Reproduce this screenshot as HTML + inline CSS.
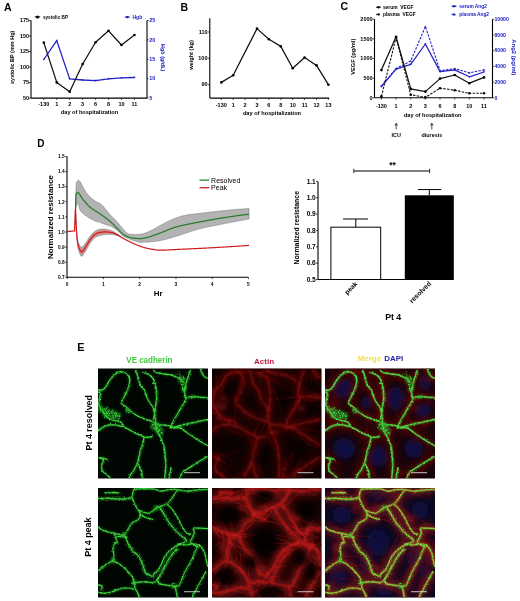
<!DOCTYPE html>
<html><head><meta charset="utf-8"><style>
html,body{margin:0;padding:0;background:#fff;}
svg{display:block;font-family:"Liberation Sans", sans-serif;filter:blur(0.35px);}
</style></head><body>
<svg width="520" height="601" viewBox="0 0 520 601">
<rect width="520" height="601" fill="#fff"/>
<defs>
<filter id="jag" x="-5%" y="-5%" width="110%" height="110%"><feTurbulence type="fractalNoise" baseFrequency="0.4" numOctaves="2" seed="3" result="n"/><feDisplacementMap in="SourceGraphic" in2="n" scale="2.0" xChannelSelector="R" yChannelSelector="G" result="d"/><feGaussianBlur in="d" stdDeviation="0.3"/></filter>
<filter id="jag2" x="-5%" y="-5%" width="110%" height="110%"><feTurbulence type="fractalNoise" baseFrequency="0.5" numOctaves="2" seed="9" result="n"/><feDisplacementMap in="SourceGraphic" in2="n" scale="2.6" xChannelSelector="R" yChannelSelector="G" result="d"/><feGaussianBlur in="d" stdDeviation="0.35"/></filter>
<filter id="jb" x="-5%" y="-5%" width="110%" height="110%"><feTurbulence type="fractalNoise" baseFrequency="0.3" numOctaves="2" seed="5" result="n"/><feDisplacementMap in="SourceGraphic" in2="n" scale="3" xChannelSelector="R" yChannelSelector="G" result="d"/><feGaussianBlur in="d" stdDeviation="0.9"/></filter>
<filter id="gt" x="-5%" y="-5%" width="110%" height="110%"><feTurbulence type="fractalNoise" baseFrequency="0.55" numOctaves="2" seed="2" result="n"/><feColorMatrix in="n" type="matrix" values="0 0 0 0 1  0 0 0 0 1  0 0 0 0 1  0 0 0 2.2 -0.35" result="na"/><feDisplacementMap in="SourceGraphic" in2="n" scale="2.4" xChannelSelector="R" yChannelSelector="G" result="d"/><feComposite in="d" in2="na" operator="in" result="m"/><feGaussianBlur in="m" stdDeviation="0.3"/></filter>
<filter id="gt2" x="-20%" y="-20%" width="140%" height="140%"><feTurbulence type="fractalNoise" baseFrequency="0.7" numOctaves="2" seed="4" result="n"/><feColorMatrix in="n" type="matrix" values="0 0 0 0 1  0 0 0 0 1  0 0 0 0 1  0 0 0 3.5 -1.5" result="na"/><feDisplacementMap in="SourceGraphic" in2="n" scale="4" xChannelSelector="R" yChannelSelector="G" result="d"/><feComposite in="d" in2="na" operator="in" result="m"/><feGaussianBlur in="m" stdDeviation="0.4"/></filter>
<filter id="bl" x="-50%" y="-50%" width="200%" height="200%"><feGaussianBlur stdDeviation="1.2"/></filter>
<filter id="rb" x="-5%" y="-5%" width="110%" height="110%"><feGaussianBlur stdDeviation="0.8"/></filter><filter id="rjag2" x="-5%" y="-5%" width="110%" height="110%"><feTurbulence type="fractalNoise" baseFrequency="0.3" numOctaves="2" seed="8" result="n"/><feDisplacementMap in="SourceGraphic" in2="n" scale="3" xChannelSelector="R" yChannelSelector="G" result="d"/><feGaussianBlur in="d" stdDeviation="1.1"/></filter><filter id="rb2" x="-5%" y="-5%" width="110%" height="110%"><feGaussianBlur stdDeviation="0.4"/></filter><filter id="rjag" x="-5%" y="-5%" width="110%" height="110%"><feTurbulence type="fractalNoise" baseFrequency="0.3" numOctaves="2" seed="7" result="n"/><feDisplacementMap in="SourceGraphic" in2="n" scale="2.5" xChannelSelector="R" yChannelSelector="G" result="d"/><feGaussianBlur in="d" stdDeviation="0.75"/></filter>
<filter id="hz" x="-10%" y="-10%" width="120%" height="120%"><feGaussianBlur stdDeviation="3.5"/></filter>
<filter id="nb" x="-50%" y="-50%" width="200%" height="200%"><feGaussianBlur stdDeviation="2.5"/></filter>
<clipPath id="pc"><rect width="110" height="110"/></clipPath>
</defs>
<text x="4.00" y="11.00" font-size="10.5" font-weight="bold" text-anchor="start" fill="#000">A</text>
<line x1="31.00" y1="20.50" x2="31.00" y2="98.10" stroke="#000" stroke-width="1.1"/>
<line x1="147.00" y1="20.50" x2="147.00" y2="98.10" stroke="#000" stroke-width="1.1"/>
<line x1="31.00" y1="98.10" x2="147.00" y2="98.10" stroke="#000" stroke-width="1.1"/>
<line x1="29.00" y1="20.50" x2="31.00" y2="20.50" stroke="#000" stroke-width="0.7"/>
<text x="29.20" y="22.20" font-size="5.5" font-weight="bold" text-anchor="end" fill="#000">175</text>
<line x1="29.00" y1="36.02" x2="31.00" y2="36.02" stroke="#000" stroke-width="0.7"/>
<text x="29.20" y="37.72" font-size="5.5" font-weight="bold" text-anchor="end" fill="#000">150</text>
<line x1="29.00" y1="51.54" x2="31.00" y2="51.54" stroke="#000" stroke-width="0.7"/>
<text x="29.20" y="53.24" font-size="5.5" font-weight="bold" text-anchor="end" fill="#000">125</text>
<line x1="29.00" y1="67.06" x2="31.00" y2="67.06" stroke="#000" stroke-width="0.7"/>
<text x="29.20" y="68.76" font-size="5.5" font-weight="bold" text-anchor="end" fill="#000">100</text>
<line x1="29.00" y1="82.58" x2="31.00" y2="82.58" stroke="#000" stroke-width="0.7"/>
<text x="29.20" y="84.28" font-size="5.5" font-weight="bold" text-anchor="end" fill="#000">75</text>
<line x1="29.00" y1="98.10" x2="31.00" y2="98.10" stroke="#000" stroke-width="0.7"/>
<text x="29.20" y="99.80" font-size="5.5" font-weight="bold" text-anchor="end" fill="#000">50</text>
<line x1="147.00" y1="20.50" x2="148.60" y2="20.50" stroke="#000" stroke-width="0.7"/>
<text x="149.30" y="22.20" font-size="5.5" font-weight="bold" text-anchor="start" fill="#2020c8">25</text>
<line x1="147.00" y1="39.90" x2="148.60" y2="39.90" stroke="#000" stroke-width="0.7"/>
<text x="149.30" y="41.60" font-size="5.5" font-weight="bold" text-anchor="start" fill="#2020c8">20</text>
<line x1="147.00" y1="59.30" x2="148.60" y2="59.30" stroke="#000" stroke-width="0.7"/>
<text x="149.30" y="61.00" font-size="5.5" font-weight="bold" text-anchor="start" fill="#2020c8">15</text>
<line x1="147.00" y1="78.70" x2="148.60" y2="78.70" stroke="#000" stroke-width="0.7"/>
<text x="149.30" y="80.40" font-size="5.5" font-weight="bold" text-anchor="start" fill="#2020c8">10</text>
<line x1="147.00" y1="98.10" x2="148.60" y2="98.10" stroke="#000" stroke-width="0.7"/>
<text x="149.30" y="99.80" font-size="5.5" font-weight="bold" text-anchor="start" fill="#2020c8">5</text>
<line x1="43.80" y1="98.10" x2="43.80" y2="99.90" stroke="#000" stroke-width="0.7"/>
<text x="43.80" y="106.00" font-size="5.5" font-weight="bold" text-anchor="middle" fill="#000">-130</text>
<line x1="56.75" y1="98.10" x2="56.75" y2="99.90" stroke="#000" stroke-width="0.7"/>
<text x="56.75" y="106.00" font-size="5.5" font-weight="bold" text-anchor="middle" fill="#000">1</text>
<line x1="69.70" y1="98.10" x2="69.70" y2="99.90" stroke="#000" stroke-width="0.7"/>
<text x="69.70" y="106.00" font-size="5.5" font-weight="bold" text-anchor="middle" fill="#000">2</text>
<line x1="82.65" y1="98.10" x2="82.65" y2="99.90" stroke="#000" stroke-width="0.7"/>
<text x="82.65" y="106.00" font-size="5.5" font-weight="bold" text-anchor="middle" fill="#000">3</text>
<line x1="95.60" y1="98.10" x2="95.60" y2="99.90" stroke="#000" stroke-width="0.7"/>
<text x="95.60" y="106.00" font-size="5.5" font-weight="bold" text-anchor="middle" fill="#000">6</text>
<line x1="108.55" y1="98.10" x2="108.55" y2="99.90" stroke="#000" stroke-width="0.7"/>
<text x="108.55" y="106.00" font-size="5.5" font-weight="bold" text-anchor="middle" fill="#000">8</text>
<line x1="121.50" y1="98.10" x2="121.50" y2="99.90" stroke="#000" stroke-width="0.7"/>
<text x="121.50" y="106.00" font-size="5.5" font-weight="bold" text-anchor="middle" fill="#000">10</text>
<line x1="134.45" y1="98.10" x2="134.45" y2="99.90" stroke="#000" stroke-width="0.7"/>
<text x="134.45" y="106.00" font-size="5.5" font-weight="bold" text-anchor="middle" fill="#000">11</text>
<text x="89.50" y="114.20" font-size="5.6" font-weight="bold" text-anchor="middle" fill="#000" textLength="57.3" lengthAdjust="spacingAndGlyphs">day of hospitalization</text>
<text x="14.40" y="57.30" font-size="5.6" font-weight="bold" text-anchor="middle" fill="#000" transform="rotate(-90 14.4 57.3)" textLength="53.3" lengthAdjust="spacingAndGlyphs">systolic BP (mm Hg)</text>
<text x="161.30" y="57.70" font-size="5.8" font-weight="bold" text-anchor="middle" fill="#2020c8" transform="rotate(90 161.3 57.7)" textLength="27.3" lengthAdjust="spacingAndGlyphs">Hgb (g/dL)</text>
<line x1="34.80" y1="16.90" x2="40.20" y2="16.90" stroke="#000" stroke-width="1.0"/>
<circle cx="37.50" cy="16.90" r="1.5" fill="#000"/>
<text x="42.90" y="18.60" font-size="4.67" font-weight="bold" text-anchor="start" fill="#000">systolic BP</text>
<line x1="124.80" y1="17.20" x2="129.80" y2="17.20" stroke="#2020c8" stroke-width="1.0"/>
<path d="M125.60,16.01 L129.00,16.01 L127.30,18.73Z" fill="#2020c8"/>
<text x="132.50" y="18.90" font-size="5.0" font-weight="bold" text-anchor="start" fill="#2020c8">Hgb</text>
<polyline points="43.80,59.50 56.75,40.60 69.70,78.90 82.65,80.00 95.60,80.60 108.55,78.90 121.50,77.90 134.45,77.50" fill="none" stroke="#2020c8" stroke-width="1.3" stroke-linejoin="round"/>
<path d="M42.60,58.66 L45.00,58.66 L43.80,60.58Z" fill="#2020c8"/>
<path d="M55.55,39.76 L57.95,39.76 L56.75,41.68Z" fill="#2020c8"/>
<path d="M68.50,78.06 L70.90,78.06 L69.70,79.98Z" fill="#2020c8"/>
<path d="M81.45,79.16 L83.85,79.16 L82.65,81.08Z" fill="#2020c8"/>
<path d="M94.40,79.76 L96.80,79.76 L95.60,81.68Z" fill="#2020c8"/>
<path d="M107.35,78.06 L109.75,78.06 L108.55,79.98Z" fill="#2020c8"/>
<path d="M120.30,77.06 L122.70,77.06 L121.50,78.98Z" fill="#2020c8"/>
<path d="M133.25,76.66 L135.65,76.66 L134.45,78.58Z" fill="#2020c8"/>
<polyline points="43.80,42.60 56.75,82.40 69.70,91.70 82.65,64.00 95.60,42.20 108.55,30.80 121.50,45.00 134.45,35.00" fill="none" stroke="#111" stroke-width="1.25" stroke-linejoin="round"/>
<circle cx="43.80" cy="42.60" r="1.3" fill="#000"/>
<circle cx="56.75" cy="82.40" r="1.3" fill="#000"/>
<circle cx="69.70" cy="91.70" r="1.3" fill="#000"/>
<circle cx="82.65" cy="64.00" r="1.3" fill="#000"/>
<circle cx="95.60" cy="42.20" r="1.3" fill="#000"/>
<circle cx="108.55" cy="30.80" r="1.3" fill="#000"/>
<circle cx="121.50" cy="45.00" r="1.3" fill="#000"/>
<circle cx="134.45" cy="35.00" r="1.3" fill="#000"/>
<text x="180.40" y="10.70" font-size="10.5" font-weight="bold" text-anchor="start" fill="#000">B</text>
<line x1="209.80" y1="18.20" x2="209.80" y2="98.10" stroke="#000" stroke-width="1.1"/>
<line x1="209.80" y1="98.10" x2="329.20" y2="98.10" stroke="#000" stroke-width="1.1"/>
<line x1="207.80" y1="32.00" x2="209.80" y2="32.00" stroke="#000" stroke-width="0.7"/>
<text x="207.50" y="33.70" font-size="5.5" font-weight="bold" text-anchor="end" fill="#000">110</text>
<line x1="207.80" y1="58.30" x2="209.80" y2="58.30" stroke="#000" stroke-width="0.7"/>
<text x="207.50" y="60.00" font-size="5.5" font-weight="bold" text-anchor="end" fill="#000">100</text>
<line x1="207.80" y1="84.60" x2="209.80" y2="84.60" stroke="#000" stroke-width="0.7"/>
<text x="207.50" y="86.30" font-size="5.5" font-weight="bold" text-anchor="end" fill="#000">90</text>
<line x1="221.30" y1="98.10" x2="221.30" y2="99.90" stroke="#000" stroke-width="0.7"/>
<text x="221.30" y="106.80" font-size="5.5" font-weight="bold" text-anchor="middle" fill="#000">-130</text>
<line x1="233.20" y1="98.10" x2="233.20" y2="99.90" stroke="#000" stroke-width="0.7"/>
<text x="233.20" y="106.80" font-size="5.5" font-weight="bold" text-anchor="middle" fill="#000">1</text>
<line x1="245.10" y1="98.10" x2="245.10" y2="99.90" stroke="#000" stroke-width="0.7"/>
<text x="245.10" y="106.80" font-size="5.5" font-weight="bold" text-anchor="middle" fill="#000">2</text>
<line x1="257.00" y1="98.10" x2="257.00" y2="99.90" stroke="#000" stroke-width="0.7"/>
<text x="257.00" y="106.80" font-size="5.5" font-weight="bold" text-anchor="middle" fill="#000">3</text>
<line x1="268.90" y1="98.10" x2="268.90" y2="99.90" stroke="#000" stroke-width="0.7"/>
<text x="268.90" y="106.80" font-size="5.5" font-weight="bold" text-anchor="middle" fill="#000">6</text>
<line x1="280.80" y1="98.10" x2="280.80" y2="99.90" stroke="#000" stroke-width="0.7"/>
<text x="280.80" y="106.80" font-size="5.5" font-weight="bold" text-anchor="middle" fill="#000">8</text>
<line x1="292.70" y1="98.10" x2="292.70" y2="99.90" stroke="#000" stroke-width="0.7"/>
<text x="292.70" y="106.80" font-size="5.5" font-weight="bold" text-anchor="middle" fill="#000">10</text>
<line x1="304.60" y1="98.10" x2="304.60" y2="99.90" stroke="#000" stroke-width="0.7"/>
<text x="304.60" y="106.80" font-size="5.5" font-weight="bold" text-anchor="middle" fill="#000">11</text>
<line x1="316.50" y1="98.10" x2="316.50" y2="99.90" stroke="#000" stroke-width="0.7"/>
<text x="316.50" y="106.80" font-size="5.5" font-weight="bold" text-anchor="middle" fill="#000">12</text>
<line x1="328.40" y1="98.10" x2="328.40" y2="99.90" stroke="#000" stroke-width="0.7"/>
<text x="328.40" y="106.80" font-size="5.5" font-weight="bold" text-anchor="middle" fill="#000">13</text>
<text x="272.00" y="114.60" font-size="5.6" font-weight="bold" text-anchor="middle" fill="#000" textLength="58.2" lengthAdjust="spacingAndGlyphs">day of hospitalization</text>
<text x="192.60" y="55.00" font-size="5.4" font-weight="bold" text-anchor="middle" fill="#000" transform="rotate(-90 192.6 55.0)" textLength="29.7" lengthAdjust="spacingAndGlyphs">weight (kg)</text>
<polyline points="221.30,82.40 233.20,75.20 257.00,28.60 268.90,39.20 280.80,46.40 292.70,68.30 304.60,57.50 316.50,65.40 328.40,84.70" fill="none" stroke="#111" stroke-width="1.25" stroke-linejoin="round"/>
<circle cx="221.30" cy="82.40" r="1.3" fill="#000"/>
<circle cx="233.20" cy="75.20" r="1.3" fill="#000"/>
<circle cx="257.00" cy="28.60" r="1.3" fill="#000"/>
<circle cx="268.90" cy="39.20" r="1.3" fill="#000"/>
<circle cx="280.80" cy="46.40" r="1.3" fill="#000"/>
<circle cx="292.70" cy="68.30" r="1.3" fill="#000"/>
<circle cx="304.60" cy="57.50" r="1.3" fill="#000"/>
<circle cx="316.50" cy="65.40" r="1.3" fill="#000"/>
<circle cx="328.40" cy="84.70" r="1.3" fill="#000"/>
<text x="340.50" y="10.20" font-size="10.5" font-weight="bold" text-anchor="start" fill="#000">C</text>
<line x1="374.50" y1="19.20" x2="374.50" y2="97.80" stroke="#000" stroke-width="1.1"/>
<line x1="492.50" y1="19.20" x2="492.50" y2="97.80" stroke="#000" stroke-width="1.1"/>
<line x1="374.50" y1="97.80" x2="492.50" y2="97.80" stroke="#000" stroke-width="1.1"/>
<line x1="372.50" y1="19.20" x2="374.50" y2="19.20" stroke="#000" stroke-width="0.7"/>
<text x="372.60" y="20.90" font-size="5.5" font-weight="bold" text-anchor="end" fill="#000">2000</text>
<line x1="372.50" y1="38.85" x2="374.50" y2="38.85" stroke="#000" stroke-width="0.7"/>
<text x="372.60" y="40.55" font-size="5.5" font-weight="bold" text-anchor="end" fill="#000">1500</text>
<line x1="372.50" y1="58.50" x2="374.50" y2="58.50" stroke="#000" stroke-width="0.7"/>
<text x="372.60" y="60.20" font-size="5.5" font-weight="bold" text-anchor="end" fill="#000">1000</text>
<line x1="372.50" y1="78.15" x2="374.50" y2="78.15" stroke="#000" stroke-width="0.7"/>
<text x="372.60" y="79.85" font-size="5.5" font-weight="bold" text-anchor="end" fill="#000">500</text>
<line x1="372.50" y1="97.80" x2="374.50" y2="97.80" stroke="#000" stroke-width="0.7"/>
<text x="372.60" y="99.50" font-size="5.5" font-weight="bold" text-anchor="end" fill="#000">0</text>
<line x1="492.50" y1="19.20" x2="494.10" y2="19.20" stroke="#000" stroke-width="0.7"/>
<text x="494.40" y="20.90" font-size="5.2" font-weight="bold" text-anchor="start" fill="#2020c8">10000</text>
<line x1="492.50" y1="34.92" x2="494.10" y2="34.92" stroke="#000" stroke-width="0.7"/>
<text x="494.40" y="36.62" font-size="5.2" font-weight="bold" text-anchor="start" fill="#2020c8">8000</text>
<line x1="492.50" y1="50.64" x2="494.10" y2="50.64" stroke="#000" stroke-width="0.7"/>
<text x="494.40" y="52.34" font-size="5.2" font-weight="bold" text-anchor="start" fill="#2020c8">6000</text>
<line x1="492.50" y1="66.36" x2="494.10" y2="66.36" stroke="#000" stroke-width="0.7"/>
<text x="494.40" y="68.06" font-size="5.2" font-weight="bold" text-anchor="start" fill="#2020c8">4000</text>
<line x1="492.50" y1="82.08" x2="494.10" y2="82.08" stroke="#000" stroke-width="0.7"/>
<text x="494.40" y="83.78" font-size="5.2" font-weight="bold" text-anchor="start" fill="#2020c8">2000</text>
<line x1="492.50" y1="97.80" x2="494.10" y2="97.80" stroke="#000" stroke-width="0.7"/>
<text x="494.40" y="99.50" font-size="5.2" font-weight="bold" text-anchor="start" fill="#2020c8">0</text>
<line x1="381.40" y1="97.80" x2="381.40" y2="99.60" stroke="#000" stroke-width="0.7"/>
<text x="381.40" y="107.50" font-size="5.5" font-weight="bold" text-anchor="middle" fill="#000">-130</text>
<line x1="396.06" y1="97.80" x2="396.06" y2="99.60" stroke="#000" stroke-width="0.7"/>
<text x="396.06" y="107.50" font-size="5.5" font-weight="bold" text-anchor="middle" fill="#000">1</text>
<line x1="410.72" y1="97.80" x2="410.72" y2="99.60" stroke="#000" stroke-width="0.7"/>
<text x="410.72" y="107.50" font-size="5.5" font-weight="bold" text-anchor="middle" fill="#000">2</text>
<line x1="425.38" y1="97.80" x2="425.38" y2="99.60" stroke="#000" stroke-width="0.7"/>
<text x="425.38" y="107.50" font-size="5.5" font-weight="bold" text-anchor="middle" fill="#000">3</text>
<line x1="440.04" y1="97.80" x2="440.04" y2="99.60" stroke="#000" stroke-width="0.7"/>
<text x="440.04" y="107.50" font-size="5.5" font-weight="bold" text-anchor="middle" fill="#000">6</text>
<line x1="454.70" y1="97.80" x2="454.70" y2="99.60" stroke="#000" stroke-width="0.7"/>
<text x="454.70" y="107.50" font-size="5.5" font-weight="bold" text-anchor="middle" fill="#000">8</text>
<line x1="469.36" y1="97.80" x2="469.36" y2="99.60" stroke="#000" stroke-width="0.7"/>
<text x="469.36" y="107.50" font-size="5.5" font-weight="bold" text-anchor="middle" fill="#000">10</text>
<line x1="484.02" y1="97.80" x2="484.02" y2="99.60" stroke="#000" stroke-width="0.7"/>
<text x="484.02" y="107.50" font-size="5.5" font-weight="bold" text-anchor="middle" fill="#000">11</text>
<text x="432.70" y="117.20" font-size="5.6" font-weight="bold" text-anchor="middle" fill="#000" textLength="57.7" lengthAdjust="spacingAndGlyphs">day of hospitalization</text>
<text x="355.20" y="56.70" font-size="5.5" font-weight="bold" text-anchor="middle" fill="#000" transform="rotate(-90 355.2 56.7)" textLength="36" lengthAdjust="spacingAndGlyphs">VEGF (pg/ml)</text>
<text x="512.30" y="57.30" font-size="5.8" font-weight="bold" text-anchor="middle" fill="#2020c8" transform="rotate(90 512.3 57.3)" textLength="36" lengthAdjust="spacingAndGlyphs">Ang2 (pg/ml)</text>
<line x1="396.20" y1="124.00" x2="396.20" y2="129.50" stroke="#000" stroke-width="0.7"/>
<path d="M394.90,125.6 L396.2,123.2 L397.50,125.6" fill="none" stroke="#000" stroke-width="0.7"/>
<text x="396.20" y="136.60" font-size="5.4" font-weight="bold" text-anchor="middle" fill="#000">ICU</text>
<line x1="431.80" y1="124.00" x2="431.80" y2="129.50" stroke="#000" stroke-width="0.7"/>
<path d="M430.50,125.6 L431.8,123.2 L433.10,125.6" fill="none" stroke="#000" stroke-width="0.7"/>
<text x="431.80" y="136.60" font-size="5.4" font-weight="bold" text-anchor="middle" fill="#000">diuresis</text>
<line x1="376.00" y1="7.20" x2="381.00" y2="7.20" stroke="#000" stroke-width="0.9"/>
<circle cx="378.50" cy="7.20" r="1.2" fill="#000"/>
<text x="382.90" y="8.90" font-size="4.9" font-weight="bold" text-anchor="start" fill="#000">serum&#160;&#160;VEGF</text>
<line x1="376.00" y1="14.40" x2="381.00" y2="14.40" stroke="#000" stroke-width="0.9" stroke-dasharray="1.5,1"/>
<circle cx="378.50" cy="14.40" r="1.2" fill="#000"/>
<text x="382.90" y="16.20" font-size="4.9" font-weight="bold" text-anchor="start" fill="#000">plasma&#160;&#160;VEGF</text>
<line x1="451.50" y1="6.40" x2="456.50" y2="6.40" stroke="#2020c8" stroke-width="1.0"/>
<path d="M452.30,5.21 L455.70,5.21 L454.00,7.93Z" fill="#2020c8"/>
<text x="459.30" y="8.10" font-size="4.8" font-weight="bold" text-anchor="start" fill="#2020c8">serum Ang2</text>
<line x1="451.50" y1="14.30" x2="456.50" y2="14.30" stroke="#2020c8" stroke-width="1.0" stroke-dasharray="1.5,1"/>
<path d="M452.40,15.42 L455.60,15.42 L454.00,12.86Z" fill="#2020c8"/>
<text x="459.30" y="16.00" font-size="4.8" font-weight="bold" text-anchor="start" fill="#2020c8">plasma Ang2</text>
<polyline points="381.40,86.00 396.06,68.50 410.72,61.00 425.38,26.50 440.04,70.80 454.70,68.60 469.36,72.80 484.02,69.80" fill="none" stroke="#2020c8" stroke-width="1.1" stroke-linejoin="round" stroke-dasharray="2.4,1.3"/>
<polyline points="381.40,86.60 396.06,69.10 410.72,64.40 425.38,44.00 440.04,71.60 454.70,69.90 469.36,76.80 484.02,72.00" fill="none" stroke="#2020c8" stroke-width="1.25" stroke-linejoin="round"/>
<path d="M380.20,85.76 L382.60,85.76 L381.40,87.68Z" fill="#2020c8"/>
<path d="M394.86,68.26 L397.26,68.26 L396.06,70.18Z" fill="#2020c8"/>
<path d="M409.52,63.56 L411.92,63.56 L410.72,65.48Z" fill="#2020c8"/>
<path d="M424.18,43.16 L426.58,43.16 L425.38,45.08Z" fill="#2020c8"/>
<path d="M438.84,70.76 L441.24,70.76 L440.04,72.68Z" fill="#2020c8"/>
<path d="M453.50,69.06 L455.90,69.06 L454.70,70.98Z" fill="#2020c8"/>
<path d="M468.16,75.96 L470.56,75.96 L469.36,77.88Z" fill="#2020c8"/>
<path d="M482.82,71.16 L485.22,71.16 L484.02,73.08Z" fill="#2020c8"/>
<path d="M380.20,86.84 L382.60,86.84 L381.40,84.92Z" fill="#2020c8"/>
<path d="M394.86,69.34 L397.26,69.34 L396.06,67.42Z" fill="#2020c8"/>
<path d="M409.52,61.84 L411.92,61.84 L410.72,59.92Z" fill="#2020c8"/>
<path d="M424.18,27.34 L426.58,27.34 L425.38,25.42Z" fill="#2020c8"/>
<path d="M438.84,71.64 L441.24,71.64 L440.04,69.72Z" fill="#2020c8"/>
<path d="M453.50,69.44 L455.90,69.44 L454.70,67.52Z" fill="#2020c8"/>
<path d="M468.16,73.64 L470.56,73.64 L469.36,71.72Z" fill="#2020c8"/>
<path d="M482.82,70.64 L485.22,70.64 L484.02,68.72Z" fill="#2020c8"/>
<polyline points="381.40,96.40 396.06,37.50 410.72,94.70 425.38,97.40 440.04,88.20 454.70,90.20 469.36,93.30 484.02,93.30" fill="none" stroke="#111" stroke-width="1.1" stroke-linejoin="round" stroke-dasharray="2.4,1.3"/>
<polyline points="381.40,70.10 396.06,36.80 410.72,88.90 425.38,91.60 440.04,78.60 454.70,75.00 469.36,83.20 484.02,77.40" fill="none" stroke="#111" stroke-width="1.25" stroke-linejoin="round"/>
<circle cx="381.40" cy="70.10" r="1.3" fill="#000"/>
<circle cx="396.06" cy="36.80" r="1.3" fill="#000"/>
<circle cx="410.72" cy="88.90" r="1.3" fill="#000"/>
<circle cx="425.38" cy="91.60" r="1.3" fill="#000"/>
<circle cx="440.04" cy="78.60" r="1.3" fill="#000"/>
<circle cx="454.70" cy="75.00" r="1.3" fill="#000"/>
<circle cx="469.36" cy="83.20" r="1.3" fill="#000"/>
<circle cx="484.02" cy="77.40" r="1.3" fill="#000"/>
<circle cx="381.40" cy="96.40" r="1.3" fill="#000"/>
<circle cx="396.06" cy="37.50" r="1.3" fill="#000"/>
<circle cx="410.72" cy="94.70" r="1.3" fill="#000"/>
<circle cx="425.38" cy="97.40" r="1.3" fill="#000"/>
<circle cx="440.04" cy="88.20" r="1.3" fill="#000"/>
<circle cx="454.70" cy="90.20" r="1.3" fill="#000"/>
<circle cx="469.36" cy="93.30" r="1.3" fill="#000"/>
<circle cx="484.02" cy="93.30" r="1.3" fill="#000"/>
<text x="37.30" y="147.00" font-size="10.0" font-weight="bold" text-anchor="start" fill="#000">D</text>
<line x1="67.00" y1="156.50" x2="67.00" y2="277.30" stroke="#000" stroke-width="1.1"/>
<line x1="67.00" y1="277.30" x2="248.45" y2="277.30" stroke="#000" stroke-width="1.1"/>
<line x1="65.20" y1="156.50" x2="67.00" y2="156.50" stroke="#000" stroke-width="0.7"/>
<text x="64.60" y="158.20" font-size="4.8" font-weight="bold" text-anchor="end" fill="#000">1.5</text>
<line x1="65.20" y1="171.60" x2="67.00" y2="171.60" stroke="#000" stroke-width="0.7"/>
<text x="64.60" y="173.30" font-size="4.8" font-weight="bold" text-anchor="end" fill="#000">1.4</text>
<line x1="65.20" y1="186.70" x2="67.00" y2="186.70" stroke="#000" stroke-width="0.7"/>
<text x="64.60" y="188.40" font-size="4.8" font-weight="bold" text-anchor="end" fill="#000">1.3</text>
<line x1="65.20" y1="201.80" x2="67.00" y2="201.80" stroke="#000" stroke-width="0.7"/>
<text x="64.60" y="203.50" font-size="4.8" font-weight="bold" text-anchor="end" fill="#000">1.2</text>
<line x1="65.20" y1="216.90" x2="67.00" y2="216.90" stroke="#000" stroke-width="0.7"/>
<text x="64.60" y="218.60" font-size="4.8" font-weight="bold" text-anchor="end" fill="#000">1.1</text>
<line x1="65.20" y1="232.00" x2="67.00" y2="232.00" stroke="#000" stroke-width="0.7"/>
<text x="64.60" y="233.70" font-size="4.8" font-weight="bold" text-anchor="end" fill="#000">1.0</text>
<line x1="65.20" y1="247.10" x2="67.00" y2="247.10" stroke="#000" stroke-width="0.7"/>
<text x="64.60" y="248.80" font-size="4.8" font-weight="bold" text-anchor="end" fill="#000">0.9</text>
<line x1="65.20" y1="262.20" x2="67.00" y2="262.20" stroke="#000" stroke-width="0.7"/>
<text x="64.60" y="263.90" font-size="4.8" font-weight="bold" text-anchor="end" fill="#000">0.8</text>
<line x1="65.20" y1="277.30" x2="67.00" y2="277.30" stroke="#000" stroke-width="0.7"/>
<text x="64.60" y="279.00" font-size="4.8" font-weight="bold" text-anchor="end" fill="#000">0.7</text>
<line x1="67.20" y1="277.30" x2="67.20" y2="279.10" stroke="#000" stroke-width="0.7"/>
<text x="67.20" y="286.00" font-size="4.8" font-weight="bold" text-anchor="middle" fill="#000">0</text>
<line x1="103.45" y1="277.30" x2="103.45" y2="279.10" stroke="#000" stroke-width="0.7"/>
<text x="103.45" y="286.00" font-size="4.8" font-weight="bold" text-anchor="middle" fill="#000">1</text>
<line x1="139.70" y1="277.30" x2="139.70" y2="279.10" stroke="#000" stroke-width="0.7"/>
<text x="139.70" y="286.00" font-size="4.8" font-weight="bold" text-anchor="middle" fill="#000">2</text>
<line x1="175.95" y1="277.30" x2="175.95" y2="279.10" stroke="#000" stroke-width="0.7"/>
<text x="175.95" y="286.00" font-size="4.8" font-weight="bold" text-anchor="middle" fill="#000">3</text>
<line x1="212.20" y1="277.30" x2="212.20" y2="279.10" stroke="#000" stroke-width="0.7"/>
<text x="212.20" y="286.00" font-size="4.8" font-weight="bold" text-anchor="middle" fill="#000">4</text>
<line x1="248.45" y1="277.30" x2="248.45" y2="279.10" stroke="#000" stroke-width="0.7"/>
<text x="248.45" y="286.00" font-size="4.8" font-weight="bold" text-anchor="middle" fill="#000">5</text>
<text x="158.20" y="296.30" font-size="8.0" font-weight="bold" text-anchor="middle" fill="#000">Hr</text>
<text x="53.40" y="217.00" font-size="7.9" font-weight="bold" text-anchor="middle" fill="#000" transform="rotate(-90 53.4 217.0)" textLength="84" lengthAdjust="spacingAndGlyphs">Normalized resistance</text>
<polygon points="75.60,207.00 75.95,191.66 76.29,183.02 76.64,182.16 76.99,181.50 77.34,181.00 77.68,180.65 78.03,180.42 78.38,180.32 78.73,180.31 79.07,180.45 79.42,180.74 79.77,181.15 80.12,181.65 80.46,182.24 80.81,182.89 81.16,183.57 81.51,184.26 81.85,184.95 82.20,185.61 82.55,186.22 82.90,186.80 83.24,187.41 83.59,188.05 83.94,188.70 84.29,189.36 84.63,190.01 84.98,190.64 85.33,191.24 85.68,191.81 86.02,192.34 86.37,192.83 86.72,193.30 87.07,193.76 87.41,194.20 87.76,194.62 88.11,195.03 88.46,195.42 88.80,195.80 89.15,196.15 89.50,196.49 89.85,196.83 90.19,197.16 90.54,197.48 90.89,197.79 91.24,198.10 91.58,198.40 91.93,198.70 92.28,198.99 92.63,199.27 92.97,199.54 93.32,199.81 93.67,200.06 94.02,200.32 94.36,200.56 94.71,200.80 95.06,201.02 95.41,201.24 95.75,201.46 96.10,201.66 96.45,201.84 96.80,202.01 97.14,202.17 97.49,202.32 97.84,202.46 98.19,202.60 98.53,202.75 98.88,202.90 99.23,203.07 99.58,203.25 99.92,203.45 100.27,203.68 100.62,203.93 100.97,204.20 101.31,204.49 101.66,204.80 102.01,205.13 102.36,205.48 102.70,205.84 103.05,206.21 103.40,206.60 103.75,207.00 104.09,207.41 104.44,207.83 104.79,208.25 105.14,208.69 105.48,209.12 105.83,209.56 106.18,210.00 106.53,210.44 106.87,210.89 107.22,211.33 107.57,211.76 107.92,212.19 108.26,212.62 108.61,213.03 108.96,213.44 109.31,213.84 109.65,214.23 110.00,214.60 110.35,214.97 110.70,215.33 111.04,215.68 111.39,216.03 111.74,216.38 112.09,216.72 112.43,217.07 112.78,217.41 113.13,217.75 113.48,218.09 113.82,218.43 114.17,218.77 114.52,219.11 114.87,219.46 115.21,219.81 115.56,220.16 115.91,220.52 116.26,220.88 116.60,221.25 116.95,221.62 117.30,222.00 117.65,222.39 117.99,222.80 118.34,223.22 118.69,223.64 119.04,224.08 119.38,224.52 119.73,224.97 120.08,225.41 120.43,225.86 120.77,226.30 121.12,226.73 121.47,227.16 121.82,227.58 122.16,227.98 122.51,228.38 122.86,228.75 123.21,229.11 123.55,229.48 123.90,229.85 124.25,230.24 124.60,230.63 124.94,231.03 125.29,231.41 125.64,231.79 125.99,232.15 126.33,232.49 126.68,232.81 127.03,233.10 127.38,233.37 127.72,233.59 128.07,233.77 128.42,233.91 128.77,233.99 129.11,234.05 129.46,234.10 129.81,234.15 130.16,234.19 130.50,234.24 130.85,234.28 131.20,234.32 131.55,234.35 131.89,234.38 132.24,234.41 132.59,234.43 132.94,234.45 133.28,234.47 133.63,234.48 133.98,234.49 134.33,234.50 134.67,234.50 135.02,234.50 135.37,234.49 135.72,234.49 136.06,234.48 136.41,234.46 136.76,234.45 137.11,234.43 137.45,234.41 137.80,234.39 138.15,234.37 138.50,234.35 138.84,234.32 139.19,234.30 139.54,234.27 139.89,234.24 140.23,234.21 140.58,234.18 140.93,234.15 141.28,234.10 141.62,234.04 141.97,233.98 142.32,233.91 142.67,233.83 143.01,233.74 143.36,233.65 143.71,233.55 144.06,233.45 144.40,233.34 144.75,233.22 145.10,233.10 145.45,232.98 145.79,232.85 146.14,232.71 146.49,232.57 146.84,232.43 147.18,232.29 147.53,232.14 147.88,231.99 148.23,231.84 148.57,231.69 148.92,231.53 149.27,231.38 149.62,231.22 149.96,231.07 150.31,230.91 150.66,230.75 151.01,230.60 151.35,230.44 151.70,230.29 152.05,230.13 152.40,229.97 152.74,229.81 153.09,229.63 153.44,229.45 153.79,229.26 154.13,229.06 154.48,228.86 154.83,228.66 155.18,228.45 155.52,228.25 155.87,228.03 156.22,227.82 156.57,227.61 156.91,227.39 157.26,227.18 157.61,226.97 157.96,226.76 158.30,226.55 158.65,226.35 159.00,226.15 159.35,225.95 159.69,225.76 160.04,225.58 160.39,225.40 160.74,225.21 161.08,225.03 161.43,224.85 161.78,224.67 162.13,224.48 162.47,224.30 162.82,224.12 163.17,223.94 163.52,223.76 163.86,223.57 164.21,223.39 164.56,223.21 164.91,223.03 165.25,222.85 165.60,222.67 165.95,222.50 166.30,222.32 166.64,222.14 166.99,221.97 167.34,221.79 167.69,221.62 168.03,221.45 168.38,221.28 168.73,221.11 169.08,220.94 169.42,220.77 169.77,220.61 170.12,220.45 170.47,220.28 170.81,220.12 171.16,219.97 171.51,219.81 171.86,219.66 172.20,219.50 172.55,219.35 172.90,219.21 173.25,219.06 173.59,218.92 173.94,218.78 174.29,218.64 174.64,218.51 174.98,218.37 175.33,218.24 175.68,218.12 176.03,217.99 176.37,217.87 176.72,217.75 177.07,217.62 177.42,217.50 177.76,217.38 178.11,217.27 178.46,217.15 178.81,217.03 179.15,216.92 179.50,216.80 179.85,216.69 180.20,216.58 180.54,216.48 180.89,216.37 181.24,216.27 181.59,216.17 181.93,216.07 182.28,215.97 182.63,215.88 182.98,215.79 183.32,215.70 183.67,215.61 184.02,215.53 184.37,215.45 184.71,215.38 185.06,215.30 185.41,215.24 185.76,215.17 186.10,215.11 186.45,215.05 186.80,214.99 187.15,214.93 187.49,214.87 187.84,214.81 188.19,214.76 188.54,214.71 188.88,214.65 189.23,214.60 189.58,214.55 189.93,214.50 190.27,214.46 190.62,214.41 190.97,214.36 191.32,214.32 191.66,214.27 192.01,214.23 192.36,214.19 192.71,214.15 193.05,214.10 193.40,214.06 193.75,214.02 194.10,213.98 194.44,213.94 194.79,213.90 195.14,213.86 195.49,213.82 195.83,213.78 196.18,213.74 196.53,213.70 196.88,213.66 197.22,213.62 197.57,213.59 197.92,213.55 198.27,213.51 198.61,213.47 198.96,213.42 199.31,213.38 199.66,213.34 200.00,213.30 200.35,213.26 200.70,213.21 201.05,213.17 201.39,213.13 201.74,213.09 202.09,213.05 202.44,213.00 202.78,212.96 203.13,212.92 203.48,212.88 203.83,212.84 204.17,212.79 204.52,212.75 204.87,212.71 205.22,212.67 205.56,212.63 205.91,212.59 206.26,212.54 206.61,212.50 206.95,212.46 207.30,212.42 207.65,212.38 208.00,212.34 208.34,212.30 208.69,212.26 209.04,212.22 209.39,212.18 209.73,212.14 210.08,212.09 210.43,212.05 210.78,212.01 211.12,211.97 211.47,211.93 211.82,211.89 212.17,211.85 212.51,211.82 212.86,211.78 213.21,211.74 213.56,211.70 213.90,211.66 214.25,211.62 214.60,211.58 214.95,211.54 215.29,211.50 215.64,211.47 215.99,211.43 216.34,211.39 216.68,211.35 217.03,211.31 217.38,211.28 217.73,211.24 218.07,211.20 218.42,211.17 218.77,211.13 219.12,211.09 219.46,211.06 219.81,211.02 220.16,210.98 220.51,210.95 220.85,210.91 221.20,210.88 221.55,210.84 221.90,210.80 222.24,210.77 222.59,210.74 222.94,210.70 223.29,210.67 223.63,210.63 223.98,210.60 224.33,210.56 224.68,210.53 225.02,210.50 225.37,210.46 225.72,210.43 226.07,210.40 226.41,210.37 226.76,210.33 227.11,210.30 227.46,210.27 227.80,210.24 228.15,210.20 228.50,210.17 228.85,210.14 229.19,210.11 229.54,210.08 229.89,210.04 230.24,210.01 230.58,209.98 230.93,209.95 231.28,209.92 231.63,209.89 231.97,209.86 232.32,209.83 232.67,209.79 233.02,209.76 233.36,209.73 233.71,209.70 234.06,209.67 234.41,209.64 234.75,209.61 235.10,209.58 235.45,209.55 235.80,209.52 236.14,209.49 236.49,209.46 236.84,209.44 237.19,209.41 237.53,209.38 237.88,209.35 238.23,209.32 238.58,209.29 238.92,209.26 239.27,209.23 239.62,209.21 239.97,209.18 240.31,209.15 240.66,209.12 241.01,209.09 241.36,209.07 241.70,209.04 242.05,209.01 242.40,208.99 242.75,208.96 243.09,208.93 243.44,208.91 243.79,208.88 244.14,208.85 244.48,208.83 244.83,208.80 245.18,208.77 245.53,208.75 245.87,208.72 246.22,208.70 246.57,208.67 246.92,208.65 247.26,208.62 247.61,208.60 247.96,208.57 248.31,208.55 248.65,208.52 249.00,208.50 249.00,219.00 248.65,219.06 248.31,219.12 247.96,219.19 247.61,219.25 247.26,219.31 246.92,219.37 246.57,219.43 246.22,219.50 245.87,219.56 245.53,219.62 245.18,219.68 244.83,219.75 244.48,219.81 244.14,219.87 243.79,219.94 243.44,220.00 243.09,220.06 242.75,220.13 242.40,220.19 242.05,220.25 241.70,220.32 241.36,220.38 241.01,220.45 240.66,220.51 240.31,220.57 239.97,220.64 239.62,220.70 239.27,220.77 238.92,220.83 238.58,220.90 238.23,220.96 237.88,221.03 237.53,221.09 237.19,221.16 236.84,221.22 236.49,221.29 236.14,221.35 235.80,221.42 235.45,221.48 235.10,221.55 234.75,221.61 234.41,221.68 234.06,221.75 233.71,221.81 233.36,221.88 233.02,221.94 232.67,222.01 232.32,222.08 231.97,222.14 231.63,222.21 231.28,222.28 230.93,222.34 230.58,222.41 230.24,222.48 229.89,222.55 229.54,222.61 229.19,222.68 228.85,222.75 228.50,222.82 228.15,222.88 227.80,222.95 227.46,223.02 227.11,223.09 226.76,223.15 226.41,223.22 226.07,223.29 225.72,223.36 225.37,223.43 225.02,223.50 224.68,223.56 224.33,223.63 223.98,223.70 223.63,223.77 223.29,223.84 222.94,223.90 222.59,223.97 222.24,224.04 221.90,224.11 221.55,224.17 221.20,224.24 220.85,224.31 220.51,224.37 220.16,224.44 219.81,224.51 219.46,224.57 219.12,224.64 218.77,224.71 218.42,224.77 218.07,224.84 217.73,224.91 217.38,224.98 217.03,225.04 216.68,225.11 216.34,225.18 215.99,225.24 215.64,225.31 215.29,225.38 214.95,225.45 214.60,225.52 214.25,225.58 213.90,225.65 213.56,225.72 213.21,225.79 212.86,225.86 212.51,225.93 212.17,226.00 211.82,226.07 211.47,226.14 211.12,226.21 210.78,226.28 210.43,226.35 210.08,226.42 209.73,226.49 209.39,226.56 209.04,226.64 208.69,226.71 208.34,226.78 208.00,226.86 207.65,226.93 207.30,227.01 206.95,227.08 206.61,227.16 206.26,227.23 205.91,227.31 205.56,227.39 205.22,227.46 204.87,227.54 204.52,227.62 204.17,227.70 203.83,227.78 203.48,227.86 203.13,227.94 202.78,228.02 202.44,228.10 202.09,228.19 201.74,228.27 201.39,228.36 201.05,228.44 200.70,228.53 200.35,228.61 200.00,228.70 199.66,228.79 199.31,228.88 198.96,228.97 198.61,229.06 198.27,229.16 197.92,229.25 197.57,229.35 197.22,229.45 196.88,229.54 196.53,229.65 196.18,229.75 195.83,229.85 195.49,229.95 195.14,230.06 194.79,230.17 194.44,230.27 194.10,230.38 193.75,230.49 193.40,230.60 193.05,230.71 192.71,230.82 192.36,230.93 192.01,231.05 191.66,231.16 191.32,231.27 190.97,231.39 190.62,231.50 190.27,231.62 189.93,231.74 189.58,231.85 189.23,231.97 188.88,232.09 188.54,232.20 188.19,232.32 187.84,232.44 187.49,232.56 187.15,232.68 186.80,232.80 186.45,232.91 186.10,233.03 185.76,233.15 185.41,233.27 185.06,233.39 184.71,233.51 184.37,233.62 184.02,233.74 183.67,233.86 183.32,233.98 182.98,234.09 182.63,234.21 182.28,234.33 181.93,234.44 181.59,234.56 181.24,234.67 180.89,234.78 180.54,234.90 180.20,235.01 179.85,235.12 179.50,235.23 179.15,235.34 178.81,235.45 178.46,235.56 178.11,235.67 177.76,235.78 177.42,235.88 177.07,235.99 176.72,236.09 176.37,236.19 176.03,236.29 175.68,236.39 175.33,236.49 174.98,236.60 174.64,236.70 174.29,236.80 173.94,236.91 173.59,237.01 173.25,237.12 172.90,237.22 172.55,237.33 172.20,237.43 171.86,237.54 171.51,237.64 171.16,237.75 170.81,237.85 170.47,237.95 170.12,238.06 169.77,238.16 169.42,238.26 169.08,238.37 168.73,238.47 168.38,238.57 168.03,238.67 167.69,238.77 167.34,238.87 166.99,238.97 166.64,239.06 166.30,239.16 165.95,239.25 165.60,239.34 165.25,239.44 164.91,239.53 164.56,239.61 164.21,239.70 163.86,239.79 163.52,239.87 163.17,239.95 162.82,240.03 162.47,240.11 162.13,240.18 161.78,240.26 161.43,240.33 161.08,240.40 160.74,240.47 160.39,240.53 160.04,240.59 159.69,240.65 159.35,240.71 159.00,240.77 158.65,240.83 158.30,240.89 157.96,240.94 157.61,241.00 157.26,241.05 156.91,241.11 156.57,241.16 156.22,241.21 155.87,241.26 155.52,241.31 155.18,241.35 154.83,241.40 154.48,241.44 154.13,241.48 153.79,241.52 153.44,241.56 153.09,241.59 152.74,241.63 152.40,241.66 152.05,241.69 151.70,241.72 151.35,241.74 151.01,241.77 150.66,241.80 150.31,241.82 149.96,241.85 149.62,241.88 149.27,241.90 148.92,241.93 148.57,241.95 148.23,241.98 147.88,242.00 147.53,242.02 147.18,242.05 146.84,242.07 146.49,242.09 146.14,242.11 145.79,242.13 145.45,242.15 145.10,242.17 144.75,242.19 144.40,242.20 144.06,242.22 143.71,242.23 143.36,242.24 143.01,242.26 142.67,242.27 142.32,242.28 141.97,242.28 141.62,242.29 141.28,242.29 140.93,242.30 140.58,242.30 140.23,242.30 139.89,242.28 139.54,242.24 139.19,242.19 138.84,242.12 138.50,242.05 138.15,241.96 137.80,241.86 137.45,241.75 137.11,241.64 136.76,241.52 136.41,241.40 136.06,241.28 135.72,241.16 135.37,241.04 135.02,240.93 134.67,240.82 134.33,240.72 133.98,240.61 133.63,240.51 133.28,240.40 132.94,240.29 132.59,240.18 132.24,240.06 131.89,239.95 131.55,239.83 131.20,239.71 130.85,239.58 130.50,239.46 130.16,239.33 129.81,239.20 129.46,239.06 129.11,238.93 128.77,238.79 128.42,238.65 128.07,238.50 127.72,238.36 127.38,238.21 127.03,238.06 126.68,237.91 126.33,237.75 125.99,237.59 125.64,237.42 125.29,237.25 124.94,237.07 124.60,236.89 124.25,236.69 123.90,236.49 123.55,236.29 123.21,236.07 122.86,235.84 122.51,235.58 122.16,235.29 121.82,234.98 121.47,234.65 121.12,234.30 120.77,233.94 120.43,233.58 120.08,233.21 119.73,232.83 119.38,232.46 119.04,232.10 118.69,231.75 118.34,231.40 117.99,231.08 117.65,230.78 117.30,230.50 116.95,230.24 116.60,229.97 116.26,229.71 115.91,229.45 115.56,229.20 115.21,228.95 114.87,228.70 114.52,228.45 114.17,228.22 113.82,227.98 113.48,227.75 113.13,227.53 112.78,227.32 112.43,227.11 112.09,226.91 111.74,226.72 111.39,226.54 111.04,226.36 110.70,226.20 110.35,226.04 110.00,225.90 109.65,225.77 109.31,225.65 108.96,225.53 108.61,225.42 108.26,225.32 107.92,225.23 107.57,225.13 107.22,225.04 106.87,224.95 106.53,224.86 106.18,224.76 105.83,224.66 105.48,224.56 105.14,224.45 104.79,224.33 104.44,224.20 104.09,224.06 103.75,223.93 103.40,223.78 103.05,223.64 102.70,223.49 102.36,223.34 102.01,223.19 101.66,223.04 101.31,222.90 100.97,222.76 100.62,222.62 100.27,222.50 99.92,222.37 99.58,222.26 99.23,222.15 98.88,222.05 98.53,221.95 98.19,221.86 97.84,221.76 97.49,221.67 97.14,221.57 96.80,221.48 96.45,221.38 96.10,221.27 95.75,221.16 95.41,221.05 95.06,220.92 94.71,220.79 94.36,220.65 94.02,220.50 93.67,220.34 93.32,220.18 92.97,220.01 92.63,219.84 92.28,219.66 91.93,219.48 91.58,219.29 91.24,219.10 90.89,218.91 90.54,218.71 90.19,218.51 89.85,218.31 89.50,218.11 89.15,217.90 88.80,217.69 88.46,217.47 88.11,217.25 87.76,217.02 87.41,216.79 87.07,216.55 86.72,216.31 86.37,216.06 86.02,215.80 85.68,215.53 85.33,215.26 84.98,214.99 84.63,214.71 84.29,214.44 83.94,214.18 83.59,213.92 83.24,213.64 82.90,213.36 82.55,213.07 82.20,212.75 81.85,212.41 81.51,212.04 81.16,211.64 80.81,211.20 80.46,210.72 80.12,210.19 79.77,209.47 79.42,208.23 79.07,206.72 78.73,205.25 78.38,204.11 78.03,203.60 77.68,203.67 77.34,203.91 76.99,204.29 76.64,204.77 76.29,205.52 75.95,207.05 75.60,209.00" fill="#b3b3b3" stroke="#7a7a7a" stroke-width="0.6"/>
<polygon points="75.50,208.20 75.73,214.57 75.97,219.91 76.20,223.90 76.43,227.59 76.67,230.93 76.90,233.85 77.14,236.27 77.37,238.13 77.60,239.41 77.84,240.45 78.07,241.36 78.30,242.14 78.54,242.82 78.77,243.40 79.01,243.91 79.24,244.35 79.47,244.75 79.71,245.13 79.94,245.52 80.17,245.90 80.41,246.26 80.64,246.59 80.87,246.86 81.11,247.06 81.34,247.18 81.58,247.20 81.81,247.15 82.04,247.06 82.28,246.92 82.51,246.74 82.74,246.53 82.98,246.28 83.21,246.01 83.44,245.73 83.68,245.43 83.91,245.12 84.15,244.80 84.38,244.49 84.61,244.18 84.85,243.89 85.08,243.60 85.31,243.31 85.55,243.00 85.78,242.68 86.02,242.35 86.25,242.00 86.48,241.64 86.72,241.28 86.95,240.91 87.18,240.54 87.42,240.16 87.65,239.78 87.88,239.40 88.12,239.03 88.35,238.66 88.59,238.29 88.82,237.93 89.05,237.59 89.29,237.25 89.52,236.92 89.75,236.61 89.99,236.32 90.22,236.03 90.45,235.74 90.69,235.45 90.92,235.16 91.16,234.87 91.39,234.59 91.62,234.30 91.86,234.02 92.09,233.75 92.32,233.48 92.56,233.22 92.79,232.96 93.03,232.72 93.26,232.48 93.49,232.25 93.73,232.04 93.96,231.83 94.19,231.64 94.43,231.47 94.66,231.31 94.89,231.16 95.13,231.03 95.36,230.90 95.60,230.78 95.83,230.65 96.06,230.53 96.30,230.42 96.53,230.31 96.76,230.20 97.00,230.09 97.23,229.99 97.46,229.90 97.70,229.80 97.93,229.72 98.17,229.64 98.40,229.56 98.63,229.49 98.87,229.42 99.10,229.37 99.33,229.31 99.57,229.27 99.80,229.23 100.04,229.20 100.27,229.17 100.50,229.14 100.74,229.12 100.97,229.09 101.20,229.08 101.44,229.06 101.67,229.04 101.90,229.03 102.14,229.02 102.37,229.01 102.61,229.01 102.84,229.01 103.07,229.00 103.31,229.01 103.54,229.01 103.77,229.02 104.01,229.03 104.24,229.04 104.47,229.06 104.71,229.07 104.94,229.09 105.18,229.12 105.41,229.14 105.64,229.17 105.88,229.20 106.11,229.23 106.34,229.27 106.58,229.31 106.81,229.35 107.05,229.39 107.28,229.43 107.51,229.48 107.75,229.53 107.98,229.58 108.21,229.63 108.45,229.68 108.68,229.73 108.91,229.79 109.15,229.85 109.38,229.91 109.62,229.97 109.85,230.03 110.08,230.09 110.32,230.16 110.55,230.22 110.78,230.29 111.02,230.36 111.25,230.43 111.48,230.50 111.72,230.57 111.95,230.65 112.19,230.74 112.42,230.84 112.65,230.95 112.89,231.06 113.12,231.18 113.35,231.31 113.59,231.44 113.82,231.57 114.06,231.71 114.29,231.86 114.52,232.00 114.76,232.15 114.99,232.31 115.22,232.46 115.46,232.62 115.69,232.78 115.92,232.93 116.16,233.09 116.39,233.25 116.63,233.41 116.86,233.56 117.09,233.72 117.33,233.87 117.56,234.02 117.79,234.18 118.03,234.35 118.26,234.51 118.49,234.69 118.73,234.86 118.96,235.04 119.20,235.22 119.43,235.41 119.66,235.59 119.90,235.78 120.13,235.96 120.36,236.15 120.60,236.34 120.83,236.53 121.07,236.72 121.30,236.90 121.53,237.09 121.77,237.27 122.00,237.45 122.00,237.85 121.77,237.74 121.53,237.63 121.30,237.52 121.07,237.40 120.83,237.28 120.60,237.17 120.36,237.05 120.13,236.94 119.90,236.83 119.66,236.71 119.43,236.60 119.20,236.49 118.96,236.39 118.73,236.29 118.49,236.19 118.26,236.09 118.03,236.00 117.79,235.91 117.56,235.83 117.33,235.76 117.09,235.68 116.86,235.61 116.63,235.54 116.39,235.46 116.16,235.39 115.92,235.32 115.69,235.25 115.46,235.18 115.22,235.12 114.99,235.05 114.76,234.99 114.52,234.93 114.29,234.87 114.06,234.82 113.82,234.77 113.59,234.72 113.35,234.68 113.12,234.64 112.89,234.60 112.65,234.57 112.42,234.55 112.19,234.53 111.95,234.51 111.72,234.50 111.48,234.50 111.25,234.50 111.02,234.50 110.78,234.50 110.55,234.50 110.32,234.50 110.08,234.50 109.85,234.50 109.62,234.50 109.38,234.50 109.15,234.50 108.91,234.51 108.68,234.51 108.45,234.51 108.21,234.52 107.98,234.53 107.75,234.53 107.51,234.54 107.28,234.55 107.05,234.56 106.81,234.57 106.58,234.58 106.34,234.60 106.11,234.61 105.88,234.63 105.64,234.64 105.41,234.66 105.18,234.68 104.94,234.71 104.71,234.73 104.47,234.76 104.24,234.79 104.01,234.82 103.77,234.86 103.54,234.90 103.31,234.94 103.07,234.98 102.84,235.02 102.61,235.07 102.37,235.12 102.14,235.16 101.90,235.21 101.67,235.26 101.44,235.31 101.20,235.36 100.97,235.41 100.74,235.45 100.50,235.50 100.27,235.55 100.04,235.59 99.80,235.64 99.57,235.69 99.33,235.75 99.10,235.81 98.87,235.88 98.63,235.96 98.40,236.04 98.17,236.12 97.93,236.21 97.70,236.30 97.46,236.40 97.23,236.50 97.00,236.61 96.76,236.72 96.53,236.84 96.30,236.96 96.06,237.08 95.83,237.21 95.60,237.34 95.36,237.48 95.13,237.62 94.89,237.77 94.66,237.93 94.43,238.11 94.19,238.30 93.96,238.51 93.73,238.74 93.49,238.98 93.26,239.23 93.03,239.49 92.79,239.77 92.56,240.05 92.32,240.34 92.09,240.64 91.86,240.95 91.62,241.26 91.39,241.57 91.16,241.89 90.92,242.22 90.69,242.54 90.45,242.87 90.22,243.19 89.99,243.52 89.75,243.85 89.52,244.21 89.29,244.58 89.05,244.96 88.82,245.36 88.59,245.78 88.35,246.20 88.12,246.62 87.88,247.06 87.65,247.50 87.42,247.94 87.18,248.37 86.95,248.81 86.72,249.24 86.48,249.67 86.25,250.09 86.02,250.49 85.78,250.89 85.55,251.27 85.31,251.64 85.08,251.98 84.85,252.32 84.61,252.68 84.38,253.05 84.15,253.44 83.91,253.82 83.68,254.20 83.44,254.57 83.21,254.93 82.98,255.26 82.74,255.56 82.51,255.83 82.28,256.05 82.04,256.22 81.81,256.34 81.58,256.40 81.34,256.37 81.11,256.21 80.87,255.95 80.64,255.58 80.41,255.14 80.17,254.64 79.94,254.09 79.71,253.52 79.47,252.94 79.24,252.32 79.01,251.64 78.77,250.89 78.54,250.05 78.30,249.11 78.07,248.05 77.84,246.86 77.60,245.53 77.37,243.97 77.14,241.77 76.90,238.97 76.67,235.60 76.43,231.75 76.20,227.47 75.97,222.80 75.73,216.45 75.50,208.80" fill="#b0a8a8" stroke="#7a7a7a" stroke-width="0.5"/>
<polygon points="75.50,208.34 75.73,215.00 75.97,220.56 76.20,224.70 76.43,228.53 76.67,231.98 76.90,235.00 77.14,237.51 77.37,239.44 77.60,240.79 77.84,241.90 78.07,242.87 78.30,243.71 78.54,244.45 78.77,245.09 79.01,245.65 79.24,246.15 79.47,246.59 79.71,247.02 79.94,247.45 80.17,247.87 80.41,248.26 80.64,248.61 80.87,248.90 81.11,249.12 81.34,249.24 81.58,249.27 81.81,249.22 82.04,249.12 82.28,248.97 82.51,248.78 82.74,248.56 82.98,248.30 83.21,248.02 83.44,247.72 83.68,247.40 83.91,247.07 84.15,246.74 84.38,246.42 84.61,246.09 84.85,245.78 85.08,245.49 85.31,245.19 85.55,244.86 85.78,244.53 86.02,244.18 86.25,243.82 86.48,243.45 86.72,243.07 86.95,242.69 87.18,242.30 87.42,241.91 87.65,241.52 87.88,241.13 88.12,240.74 88.35,240.35 88.59,239.98 88.82,239.61 89.05,239.25 89.29,238.90 89.52,238.56 89.75,238.24 89.99,237.94 90.22,237.64 90.45,237.34 90.69,237.05 90.92,236.75 91.16,236.45 91.39,236.16 91.62,235.87 91.86,235.58 92.09,235.30 92.32,235.02 92.56,234.76 92.79,234.49 93.03,234.24 93.26,234.00 93.49,233.77 93.73,233.55 93.96,233.34 94.19,233.14 94.43,232.96 94.66,232.80 94.89,232.65 95.13,232.51 95.36,232.38 95.60,232.25 95.83,232.13 96.06,232.01 96.30,231.89 96.53,231.78 96.76,231.67 97.00,231.56 97.23,231.46 97.46,231.36 97.70,231.27 97.93,231.18 98.17,231.09 98.40,231.02 98.63,230.94 98.87,230.88 99.10,230.82 99.33,230.76 99.57,230.71 99.80,230.67 100.04,230.64 100.27,230.60 100.50,230.57 100.74,230.54 100.97,230.51 101.20,230.49 101.44,230.46 101.67,230.44 101.90,230.42 102.14,230.40 102.37,230.39 102.61,230.37 102.84,230.36 103.07,230.35 103.31,230.34 103.54,230.34 103.77,230.33 104.01,230.33 104.24,230.33 104.47,230.34 104.71,230.35 104.94,230.36 105.18,230.37 105.41,230.39 105.64,230.40 105.88,230.42 106.11,230.44 106.34,230.47 106.58,230.49 106.81,230.52 107.05,230.55 107.28,230.58 107.51,230.62 107.75,230.65 107.98,230.69 108.21,230.73 108.45,230.77 108.68,230.81 108.91,230.85 109.15,230.90 109.38,230.94 109.62,230.99 109.85,231.04 110.08,231.08 110.32,231.13 110.55,231.18 110.78,231.24 111.02,231.29 111.25,231.34 111.48,231.40 111.72,231.45 111.95,231.52 112.19,231.59 112.42,231.68 112.65,231.76 112.89,231.86 113.12,231.96 113.35,232.06 113.59,232.18 113.82,232.29 114.06,232.41 114.29,232.54 114.52,232.66 114.76,232.79 114.99,232.93 115.22,233.06 115.46,233.20 115.69,233.33 115.92,233.47 116.16,233.61 116.39,233.75 116.63,233.89 116.86,234.02 117.09,234.16 117.33,234.29 117.56,234.43 117.79,234.57 118.03,234.72 118.26,234.87 118.49,235.02 118.73,235.18 118.96,235.34 119.20,235.51 119.43,235.67 119.66,235.84 119.90,236.01 120.13,236.18 120.36,236.36 120.60,236.53 120.83,236.70 121.07,236.87 121.30,237.04 121.53,237.21 121.77,237.38 122.00,237.54 122.00,237.76 121.77,237.64 121.53,237.51 121.30,237.38 121.07,237.25 120.83,237.11 120.60,236.98 120.36,236.85 120.13,236.72 119.90,236.59 119.66,236.46 119.43,236.33 119.20,236.21 118.96,236.09 118.73,235.97 118.49,235.85 118.26,235.74 118.03,235.63 117.79,235.52 117.56,235.43 117.33,235.33 117.09,235.24 116.86,235.15 116.63,235.06 116.39,234.97 116.16,234.87 115.92,234.78 115.69,234.69 115.46,234.61 115.22,234.52 114.99,234.43 114.76,234.35 114.52,234.27 114.29,234.19 114.06,234.12 113.82,234.05 113.59,233.98 113.35,233.92 113.12,233.86 112.89,233.81 112.65,233.76 112.42,233.71 112.19,233.68 111.95,233.64 111.72,233.62 111.48,233.60 111.25,233.58 111.02,233.57 110.78,233.55 110.55,233.54 110.32,233.52 110.08,233.51 109.85,233.49 109.62,233.48 109.38,233.47 109.15,233.46 108.91,233.45 108.68,233.44 108.45,233.43 108.21,233.42 107.98,233.41 107.75,233.41 107.51,233.40 107.28,233.40 107.05,233.40 106.81,233.39 106.58,233.40 106.34,233.40 106.11,233.40 105.88,233.41 105.64,233.41 105.41,233.42 105.18,233.43 104.94,233.44 104.71,233.46 104.47,233.48 104.24,233.50 104.01,233.52 103.77,233.55 103.54,233.57 103.31,233.60 103.07,233.64 102.84,233.67 102.61,233.71 102.37,233.74 102.14,233.78 101.90,233.82 101.67,233.86 101.44,233.90 101.20,233.94 100.97,233.99 100.74,234.03 100.50,234.07 100.27,234.11 100.04,234.15 99.80,234.20 99.57,234.25 99.33,234.30 99.10,234.36 98.87,234.43 98.63,234.50 98.40,234.58 98.17,234.66 97.93,234.75 97.70,234.84 97.46,234.94 97.23,235.04 97.00,235.14 96.76,235.25 96.53,235.37 96.30,235.49 96.06,235.61 95.83,235.74 95.60,235.87 95.36,236.00 95.13,236.14 94.89,236.28 94.66,236.44 94.43,236.61 94.19,236.80 93.96,237.01 93.73,237.23 93.49,237.47 93.26,237.71 93.03,237.97 92.79,238.24 92.56,238.51 92.32,238.80 92.09,239.09 91.86,239.39 91.62,239.69 91.39,240.00 91.16,240.31 90.92,240.63 90.69,240.95 90.45,241.26 90.22,241.58 89.99,241.90 89.75,242.22 89.52,242.57 89.29,242.93 89.05,243.30 88.82,243.69 88.59,244.09 88.35,244.50 88.12,244.92 87.88,245.34 87.65,245.76 87.42,246.19 87.18,246.61 86.95,247.03 86.72,247.45 86.48,247.86 86.25,248.27 86.02,248.66 85.78,249.04 85.55,249.41 85.31,249.76 85.08,250.10 84.85,250.42 84.61,250.77 84.38,251.13 84.15,251.49 83.91,251.86 83.68,252.23 83.44,252.58 83.21,252.92 82.98,253.24 82.74,253.53 82.51,253.78 82.28,253.99 82.04,254.16 81.81,254.27 81.58,254.33 81.34,254.30 81.11,254.15 80.87,253.90 80.64,253.56 80.41,253.15 80.17,252.68 79.94,252.17 79.71,251.63 79.47,251.09 79.24,250.53 79.01,249.90 78.77,249.21 78.54,248.42 78.30,247.54 78.07,246.54 77.84,245.42 77.60,244.16 77.37,242.65 77.14,240.54 76.90,237.81 76.67,234.55 76.43,230.82 76.20,226.67 75.97,222.15 75.73,216.02 75.50,208.66" fill="#e08080" stroke="none"/>
<polyline points="67.00,231.70 74.50,230.90 75.20,212.00 75.50,208.50 75.85,218.60 76.20,225.59 76.54,231.39 76.89,236.27 77.24,239.99 77.59,242.38 77.93,244.11 78.28,245.54 78.63,246.72 78.98,247.70 79.32,248.53 79.67,249.26 80.02,249.97 80.37,250.63 80.72,251.19 81.06,251.60 81.41,251.79 81.76,251.76 82.11,251.60 82.45,251.33 82.80,250.98 83.15,250.55 83.50,250.08 83.84,249.57 84.19,249.05 84.54,248.54 84.89,248.05 85.24,247.58 85.58,247.09 85.93,246.55 86.28,245.99 86.63,245.41 86.97,244.82 87.32,244.21 87.67,243.61 88.02,243.00 88.36,242.40 88.71,241.82 89.06,241.26 89.41,240.73 89.76,240.23 90.10,239.77 90.45,239.31 90.80,238.85 91.15,238.40 91.49,237.95 91.84,237.50 92.19,237.07 92.54,236.66 92.88,236.26 93.23,235.88 93.58,235.53 93.93,235.20 94.28,234.91 94.62,234.64 94.97,234.42 95.32,234.22 95.67,234.02 96.01,233.83 96.36,233.66 96.71,233.49 97.06,233.32 97.40,233.17 97.75,233.03 98.10,232.90 98.45,232.78 98.80,232.67 99.14,232.58 99.49,232.50 99.84,232.43 100.19,232.37 100.53,232.32 100.88,232.26 101.23,232.21 101.58,232.16 101.92,232.12 102.27,232.08 102.62,232.04 102.97,232.00 103.32,231.97 103.66,231.95 104.01,231.93 104.36,231.91 104.71,231.90 105.05,231.90 105.40,231.90 105.75,231.91 106.10,231.92 106.44,231.94 106.79,231.96 107.14,231.98 107.49,232.01 107.84,232.04 108.18,232.07 108.53,232.11 108.88,232.14 109.23,232.19 109.57,232.23 109.92,232.27 110.27,232.32 110.62,232.37 110.96,232.42 111.31,232.47 111.66,232.53 112.01,232.59 112.36,232.68 112.70,232.78 113.05,232.89 113.40,233.01 113.75,233.14 114.09,233.28 114.44,233.43 114.79,233.59 115.14,233.75 115.48,233.91 115.83,234.08 116.18,234.25 116.53,234.42 116.88,234.59 117.22,234.76 117.57,234.93 117.92,235.11 118.27,235.31 118.61,235.51 118.96,235.71 119.31,235.93 119.66,236.15 120.01,236.37 120.35,236.60 120.70,236.82 121.05,237.05 121.40,237.27 121.74,237.49 122.09,237.71 122.44,237.92 122.79,238.12 123.13,238.32 123.48,238.51 123.83,238.70 124.18,238.88 124.53,239.06 124.87,239.24 125.22,239.42 125.57,239.60 125.92,239.77 126.26,239.95 126.61,240.12 126.96,240.29 127.31,240.46 127.65,240.63 128.00,240.81 128.35,240.98 128.70,241.15 129.05,241.32 129.39,241.49 129.74,241.67 130.09,241.84 130.44,242.02 130.78,242.19 131.13,242.36 131.48,242.53 131.83,242.71 132.17,242.88 132.52,243.04 132.87,243.21 133.22,243.37 133.57,243.54 133.91,243.69 134.26,243.85 134.61,244.00 134.96,244.15 135.30,244.30 135.65,244.45 136.00,244.60 136.35,244.74 136.69,244.89 137.04,245.03 137.39,245.17 137.74,245.31 138.09,245.44 138.43,245.58 138.78,245.71 139.13,245.84 139.48,245.97 139.82,246.10 140.17,246.22 140.52,246.34 140.87,246.46 141.21,246.58 141.56,246.70 141.91,246.82 142.26,246.94 142.61,247.05 142.95,247.17 143.30,247.28 143.65,247.39 144.00,247.50 144.34,247.60 144.69,247.70 145.04,247.80 145.39,247.89 145.73,247.99 146.08,248.07 146.43,248.15 146.78,248.23 147.13,248.31 147.47,248.39 147.82,248.46 148.17,248.54 148.52,248.61 148.86,248.67 149.21,248.74 149.56,248.81 149.91,248.87 150.25,248.93 150.60,248.99 150.95,249.05 151.30,249.11 151.65,249.16 151.99,249.21 152.34,249.27 152.69,249.32 153.04,249.38 153.38,249.44 153.73,249.50 154.08,249.56 154.43,249.61 154.77,249.67 155.12,249.73 155.47,249.78 155.82,249.83 156.17,249.89 156.51,249.93 156.86,249.98 157.21,250.02 157.56,250.06 157.90,250.10 158.25,250.13 158.60,250.15 158.95,250.17 159.29,250.19 159.64,250.20 159.99,250.20 160.34,250.20 160.69,250.20 161.03,250.19 161.38,250.19 161.73,250.19 162.08,250.18 162.42,250.17 162.77,250.16 163.12,250.15 163.47,250.14 163.81,250.13 164.16,250.12 164.51,250.11 164.86,250.10 165.21,250.08 165.55,250.07 165.90,250.05 166.25,250.04 166.60,250.02 166.94,250.00 167.29,249.98 167.64,249.97 167.99,249.95 168.33,249.93 168.68,249.91 169.03,249.89 169.38,249.87 169.73,249.85 170.07,249.83 170.42,249.81 170.77,249.79 171.12,249.77 171.46,249.75 171.81,249.73 172.16,249.71 172.51,249.69 172.85,249.67 173.20,249.65 173.55,249.63 173.90,249.62 174.25,249.60 174.59,249.58 174.94,249.56 175.29,249.54 175.64,249.53 175.98,249.51 176.33,249.49 176.68,249.48 177.03,249.46 177.37,249.45 177.72,249.43 178.07,249.41 178.42,249.40 178.77,249.38 179.11,249.37 179.46,249.35 179.81,249.33 180.16,249.32 180.50,249.30 180.85,249.29 181.20,249.27 181.55,249.25 181.89,249.24 182.24,249.22 182.59,249.21 182.94,249.19 183.29,249.17 183.63,249.16 183.98,249.14 184.33,249.13 184.68,249.11 185.02,249.09 185.37,249.08 185.72,249.06 186.07,249.04 186.41,249.03 186.76,249.01 187.11,249.00 187.46,248.98 187.81,248.96 188.15,248.95 188.50,248.93 188.85,248.91 189.20,248.90 189.54,248.88 189.89,248.86 190.24,248.85 190.59,248.83 190.93,248.81 191.28,248.80 191.63,248.78 191.98,248.76 192.33,248.75 192.67,248.73 193.02,248.71 193.37,248.70 193.72,248.68 194.06,248.66 194.41,248.65 194.76,248.63 195.11,248.61 195.45,248.60 195.80,248.58 196.15,248.56 196.50,248.54 196.85,248.53 197.19,248.51 197.54,248.49 197.89,248.48 198.24,248.46 198.58,248.44 198.93,248.42 199.28,248.41 199.63,248.39 199.97,248.37 200.32,248.35 200.67,248.34 201.02,248.32 201.37,248.30 201.71,248.28 202.06,248.27 202.41,248.25 202.76,248.23 203.10,248.21 203.45,248.19 203.80,248.18 204.15,248.16 204.49,248.14 204.84,248.12 205.19,248.10 205.54,248.09 205.89,248.07 206.23,248.05 206.58,248.03 206.93,248.01 207.28,247.99 207.62,247.98 207.97,247.96 208.32,247.94 208.67,247.92 209.02,247.90 209.36,247.88 209.71,247.86 210.06,247.84 210.41,247.83 210.75,247.81 211.10,247.79 211.45,247.77 211.80,247.75 212.14,247.73 212.49,247.71 212.84,247.69 213.19,247.67 213.54,247.65 213.88,247.63 214.23,247.61 214.58,247.59 214.93,247.58 215.27,247.56 215.62,247.54 215.97,247.52 216.32,247.50 216.66,247.48 217.01,247.46 217.36,247.44 217.71,247.42 218.06,247.40 218.40,247.38 218.75,247.36 219.10,247.34 219.45,247.32 219.79,247.29 220.14,247.27 220.49,247.25 220.84,247.23 221.18,247.21 221.53,247.19 221.88,247.17 222.23,247.15 222.58,247.13 222.92,247.11 223.27,247.09 223.62,247.07 223.97,247.05 224.31,247.02 224.66,247.00 225.01,246.98 225.36,246.96 225.70,246.94 226.05,246.92 226.40,246.90 226.75,246.87 227.10,246.85 227.44,246.83 227.79,246.81 228.14,246.79 228.49,246.77 228.83,246.74 229.18,246.72 229.53,246.70 229.88,246.68 230.22,246.66 230.57,246.64 230.92,246.61 231.27,246.59 231.62,246.57 231.96,246.55 232.31,246.52 232.66,246.50 233.01,246.48 233.35,246.46 233.70,246.43 234.05,246.41 234.40,246.39 234.74,246.37 235.09,246.34 235.44,246.32 235.79,246.30 236.14,246.28 236.48,246.25 236.83,246.23 237.18,246.21 237.53,246.18 237.87,246.16 238.22,246.14 238.57,246.11 238.92,246.09 239.26,246.07 239.61,246.05 239.96,246.02 240.31,246.00 240.66,245.98 241.00,245.95 241.35,245.93 241.70,245.90 242.05,245.88 242.39,245.86 242.74,245.83 243.09,245.81 243.44,245.79 243.78,245.76 244.13,245.74 244.48,245.71 244.83,245.69 245.18,245.67 245.52,245.64 245.87,245.62 246.22,245.59 246.57,245.57 246.91,245.55 247.26,245.52 247.61,245.50 247.96,245.47 248.30,245.45 248.65,245.42 249.00,245.40" fill="none" stroke="#d01c1c" stroke-width="1.2" stroke-linejoin="round"/>
<polyline points="75.60,208.30 75.95,195.49 76.29,194.03 76.64,193.38 76.99,192.99 77.34,192.68 77.68,192.47 78.03,192.40 78.38,192.56 78.73,192.95 79.07,193.47 79.42,194.06 79.77,194.65 80.12,195.17 80.46,195.69 80.81,196.23 81.16,196.79 81.51,197.36 81.85,197.91 82.20,198.44 82.55,198.93 82.90,199.39 83.24,199.83 83.59,200.26 83.94,200.67 84.29,201.07 84.63,201.47 84.98,201.86 85.33,202.25 85.68,202.64 86.02,203.03 86.37,203.43 86.72,203.83 87.07,204.23 87.41,204.64 87.76,205.03 88.11,205.42 88.46,205.79 88.80,206.14 89.15,206.47 89.50,206.77 89.85,207.07 90.19,207.35 90.54,207.62 90.89,207.89 91.24,208.15 91.58,208.40 91.93,208.64 92.28,208.88 92.63,209.12 92.97,209.35 93.32,209.58 93.67,209.80 94.02,210.02 94.36,210.25 94.71,210.47 95.06,210.69 95.41,210.91 95.75,211.14 96.10,211.37 96.45,211.59 96.80,211.81 97.14,212.02 97.49,212.24 97.84,212.45 98.19,212.66 98.53,212.87 98.88,213.08 99.23,213.30 99.58,213.52 99.92,213.75 100.27,213.98 100.62,214.22 100.97,214.46 101.31,214.70 101.66,214.95 102.01,215.20 102.36,215.45 102.70,215.70 103.05,215.95 103.40,216.21 103.75,216.47 104.09,216.72 104.44,216.98 104.79,217.24 105.14,217.50 105.48,217.76 105.83,218.02 106.18,218.28 106.53,218.54 106.87,218.80 107.22,219.07 107.57,219.33 107.92,219.60 108.26,219.87 108.61,220.15 108.96,220.43 109.31,220.71 109.65,221.00 110.00,221.30 110.35,221.61 110.70,221.92 111.04,222.24 111.39,222.56 111.74,222.89 112.09,223.23 112.43,223.57 112.78,223.92 113.13,224.26 113.48,224.62 113.82,224.97 114.17,225.32 114.52,225.68 114.87,226.04 115.21,226.39 115.56,226.75 115.91,227.10 116.26,227.46 116.60,227.81 116.95,228.16 117.30,228.50 117.65,228.85 117.99,229.21 118.34,229.57 118.69,229.95 119.04,230.32 119.38,230.70 119.73,231.08 120.08,231.45 120.43,231.82 120.77,232.18 121.12,232.53 121.47,232.86 121.82,233.18 122.16,233.49 122.51,233.77 122.86,234.03 123.21,234.27 123.55,234.50 123.90,234.72 124.25,234.94 124.60,235.15 124.94,235.36 125.29,235.56 125.64,235.75 125.99,235.94 126.33,236.11 126.68,236.28 127.03,236.44 127.38,236.59 127.72,236.73 128.07,236.86 128.42,236.98 128.77,237.09 129.11,237.19 129.46,237.29 129.81,237.39 130.16,237.48 130.50,237.57 130.85,237.66 131.20,237.74 131.55,237.82 131.89,237.89 132.24,237.97 132.59,238.03 132.94,238.09 133.28,238.15 133.63,238.19 133.98,238.24 134.33,238.28 134.67,238.31 135.02,238.33 135.37,238.36 135.72,238.39 136.06,238.42 136.41,238.44 136.76,238.46 137.11,238.49 137.45,238.51 137.80,238.53 138.15,238.54 138.50,238.56 138.84,238.57 139.19,238.58 139.54,238.59 139.89,238.60 140.23,238.60 140.58,238.60 140.93,238.59 141.28,238.57 141.62,238.54 141.97,238.50 142.32,238.46 142.67,238.41 143.01,238.35 143.36,238.29 143.71,238.22 144.06,238.15 144.40,238.08 144.75,238.01 145.10,237.93 145.45,237.86 145.79,237.78 146.14,237.71 146.49,237.64 146.84,237.56 147.18,237.47 147.53,237.38 147.88,237.29 148.23,237.19 148.57,237.08 148.92,236.98 149.27,236.87 149.62,236.75 149.96,236.64 150.31,236.52 150.66,236.41 151.01,236.29 151.35,236.18 151.70,236.06 152.05,235.95 152.40,235.84 152.74,235.72 153.09,235.60 153.44,235.49 153.79,235.37 154.13,235.24 154.48,235.12 154.83,235.00 155.18,234.87 155.52,234.75 155.87,234.62 156.22,234.50 156.57,234.37 156.91,234.24 157.26,234.11 157.61,233.99 157.96,233.86 158.30,233.73 158.65,233.60 159.00,233.47 159.35,233.34 159.69,233.21 160.04,233.08 160.39,232.96 160.74,232.82 161.08,232.69 161.43,232.56 161.78,232.42 162.13,232.29 162.47,232.15 162.82,232.01 163.17,231.87 163.52,231.73 163.86,231.58 164.21,231.44 164.56,231.30 164.91,231.15 165.25,231.01 165.60,230.86 165.95,230.72 166.30,230.58 166.64,230.43 166.99,230.29 167.34,230.14 167.69,230.00 168.03,229.86 168.38,229.71 168.73,229.57 169.08,229.43 169.42,229.29 169.77,229.15 170.12,229.02 170.47,228.88 170.81,228.75 171.16,228.62 171.51,228.48 171.86,228.36 172.20,228.23 172.55,228.10 172.90,227.98 173.25,227.86 173.59,227.74 173.94,227.63 174.29,227.51 174.64,227.40 174.98,227.30 175.33,227.19 175.68,227.09 176.03,226.99 176.37,226.90 176.72,226.80 177.07,226.71 177.42,226.62 177.76,226.52 178.11,226.43 178.46,226.34 178.81,226.25 179.15,226.17 179.50,226.08 179.85,225.99 180.20,225.91 180.54,225.82 180.89,225.74 181.24,225.66 181.59,225.58 181.93,225.50 182.28,225.42 182.63,225.34 182.98,225.26 183.32,225.18 183.67,225.10 184.02,225.03 184.37,224.95 184.71,224.88 185.06,224.80 185.41,224.73 185.76,224.65 186.10,224.58 186.45,224.51 186.80,224.44 187.15,224.37 187.49,224.30 187.84,224.23 188.19,224.16 188.54,224.09 188.88,224.02 189.23,223.95 189.58,223.88 189.93,223.81 190.27,223.74 190.62,223.68 190.97,223.61 191.32,223.54 191.66,223.48 192.01,223.41 192.36,223.34 192.71,223.28 193.05,223.21 193.40,223.15 193.75,223.08 194.10,223.02 194.44,222.95 194.79,222.89 195.14,222.82 195.49,222.75 195.83,222.69 196.18,222.62 196.53,222.56 196.88,222.49 197.22,222.43 197.57,222.36 197.92,222.30 198.27,222.23 198.61,222.17 198.96,222.10 199.31,222.03 199.66,221.97 200.00,221.90 200.35,221.83 200.70,221.77 201.05,221.70 201.39,221.63 201.74,221.57 202.09,221.50 202.44,221.43 202.78,221.37 203.13,221.30 203.48,221.24 203.83,221.17 204.17,221.10 204.52,221.04 204.87,220.97 205.22,220.91 205.56,220.84 205.91,220.78 206.26,220.71 206.61,220.65 206.95,220.59 207.30,220.52 207.65,220.46 208.00,220.39 208.34,220.33 208.69,220.27 209.04,220.20 209.39,220.14 209.73,220.08 210.08,220.01 210.43,219.95 210.78,219.89 211.12,219.83 211.47,219.76 211.82,219.70 212.17,219.64 212.51,219.58 212.86,219.52 213.21,219.45 213.56,219.39 213.90,219.33 214.25,219.27 214.60,219.21 214.95,219.15 215.29,219.09 215.64,219.03 215.99,218.97 216.34,218.91 216.68,218.85 217.03,218.79 217.38,218.73 217.73,218.68 218.07,218.62 218.42,218.56 218.77,218.50 219.12,218.44 219.46,218.39 219.81,218.33 220.16,218.27 220.51,218.21 220.85,218.16 221.20,218.10 221.55,218.04 221.90,217.99 222.24,217.93 222.59,217.88 222.94,217.82 223.29,217.77 223.63,217.71 223.98,217.66 224.33,217.60 224.68,217.55 225.02,217.50 225.37,217.44 225.72,217.39 226.07,217.34 226.41,217.28 226.76,217.23 227.11,217.18 227.46,217.12 227.80,217.07 228.15,217.02 228.50,216.97 228.85,216.92 229.19,216.86 229.54,216.81 229.89,216.76 230.24,216.71 230.58,216.66 230.93,216.61 231.28,216.56 231.63,216.51 231.97,216.46 232.32,216.40 232.67,216.35 233.02,216.30 233.36,216.25 233.71,216.21 234.06,216.16 234.41,216.11 234.75,216.06 235.10,216.01 235.45,215.96 235.80,215.91 236.14,215.86 236.49,215.81 236.84,215.77 237.19,215.72 237.53,215.67 237.88,215.62 238.23,215.57 238.58,215.53 238.92,215.48 239.27,215.43 239.62,215.39 239.97,215.34 240.31,215.29 240.66,215.25 241.01,215.20 241.36,215.16 241.70,215.11 242.05,215.07 242.40,215.02 242.75,214.98 243.09,214.93 243.44,214.89 243.79,214.84 244.14,214.80 244.48,214.75 244.83,214.71 245.18,214.67 245.53,214.62 245.87,214.58 246.22,214.54 246.57,214.49 246.92,214.45 247.26,214.41 247.61,214.37 247.96,214.32 248.31,214.28 248.65,214.24 249.00,214.20" fill="none" stroke="#217a25" stroke-width="1.2" stroke-linejoin="round"/>
<line x1="199.50" y1="180.10" x2="209.20" y2="180.10" stroke="#1f8a2a" stroke-width="1.3"/>
<text x="211.10" y="182.70" font-size="7.0" text-anchor="start" fill="#000">Resolved</text>
<line x1="199.50" y1="187.70" x2="209.20" y2="187.70" stroke="#d42020" stroke-width="1.3"/>
<text x="211.10" y="190.30" font-size="7.0" text-anchor="start" fill="#000">Peak</text>
<line x1="318.00" y1="181.40" x2="318.00" y2="279.50" stroke="#000" stroke-width="1.1"/>
<line x1="318.00" y1="279.50" x2="453.80" y2="279.50" stroke="#000" stroke-width="1.1"/>
<line x1="316.00" y1="181.40" x2="318.00" y2="181.40" stroke="#000" stroke-width="0.7"/>
<text x="315.80" y="183.70" font-size="6.6" font-weight="bold" text-anchor="end" fill="#000">1.1</text>
<line x1="316.00" y1="197.75" x2="318.00" y2="197.75" stroke="#000" stroke-width="0.7"/>
<text x="315.80" y="200.05" font-size="6.6" font-weight="bold" text-anchor="end" fill="#000">1.0</text>
<line x1="316.00" y1="214.10" x2="318.00" y2="214.10" stroke="#000" stroke-width="0.7"/>
<text x="315.80" y="216.40" font-size="6.6" font-weight="bold" text-anchor="end" fill="#000">0.9</text>
<line x1="316.00" y1="230.45" x2="318.00" y2="230.45" stroke="#000" stroke-width="0.7"/>
<text x="315.80" y="232.75" font-size="6.6" font-weight="bold" text-anchor="end" fill="#000">0.8</text>
<line x1="316.00" y1="246.80" x2="318.00" y2="246.80" stroke="#000" stroke-width="0.7"/>
<text x="315.80" y="249.10" font-size="6.6" font-weight="bold" text-anchor="end" fill="#000">0.7</text>
<line x1="316.00" y1="263.15" x2="318.00" y2="263.15" stroke="#000" stroke-width="0.7"/>
<text x="315.80" y="265.45" font-size="6.6" font-weight="bold" text-anchor="end" fill="#000">0.6</text>
<line x1="316.00" y1="279.50" x2="318.00" y2="279.50" stroke="#000" stroke-width="0.7"/>
<text x="315.80" y="281.80" font-size="6.6" font-weight="bold" text-anchor="end" fill="#000">0.5</text>
<text x="299.30" y="227.75" font-size="6.3" font-weight="bold" text-anchor="middle" fill="#000" transform="rotate(-90 299.3 227.75)" textLength="73.5" lengthAdjust="spacingAndGlyphs">Normalized resistance</text>
<rect x="330.9" y="227.18" width="49.8" height="52.32" fill="#fff" stroke="#000" stroke-width="1"/>
<line x1="355.80" y1="227.18" x2="355.80" y2="219.00" stroke="#000" stroke-width="1.0"/>
<line x1="343.00" y1="219.00" x2="367.90" y2="219.00" stroke="#000" stroke-width="1.0"/>
<rect x="404.8" y="195.30" width="49.0" height="84.20" fill="#000"/>
<line x1="429.30" y1="195.30" x2="429.30" y2="189.57" stroke="#000" stroke-width="1.0"/>
<line x1="418.00" y1="189.57" x2="441.20" y2="189.57" stroke="#000" stroke-width="1.0"/>
<line x1="353.80" y1="171.00" x2="429.60" y2="171.00" stroke="#000" stroke-width="1.2"/>
<line x1="353.80" y1="168.80" x2="353.80" y2="173.20" stroke="#000" stroke-width="0.8"/>
<line x1="429.60" y1="168.80" x2="429.60" y2="173.20" stroke="#000" stroke-width="0.8"/>
<text x="392.50" y="168.00" font-size="8.5" font-weight="bold" text-anchor="middle" fill="#000">**</text>
<text x="357.80" y="284.30" font-size="6.6" font-weight="bold" text-anchor="end" fill="#000" transform="rotate(-45 357.8 284.3)">peak</text>
<text x="431.60" y="284.00" font-size="6.7" font-weight="bold" text-anchor="end" fill="#000" transform="rotate(-45 431.6 284.0)">resolved</text>
<text x="393.20" y="319.50" font-size="8.8" font-weight="bold" text-anchor="middle" fill="#000">Pt 4</text>
<text x="77.30" y="351.40" font-size="10.8" font-weight="bold" text-anchor="start" fill="#000">E</text>
<text x="149.40" y="363.30" font-size="8.2" font-weight="bold" text-anchor="middle" fill="#3cc83c" textLength="46.2" lengthAdjust="spacingAndGlyphs">VE cadherin</text>
<text x="264.10" y="363.80" font-size="8.0" font-weight="bold" text-anchor="middle" fill="#c0183a">Actin</text>
<text x="357.80" y="361.20" font-size="7.9" font-weight="bold" text-anchor="start" fill="#f2e04a">Merge</text>
<text x="384.30" y="361.20" font-size="7.9" font-weight="bold" text-anchor="start" fill="#2626a8">DAPI</text>
<text x="91.80" y="422.75" font-size="9.0" font-weight="bold" text-anchor="middle" fill="#000" transform="rotate(-90 91.8 422.75)" textLength="55.5" lengthAdjust="spacingAndGlyphs">Pt 4 resolved</text>
<text x="91.40" y="537.10" font-size="9.0" font-weight="bold" text-anchor="middle" fill="#000" transform="rotate(-90 91.4 537.1)" textLength="39.4" lengthAdjust="spacingAndGlyphs">Pt 4 peak</text>
<g transform="translate(98,368.5)"><svg width="110" height="110" viewBox="0 0 110 110" preserveAspectRatio="none" overflow="hidden"><rect width="110" height="110" fill="#020602"/><path d="M5.0,40.0 L12.0,47.0 L20.0,50.0 M55.0,55.0 L60.0,60.0 L64.0,66.0 M80.0,5.0 L85.0,12.0 L86.0,20.0" fill="none" stroke="#3cc83c" stroke-width="5" stroke-opacity="0.5" stroke-linecap="round" stroke-linejoin="round" filter="url(#gt2)"/><path d="M24.3,2.6 L20.1,3.7 L15.9,6.3 L12.7,10.0 L10.0,14.3 L7.9,18.0 L5.8,20.6 L3.2,21.7 L0.0,21.5 M24.3,3.2 L28.6,4.8 L31.2,8.5 L31.7,12.7 L30.7,18.0 L29.1,22.2 L27.0,26.4 L24.9,30.7 L23.3,33.9 M37.6,1.6 L39.1,5.3 L40.2,10.6 L41.8,15.9 L44.4,19.6 L46.6,21.2 L47.6,25.4 L49.2,29.6 L50.8,32.8 L52.9,36.0 L55.0,39.1 L56.5,45.0 L57.5,52.0 L58.2,61.3 L62.4,68.8 L65.6,76.2 L66.6,82.5 L67.2,88.9 L67.7,97.3 L67.2,103.7 L66.6,110.0 M44.4,3.7 L49.7,5.3 L52.9,7.4 L55.0,10.0 L57.1,13.8 M22.8,34.9 L26.5,37.0 L29.6,39.7 L31.7,42.3 L34.9,44.4 L38.1,46.6 L42.3,48.7 L46.6,50.3 L50.8,51.9 L55.0,52.9 L58.0,55.5 L61.3,56.1 L70.9,57.1 L76.2,59.2 L82.5,59.2 L86.7,62.4 L91.0,65.6 L97.3,69.8 L102.6,73.0 L107.9,76.2 L110.0,77.2 M0.0,36.0 L2.1,39.1 L4.2,42.3 L6.3,45.5 L8.5,48.7 L11.6,50.3 L15.9,51.9 L20.1,52.4 L23.3,54.0 L25.4,58.2 L31.7,61.3 L37.0,64.5 L42.3,66.6 L46.6,68.8 L50.8,68.8 L55.0,67.7 M0.0,62.6 L3.2,59.7 L7.4,57.1 L12.7,56.1 L19.0,56.6 L25.4,58.2 M55.0,2.0 L58.2,4.2 L65.6,5.3 L73.0,6.3 L78.3,8.5 L82.5,10.6 L84.6,13.8 M92.6,1.6 L89.9,8.5 L87.8,15.9 L86.2,21.2 L86.7,26.5 L87.8,30.7 L85.7,34.9 L82.5,40.2 L79.3,45.5 L76.2,50.8 L74.0,55.0 L72.0,59.0 M55.0,13.8 L57.1,15.9 L58.2,21.2 L58.7,29.6 L57.6,37.0 L56.6,44.4 L55.5,50.8 M87.0,29.5 L89.9,28.6 L97.3,28.0 L102.6,28.6 L110.0,29.1 M72.0,59.7 L80.0,57.5 L88.0,55.5 L95.2,54.0 L102.6,52.4 L110.0,50.8 M46.0,68.8 L45.5,70.9 L44.4,76.2 L42.3,81.5 L41.3,86.7 L40.2,92.0 L38.1,97.3 L36.0,101.6 L32.8,105.8 L30.7,110.0 M40.2,95.2 L43.4,102.6 L44.4,110.0 M0.0,88.9 L6.3,89.9 L9.5,91.0 M2.1,88.9 L5.3,92.0 L3.2,97.3 L4.2,102.6 L8.5,105.8 L12.7,110.0 M0.0,21.5 L2.5,25.0 L1.5,30.0 L0.5,36.0 M81.5,110.0 L83.6,104.7 L85.7,102.6 L91.0,99.4 L97.3,95.2 L102.6,92.0 L107.9,88.9 L110.0,87.8 M73.0,99.4 L71.9,104.7 L70.9,110.0 M102.0,0.5 L104.0,5.0 L106.0,8.0 L110.0,10.0" fill="none" stroke="#22a022" stroke-width="2.6" stroke-opacity="0.28" stroke-linejoin="round" filter="url(#jb)"/><path d="M25.6,3.6 L21.4,4.7 L17.2,7.3 L14.0,11.0 L11.3,15.3 L9.2,19.0 L7.1,21.6 L4.5,22.7 L1.3,22.5 M25.6,4.2 L29.9,5.8 L32.5,9.5 L33.0,13.7 L32.0,19.0 L30.4,23.2 L28.3,27.4 L26.2,31.7 L24.6,34.9 M38.9,2.6 L40.4,6.3 L41.5,11.6 L43.1,16.9 L45.7,20.6 L47.9,22.2 L48.9,26.4 L50.5,30.6 L52.1,33.8 L54.2,37.0 L56.3,40.1 L57.8,46.0 L58.8,53.0 L59.5,62.3 L63.7,69.8 L66.9,77.2 L67.9,83.5 L68.5,89.9 L69.0,98.3 L68.5,104.7 L67.9,111.0 M45.7,4.7 L51.0,6.3 L54.2,8.4 L56.3,11.0 L58.4,14.8 M24.1,35.9 L27.8,38.0 L30.9,40.7 L33.0,43.3 L36.2,45.4 L39.4,47.6 L43.6,49.7 L47.9,51.3 L52.1,52.9 L56.3,53.9 L59.3,56.5 L62.6,57.1 L72.2,58.1 L77.5,60.2 L83.8,60.2 L88.0,63.4 L92.3,66.6 L98.6,70.8 L103.9,74.0 L109.2,77.2 L111.3,78.2 M1.3,37.0 L3.4,40.1 L5.5,43.3 L7.6,46.5 L9.8,49.7 L12.9,51.3 L17.2,52.9 L21.4,53.4 L24.6,55.0 L26.7,59.2 L33.0,62.3 L38.3,65.5 L43.6,67.6 L47.9,69.8 L52.1,69.8 L56.3,68.7 M1.3,63.6 L4.5,60.7 L8.7,58.1 L14.0,57.1 L20.3,57.6 L26.7,59.2 M56.3,3.0 L59.5,5.2 L66.9,6.3 L74.3,7.3 L79.6,9.5 L83.8,11.6 L85.9,14.8 M93.9,2.6 L91.2,9.5 L89.1,16.9 L87.5,22.2 L88.0,27.5 L89.1,31.7 L87.0,35.9 L83.8,41.2 L80.6,46.5 L77.5,51.8 L75.3,56.0 L73.3,60.0 M56.3,14.8 L58.4,16.9 L59.5,22.2 L60.0,30.6 L58.9,38.0 L57.9,45.4 L56.8,51.8 M88.3,30.5 L91.2,29.6 L98.6,29.0 L103.9,29.6 L111.3,30.1 M73.3,60.7 L81.3,58.5 L89.3,56.5 L96.5,55.0 L103.9,53.4 L111.3,51.8 M47.3,69.8 L46.8,71.9 L45.7,77.2 L43.6,82.5 L42.6,87.7 L41.5,93.0 L39.4,98.3 L37.3,102.6 L34.1,106.8 L32.0,111.0 M41.5,96.2 L44.7,103.6 L45.7,111.0 M1.3,89.9 L7.6,90.9 L10.8,92.0 M3.4,89.9 L6.6,93.0 L4.5,98.3 L5.5,103.6 L9.8,106.8 L14.0,111.0 M1.3,22.5 L3.8,26.0 L2.8,31.0 L1.8,37.0 M82.8,111.0 L84.9,105.7 L87.0,103.6 L92.3,100.4 L98.6,96.2 L103.9,93.0 L109.2,89.9 L111.3,88.8 M74.3,100.4 L73.2,105.7 L72.2,111.0 M103.3,1.5 L105.3,6.0 L107.3,9.0 L111.3,11.0" fill="none" stroke="#40e040" stroke-width="0.77" stroke-opacity="0.45" stroke-linejoin="round" filter="url(#gt)"/><path d="M24.3,2.6 L20.1,3.7 L15.9,6.3 L12.7,10.0 L10.0,14.3 L7.9,18.0 L5.8,20.6 L3.2,21.7 L0.0,21.5 M24.3,3.2 L28.6,4.8 L31.2,8.5 L31.7,12.7 L30.7,18.0 L29.1,22.2 L27.0,26.4 L24.9,30.7 L23.3,33.9 M37.6,1.6 L39.1,5.3 L40.2,10.6 L41.8,15.9 L44.4,19.6 L46.6,21.2 L47.6,25.4 L49.2,29.6 L50.8,32.8 L52.9,36.0 L55.0,39.1 L56.5,45.0 L57.5,52.0 L58.2,61.3 L62.4,68.8 L65.6,76.2 L66.6,82.5 L67.2,88.9 L67.7,97.3 L67.2,103.7 L66.6,110.0 M44.4,3.7 L49.7,5.3 L52.9,7.4 L55.0,10.0 L57.1,13.8 M22.8,34.9 L26.5,37.0 L29.6,39.7 L31.7,42.3 L34.9,44.4 L38.1,46.6 L42.3,48.7 L46.6,50.3 L50.8,51.9 L55.0,52.9 L58.0,55.5 L61.3,56.1 L70.9,57.1 L76.2,59.2 L82.5,59.2 L86.7,62.4 L91.0,65.6 L97.3,69.8 L102.6,73.0 L107.9,76.2 L110.0,77.2 M0.0,36.0 L2.1,39.1 L4.2,42.3 L6.3,45.5 L8.5,48.7 L11.6,50.3 L15.9,51.9 L20.1,52.4 L23.3,54.0 L25.4,58.2 L31.7,61.3 L37.0,64.5 L42.3,66.6 L46.6,68.8 L50.8,68.8 L55.0,67.7 M0.0,62.6 L3.2,59.7 L7.4,57.1 L12.7,56.1 L19.0,56.6 L25.4,58.2 M55.0,2.0 L58.2,4.2 L65.6,5.3 L73.0,6.3 L78.3,8.5 L82.5,10.6 L84.6,13.8 M92.6,1.6 L89.9,8.5 L87.8,15.9 L86.2,21.2 L86.7,26.5 L87.8,30.7 L85.7,34.9 L82.5,40.2 L79.3,45.5 L76.2,50.8 L74.0,55.0 L72.0,59.0 M55.0,13.8 L57.1,15.9 L58.2,21.2 L58.7,29.6 L57.6,37.0 L56.6,44.4 L55.5,50.8 M87.0,29.5 L89.9,28.6 L97.3,28.0 L102.6,28.6 L110.0,29.1 M72.0,59.7 L80.0,57.5 L88.0,55.5 L95.2,54.0 L102.6,52.4 L110.0,50.8 M46.0,68.8 L45.5,70.9 L44.4,76.2 L42.3,81.5 L41.3,86.7 L40.2,92.0 L38.1,97.3 L36.0,101.6 L32.8,105.8 L30.7,110.0 M40.2,95.2 L43.4,102.6 L44.4,110.0 M0.0,88.9 L6.3,89.9 L9.5,91.0 M2.1,88.9 L5.3,92.0 L3.2,97.3 L4.2,102.6 L8.5,105.8 L12.7,110.0 M0.0,21.5 L2.5,25.0 L1.5,30.0 L0.5,36.0 M81.5,110.0 L83.6,104.7 L85.7,102.6 L91.0,99.4 L97.3,95.2 L102.6,92.0 L107.9,88.9 L110.0,87.8 M73.0,99.4 L71.9,104.7 L70.9,110.0 M102.0,0.5 L104.0,5.0 L106.0,8.0 L110.0,10.0" fill="none" stroke="#40e040" stroke-width="1.36" stroke-linejoin="round" filter="url(#gt)"/><path d="M24.3,2.6 L20.1,3.7 L15.9,6.3 L12.7,10.0 L10.0,14.3 L7.9,18.0 L5.8,20.6 L3.2,21.7 L0.0,21.5 M24.3,3.2 L28.6,4.8 L31.2,8.5 L31.7,12.7 L30.7,18.0 L29.1,22.2 L27.0,26.4 L24.9,30.7 L23.3,33.9 M37.6,1.6 L39.1,5.3 L40.2,10.6 L41.8,15.9 L44.4,19.6 L46.6,21.2 L47.6,25.4 L49.2,29.6 L50.8,32.8 L52.9,36.0 L55.0,39.1 L56.5,45.0 L57.5,52.0 L58.2,61.3 L62.4,68.8 L65.6,76.2 L66.6,82.5 L67.2,88.9 L67.7,97.3 L67.2,103.7 L66.6,110.0 M44.4,3.7 L49.7,5.3 L52.9,7.4 L55.0,10.0 L57.1,13.8 M22.8,34.9 L26.5,37.0 L29.6,39.7 L31.7,42.3 L34.9,44.4 L38.1,46.6 L42.3,48.7 L46.6,50.3 L50.8,51.9 L55.0,52.9 L58.0,55.5 L61.3,56.1 L70.9,57.1 L76.2,59.2 L82.5,59.2 L86.7,62.4 L91.0,65.6 L97.3,69.8 L102.6,73.0 L107.9,76.2 L110.0,77.2 M0.0,36.0 L2.1,39.1 L4.2,42.3 L6.3,45.5 L8.5,48.7 L11.6,50.3 L15.9,51.9 L20.1,52.4 L23.3,54.0 L25.4,58.2 L31.7,61.3 L37.0,64.5 L42.3,66.6 L46.6,68.8 L50.8,68.8 L55.0,67.7 M0.0,62.6 L3.2,59.7 L7.4,57.1 L12.7,56.1 L19.0,56.6 L25.4,58.2 M55.0,2.0 L58.2,4.2 L65.6,5.3 L73.0,6.3 L78.3,8.5 L82.5,10.6 L84.6,13.8 M92.6,1.6 L89.9,8.5 L87.8,15.9 L86.2,21.2 L86.7,26.5 L87.8,30.7 L85.7,34.9 L82.5,40.2 L79.3,45.5 L76.2,50.8 L74.0,55.0 L72.0,59.0 M55.0,13.8 L57.1,15.9 L58.2,21.2 L58.7,29.6 L57.6,37.0 L56.6,44.4 L55.5,50.8 M87.0,29.5 L89.9,28.6 L97.3,28.0 L102.6,28.6 L110.0,29.1 M72.0,59.7 L80.0,57.5 L88.0,55.5 L95.2,54.0 L102.6,52.4 L110.0,50.8 M46.0,68.8 L45.5,70.9 L44.4,76.2 L42.3,81.5 L41.3,86.7 L40.2,92.0 L38.1,97.3 L36.0,101.6 L32.8,105.8 L30.7,110.0 M40.2,95.2 L43.4,102.6 L44.4,110.0 M0.0,88.9 L6.3,89.9 L9.5,91.0 M2.1,88.9 L5.3,92.0 L3.2,97.3 L4.2,102.6 L8.5,105.8 L12.7,110.0 M0.0,21.5 L2.5,25.0 L1.5,30.0 L0.5,36.0 M81.5,110.0 L83.6,104.7 L85.7,102.6 L91.0,99.4 L97.3,95.2 L102.6,92.0 L107.9,88.9 L110.0,87.8 M73.0,99.4 L71.9,104.7 L70.9,110.0 M102.0,0.5 L104.0,5.0 L106.0,8.0 L110.0,10.0" fill="none" stroke="#40e040" stroke-width="0.68" stroke-opacity="0.75" stroke-linejoin="round" filter="url(#jag)"/><ellipse cx="14" cy="46" rx="7" ry="5" fill="#22a022" fill-opacity="0.45" filter="url(#bl)"/><ellipse cx="8" cy="44" rx="4" ry="6" fill="#22a022" fill-opacity="0.45" filter="url(#bl)"/><ellipse cx="20" cy="47" rx="4" ry="3" fill="#22a022" fill-opacity="0.45" filter="url(#bl)"/><ellipse cx="58" cy="58" rx="6" ry="5" fill="#22a022" fill-opacity="0.45" filter="url(#bl)"/><ellipse cx="62" cy="63" rx="4" ry="4" fill="#22a022" fill-opacity="0.45" filter="url(#bl)"/><ellipse cx="84" cy="12" rx="4" ry="5" fill="#22a022" fill-opacity="0.45" filter="url(#bl)"/><ellipse cx="86" cy="20" rx="3" ry="4" fill="#22a022" fill-opacity="0.45" filter="url(#bl)"/><ellipse cx="30" cy="42" rx="3" ry="3" fill="#22a022" fill-opacity="0.45" filter="url(#bl)"/><ellipse cx="95" cy="28" rx="3" ry="2" fill="#22a022" fill-opacity="0.45" filter="url(#bl)"/><ellipse cx="2" cy="40" rx="2" ry="5" fill="#22a022" fill-opacity="0.45" filter="url(#bl)"/><g filter="url(#gt2)"><ellipse cx="14" cy="46" rx="5.6" ry="4.0" fill="#40e040" fill-opacity="0.9"/><ellipse cx="8" cy="44" rx="3.2" ry="4.8" fill="#40e040" fill-opacity="0.9"/><ellipse cx="20" cy="47" rx="3.2" ry="2.4" fill="#40e040" fill-opacity="0.9"/><ellipse cx="58" cy="58" rx="4.8" ry="4.0" fill="#40e040" fill-opacity="0.9"/><ellipse cx="62" cy="63" rx="3.2" ry="3.2" fill="#40e040" fill-opacity="0.9"/><ellipse cx="84" cy="12" rx="3.2" ry="4.0" fill="#40e040" fill-opacity="0.9"/><ellipse cx="86" cy="20" rx="2.4" ry="3.2" fill="#40e040" fill-opacity="0.9"/><ellipse cx="30" cy="42" rx="2.4" ry="2.4" fill="#40e040" fill-opacity="0.9"/><ellipse cx="95" cy="28" rx="2.4" ry="1.6" fill="#40e040" fill-opacity="0.9"/><ellipse cx="2" cy="40" rx="1.6" ry="4.0" fill="#40e040" fill-opacity="0.9"/></g><line x1="86" y1="104.2" x2="102" y2="104.2" stroke="#d8d8d8" stroke-width="0.9"/></svg></g>
<g transform="translate(212,368.5)"><svg width="109.5" height="110" viewBox="0 0 110 110" preserveAspectRatio="none" overflow="hidden"><rect width="110" height="110" fill="#0e0101"/><ellipse cx="18" cy="20" rx="9.3" ry="7.6" fill="#050000" fill-opacity="0.4" filter="url(#nb)"/><ellipse cx="70" cy="30" rx="8.5" ry="9.3" fill="#050000" fill-opacity="0.4" filter="url(#nb)"/><ellipse cx="100" cy="14" rx="5.1" ry="6.8" fill="#050000" fill-opacity="0.4" filter="url(#nb)"/><ellipse cx="98" cy="42" rx="6.8" ry="6.0" fill="#050000" fill-opacity="0.4" filter="url(#nb)"/><ellipse cx="19" cy="80" rx="9.3" ry="8.5" fill="#050000" fill-opacity="0.4" filter="url(#nb)"/><ellipse cx="53" cy="88" rx="8.5" ry="8.5" fill="#050000" fill-opacity="0.4" filter="url(#nb)"/><ellipse cx="89" cy="80" rx="7.6" ry="7.6" fill="#050000" fill-opacity="0.4" filter="url(#nb)"/><ellipse cx="42" cy="34" rx="5.1" ry="5.1" fill="#050000" fill-opacity="0.4" filter="url(#nb)"/><path d="M24.3,2.6 L20.1,3.7 L15.9,6.3 L12.7,10.0 L10.0,14.3 L7.9,18.0 L5.8,20.6 L3.2,21.7 L0.0,21.5 M24.3,3.2 L28.6,4.8 L31.2,8.5 L31.7,12.7 L30.7,18.0 L29.1,22.2 L27.0,26.4 L24.9,30.7 L23.3,33.9 M37.6,1.6 L39.1,5.3 L40.2,10.6 L41.8,15.9 L44.4,19.6 L46.6,21.2 L47.6,25.4 L49.2,29.6 L50.8,32.8 L52.9,36.0 L55.0,39.1 L56.5,45.0 L57.5,52.0 L58.2,61.3 L62.4,68.8 L65.6,76.2 L66.6,82.5 L67.2,88.9 L67.7,97.3 L67.2,103.7 L66.6,110.0 M44.4,3.7 L49.7,5.3 L52.9,7.4 L55.0,10.0 L57.1,13.8 M22.8,34.9 L26.5,37.0 L29.6,39.7 L31.7,42.3 L34.9,44.4 L38.1,46.6 L42.3,48.7 L46.6,50.3 L50.8,51.9 L55.0,52.9 L58.0,55.5 L61.3,56.1 L70.9,57.1 L76.2,59.2 L82.5,59.2 L86.7,62.4 L91.0,65.6 L97.3,69.8 L102.6,73.0 L107.9,76.2 L110.0,77.2 M0.0,36.0 L2.1,39.1 L4.2,42.3 L6.3,45.5 L8.5,48.7 L11.6,50.3 L15.9,51.9 L20.1,52.4 L23.3,54.0 L25.4,58.2 L31.7,61.3 L37.0,64.5 L42.3,66.6 L46.6,68.8 L50.8,68.8 L55.0,67.7 M0.0,62.6 L3.2,59.7 L7.4,57.1 L12.7,56.1 L19.0,56.6 L25.4,58.2 M55.0,2.0 L58.2,4.2 L65.6,5.3 L73.0,6.3 L78.3,8.5 L82.5,10.6 L84.6,13.8 M92.6,1.6 L89.9,8.5 L87.8,15.9 L86.2,21.2 L86.7,26.5 L87.8,30.7 L85.7,34.9 L82.5,40.2 L79.3,45.5 L76.2,50.8 L74.0,55.0 L72.0,59.0 M55.0,13.8 L57.1,15.9 L58.2,21.2 L58.7,29.6 L57.6,37.0 L56.6,44.4 L55.5,50.8 M87.0,29.5 L89.9,28.6 L97.3,28.0 L102.6,28.6 L110.0,29.1 M72.0,59.7 L80.0,57.5 L88.0,55.5 L95.2,54.0 L102.6,52.4 L110.0,50.8 M46.0,68.8 L45.5,70.9 L44.4,76.2 L42.3,81.5 L41.3,86.7 L40.2,92.0 L38.1,97.3 L36.0,101.6 L32.8,105.8 L30.7,110.0 M40.2,95.2 L43.4,102.6 L44.4,110.0 M0.0,88.9 L6.3,89.9 L9.5,91.0 M2.1,88.9 L5.3,92.0 L3.2,97.3 L4.2,102.6 L8.5,105.8 L12.7,110.0 M0.0,21.5 L2.5,25.0 L1.5,30.0 L0.5,36.0 M81.5,110.0 L83.6,104.7 L85.7,102.6 L91.0,99.4 L97.3,95.2 L102.6,92.0 L107.9,88.9 L110.0,87.8 M73.0,99.4 L71.9,104.7 L70.9,110.0 M102.0,0.5 L104.0,5.0 L106.0,8.0 L110.0,10.0" fill="none" stroke="#5a0606" stroke-width="9" stroke-opacity="0.45" stroke-linejoin="round" filter="url(#hz)"/><path d="M7.8,90.2 Q-0.0,81.0 -9.7,73.7 M2.1,41.1 Q12.5,48.9 24.0,54.8 M33.7,104.2 Q33.0,97.5 39.6,98.4 M4.4,56.1 Q-4.5,61.4 -14.9,60.4 M58.3,29.6 Q56.2,38.9 63.8,44.7 M49.7,35.0 Q45.2,33.0 42.3,29.2 M55.2,29.6 Q62.7,32.9 60.4,40.7 M38.4,99.7 Q41.9,89.3 49.3,81.2 M5.2,24.7 Q11.2,23.2 11.7,17.1 M36.2,60.6 Q26.9,53.8 16.1,50.1 M53.8,12.8 Q41.9,5.5 33.2,-5.3 M15.3,12.8 Q8.1,20.6 -2.6,20.6 M7.4,86.7 Q16.0,87.1 21.5,93.7 M57.0,3.2 Q45.1,-3.5 32.5,-8.6 M41.4,78.9 Q38.9,68.3 44.4,58.9 M82.5,100.7 Q83.3,107.3 76.7,108.3 M1.5,26.0 Q4.5,13.9 12.0,3.9 M54.5,70.7 Q46.7,76.5 40.8,84.1 M87.1,26.0 Q79.4,22.3 81.3,14.0 M8.2,52.1 Q4.8,43.1 -4.7,43.9 M1.7,35.9 Q1.5,44.9 -3.0,52.7 M27.9,1.4 Q21.6,7.6 13.8,3.6 M7.9,92.9 Q11.9,104.4 23.1,108.9 M78.1,60.4 Q85.2,66.4 94.1,63.9 M75.6,103.4 Q73.3,113.4 74.3,123.5 M83.8,39.0 Q76.1,46.4 76.0,57.0 M69.2,87.1 Q72.7,95.5 80.0,101.0 M13.3,106.6 Q17.9,112.9 24.3,117.2 M3.6,22.9 Q10.9,28.3 16.6,35.3 M88.8,24.3 Q90.4,31.0 85.6,35.9 M91.0,30.2 Q103.9,34.5 115.9,28.1 M88.5,16.8 Q85.1,28.6 82.2,40.6 M104.9,30.2 Q94.7,28.0 86.8,21.2 M92.2,52.1 Q100.6,54.3 108.1,50.0 M89.7,25.0 Q88.0,29.9 87.0,35.0 M76.4,54.4 Q72.0,58.1 67.1,61.2 M31.3,9.5 Q22.6,21.3 25.5,35.8 M19.1,55.4 Q11.0,53.9 3.9,49.8 M6.5,91.3 Q-0.1,84.5 -6.8,77.7 M104.9,31.1 Q97.8,19.5 84.6,15.9 M48.4,9.0 Q44.2,1.2 35.6,2.8 M89.7,3.2 Q88.3,-6.2 87.2,-15.6 M11.6,14.2 Q8.0,19.8 11.2,25.6 M86.4,64.1 Q93.0,75.9 106.0,79.3 M13.7,108.6 Q5.6,103.3 -4.1,103.3 M21.1,57.8 Q25.8,47.2 21.7,36.4 M102.6,1.9 Q108.4,5.5 112.7,10.8 M47.8,3.9 Q57.6,4.9 65.5,-1.0 M73.1,102.1 Q82.1,95.9 81.0,85.1 M37.6,87.3 Q45.1,75.5 42.7,61.8 M0.8,25.2 Q7.2,19.2 2.1,12.1 M33.6,13.9 Q29.2,3.6 24.8,-6.8 M8.8,106.5 Q4.1,102.7 0.5,97.9 M36.1,100.7 Q31.9,113.1 22.0,121.7 M22.3,60.0 Q16.4,49.1 4.5,45.8 M102.4,25.3 Q109.3,28.4 113.9,22.3 M28.3,41.8 Q37.7,41.0 43.4,48.3 M47.0,69.3 Q53.2,58.4 54.7,46.1 M95.9,29.0 Q83.9,25.4 72.8,31.4 M6.5,93.6 Q8.1,87.9 5.6,82.5 M73.7,100.3 Q74.9,95.4 77.8,91.2 M96.2,51.3 Q100.0,48.7 104.5,48.2 M90.1,51.1 Q79.9,52.1 74.8,61.0 M38.6,83.5 Q31.9,86.2 29.4,93.0 M50.5,67.8 Q42.4,72.5 33.5,75.8 M17.1,48.8 Q25.1,51.5 30.7,45.2 M101.3,2.1 Q99.6,9.3 99.6,16.7 M84.3,108.7 Q96.6,107.3 102.5,96.4 M19.4,8.4 Q26.2,2.7 34.9,4.1 M45.9,69.0 Q40.9,78.8 47.1,88.0 M70.3,102.4 Q71.1,91.0 81.1,85.6 M18.3,48.6 Q7.1,46.3 -1.1,54.2 M42.7,106.7 Q43.3,99.8 42.5,93.0 M59.4,49.6 Q54.8,43.5 58.5,36.7 M42.1,69.9 Q44.7,55.3 56.2,45.9 M78.0,4.9 Q82.1,9.0 86.9,5.8 M6.0,90.9 Q10.7,93.0 14.9,96.1 M0.7,61.1 Q-2.6,65.5 -3.7,70.9 M73.2,106.9 Q74.7,113.8 68.2,116.5 M5.0,89.2 Q15.0,96.7 26.3,102.0 M68.5,102.0 Q76.1,98.7 74.9,90.6 M25.1,1.1 Q20.6,3.5 16.4,0.5 M49.4,23.0 Q46.9,14.4 48.1,5.5 M29.6,43.1 Q38.5,51.8 46.4,61.4 M84.3,39.9 Q78.5,52.6 73.8,65.7 M18.6,52.6 Q11.4,51.8 4.5,49.5 M72.6,109.3 Q67.1,112.7 71.4,117.4 M100.6,4.9 Q106.7,10.1 106.6,18.1 M101.7,31.7 Q91.6,30.5 81.9,33.7 M77.6,41.1 Q84.4,40.9 88.9,35.8 M-0.3,22.2 Q0.7,10.9 -5.2,1.2 M73.6,109.4 Q68.4,118.0 69.2,128.1 M58.2,11.6 Q52.5,5.8 44.7,8.1 M43.7,98.8 Q51.9,101.8 52.5,110.6 M86.9,28.9 Q74.5,27.8 62.7,31.7 M10.9,106.3 Q-1.0,101.4 -7.0,90.1 M10.4,110.6 Q13.2,117.4 19.0,113.0 M78.7,59.0 Q92.2,61.1 105.7,62.6 M16.3,1.5 Q24.4,-6.6 34.4,-12.4 M13.7,47.3 Q-0.1,45.9 -12.7,40.1 M54.5,8.9 Q53.9,4.2 51.4,0.2 M27.3,21.9 Q29.0,15.6 28.4,9.2 M74.6,5.3 Q63.2,3.2 51.6,2.3 M97.1,96.9 Q84.1,101.9 74.8,112.3 M64.1,82.0 Q68.1,75.3 61.2,71.7 M-1.2,28.4 Q-1.6,42.2 7.2,52.8 M4.7,88.2 Q-1.4,89.4 -6.0,85.1 M3.9,22.1 Q6.8,12.7 3.3,3.4 M12.0,14.5 Q6.6,15.1 4.0,19.9 M56.4,12.7 Q67.5,12.8 72.3,22.8" fill="none" stroke="#901212" stroke-width="0.6" stroke-opacity="0.45" filter="url(#rb2)"/><path d="M9.6,54.2 Q14.7,51.6 20.4,50.7 M63.5,2.7 Q56.8,-0.2 49.9,2.1 M101.3,53.3 Q106.6,49.5 112.8,47.8 M38.4,98.6 Q42.5,104.7 46.7,110.8 M22.9,4.6 Q9.9,8.0 -3.2,11.4 M7.4,107.8 Q13.8,110.3 13.4,117.2 M2.7,86.5 Q16.1,87.1 28.3,81.4 M37.8,103.0 Q26.8,105.6 18.8,113.6 M100.9,70.7 Q97.7,65.2 92.1,68.3 M66.9,98.0 Q70.1,92.0 66.6,86.1 M56.3,11.2 Q57.1,-3.8 47.2,-15.1 M4.8,62.9 Q1.2,67.9 -3.8,71.4 M99.2,2.1 Q98.2,-11.8 89.4,-22.6 M86.9,100.8 Q78.2,105.2 71.7,112.4 M103.3,29.1 Q114.2,29.4 121.0,38.0 M10.8,12.0 Q18.1,0.8 29.3,-6.6 M108.8,12.3 Q118.8,20.8 125.3,32.2 M75.3,53.1 Q76.1,57.4 75.2,61.8 M100.7,24.5 Q108.9,28.9 118.1,30.3 M89.4,96.9 Q85.6,98.5 81.9,100.1 M103.3,2.1 Q107.7,7.0 112.5,11.5 M103.2,25.7 Q111.4,26.7 119.6,27.5 M33.1,102.4 Q28.0,105.5 23.0,108.6 M8.4,88.9 Q-4.3,86.8 -14.8,79.4 M35.2,106.7 Q32.7,113.6 25.4,113.5 M14.0,57.8 Q19.0,63.6 26.6,64.0 M5.2,24.6 Q-7.9,30.2 -14.7,42.7 M51.1,8.1 Q59.0,11.9 67.9,12.4 M4.6,106.8 Q4.7,100.4 -1.7,100.8 M61.3,19.3 Q66.6,31.9 70.5,44.9 M-1.9,33.5 Q-2.9,23.8 -8.1,15.6 M24.0,32.8 Q20.5,28.2 25.0,24.5 M73.1,107.7 Q85.0,103.1 89.4,91.1 M111.2,7.6 Q119.7,12.4 122.7,21.7 M64.9,80.2 Q55.8,73.9 55.4,62.9 M87.4,11.5 Q87.8,18.3 91.8,23.8 M71.4,107.8 Q75.4,119.6 79.8,131.2 M44.7,65.9 Q30.6,68.6 17.6,62.3 M74.4,100.8 Q73.9,91.6 82.5,88.5 M104.9,11.9 Q100.3,6.1 94.8,11.2 M41.8,83.5 Q38.6,73.8 36.0,63.9 M55.3,8.1 Q66.6,12.5 75.3,20.8 M43.7,109.8 Q50.0,104.0 46.2,96.4 M69.9,103.4 Q61.4,113.8 56.8,126.4 M24.4,4.1 Q29.7,-5.5 40.7,-5.7 M2.6,38.2 Q7.6,45.2 10.4,53.2 M8.8,105.1 Q12.9,114.0 22.4,116.6 M84.8,52.5 Q78.1,58.3 70.3,62.6 M56.9,36.7 Q58.5,42.1 62.1,46.4 M102.9,7.1 Q88.4,5.3 78.0,-5.0 M67.6,108.0 Q64.7,112.6 60.6,116.0 M87.1,103.6 Q100.2,100.9 109.9,91.8 M1.7,56.9 Q6.0,45.8 14.2,37.2 M15.1,11.5 Q10.5,23.0 4.2,33.7 M5.1,62.4 Q-3.5,64.4 -5.4,73.1" fill="none" stroke="#901212" stroke-width="1.2" stroke-opacity="0.27" filter="url(#rb)"/><ellipse cx="8" cy="38" rx="7.5" ry="4.5" fill="#b01515" fill-opacity="0.4" filter="url(#nb)"/><ellipse cx="32" cy="2" rx="6.0" ry="2.2" fill="#b01515" fill-opacity="0.4" filter="url(#nb)"/><ellipse cx="63" cy="64" rx="6.0" ry="3.0" fill="#b01515" fill-opacity="0.4" filter="url(#nb)"/><ellipse cx="12" cy="30" rx="4.5" ry="3.0" fill="#b01515" fill-opacity="0.4" filter="url(#nb)"/><ellipse cx="90" cy="40" rx="4.5" ry="3.0" fill="#b01515" fill-opacity="0.4" filter="url(#nb)"/><path d="M24.3,2.6 L20.1,3.7 L15.9,6.3 L12.7,10.0 L10.0,14.3 L7.9,18.0 L5.8,20.6 L3.2,21.7 L0.0,21.5 M24.3,3.2 L28.6,4.8 L31.2,8.5 L31.7,12.7 L30.7,18.0 L29.1,22.2 L27.0,26.4 L24.9,30.7 L23.3,33.9 M37.6,1.6 L39.1,5.3 L40.2,10.6 L41.8,15.9 L44.4,19.6 L46.6,21.2 L47.6,25.4 L49.2,29.6 L50.8,32.8 L52.9,36.0 L55.0,39.1 L56.5,45.0 L57.5,52.0 L58.2,61.3 L62.4,68.8 L65.6,76.2 L66.6,82.5 L67.2,88.9 L67.7,97.3 L67.2,103.7 L66.6,110.0 M44.4,3.7 L49.7,5.3 L52.9,7.4 L55.0,10.0 L57.1,13.8 M22.8,34.9 L26.5,37.0 L29.6,39.7 L31.7,42.3 L34.9,44.4 L38.1,46.6 L42.3,48.7 L46.6,50.3 L50.8,51.9 L55.0,52.9 L58.0,55.5 L61.3,56.1 L70.9,57.1 L76.2,59.2 L82.5,59.2 L86.7,62.4 L91.0,65.6 L97.3,69.8 L102.6,73.0 L107.9,76.2 L110.0,77.2 M0.0,36.0 L2.1,39.1 L4.2,42.3 L6.3,45.5 L8.5,48.7 L11.6,50.3 L15.9,51.9 L20.1,52.4 L23.3,54.0 L25.4,58.2 L31.7,61.3 L37.0,64.5 L42.3,66.6 L46.6,68.8 L50.8,68.8 L55.0,67.7 M0.0,62.6 L3.2,59.7 L7.4,57.1 L12.7,56.1 L19.0,56.6 L25.4,58.2 M55.0,2.0 L58.2,4.2 L65.6,5.3 L73.0,6.3 L78.3,8.5 L82.5,10.6 L84.6,13.8 M92.6,1.6 L89.9,8.5 L87.8,15.9 L86.2,21.2 L86.7,26.5 L87.8,30.7 L85.7,34.9 L82.5,40.2 L79.3,45.5 L76.2,50.8 L74.0,55.0 L72.0,59.0 M55.0,13.8 L57.1,15.9 L58.2,21.2 L58.7,29.6 L57.6,37.0 L56.6,44.4 L55.5,50.8 M87.0,29.5 L89.9,28.6 L97.3,28.0 L102.6,28.6 L110.0,29.1 M72.0,59.7 L80.0,57.5 L88.0,55.5 L95.2,54.0 L102.6,52.4 L110.0,50.8 M46.0,68.8 L45.5,70.9 L44.4,76.2 L42.3,81.5 L41.3,86.7 L40.2,92.0 L38.1,97.3 L36.0,101.6 L32.8,105.8 L30.7,110.0 M40.2,95.2 L43.4,102.6 L44.4,110.0 M0.0,88.9 L6.3,89.9 L9.5,91.0 M2.1,88.9 L5.3,92.0 L3.2,97.3 L4.2,102.6 L8.5,105.8 L12.7,110.0 M0.0,21.5 L2.5,25.0 L1.5,30.0 L0.5,36.0 M81.5,110.0 L83.6,104.7 L85.7,102.6 L91.0,99.4 L97.3,95.2 L102.6,92.0 L107.9,88.9 L110.0,87.8 M73.0,99.4 L71.9,104.7 L70.9,110.0 M102.0,0.5 L104.0,5.0 L106.0,8.0 L110.0,10.0" fill="none" stroke="#b01515" stroke-width="2.2" stroke-opacity="0.5" stroke-linejoin="round" filter="url(#rjag2)"/><line x1="86" y1="104.2" x2="102" y2="104.2" stroke="#d8d8d8" stroke-width="0.9"/></svg></g>
<g transform="translate(325,368.5)"><svg width="110" height="110" viewBox="0 0 110 110" preserveAspectRatio="none" overflow="hidden"><rect width="110" height="110" fill="#14040a"/><ellipse cx="18" cy="20" rx="11.4" ry="9.4" fill="#12104a" fill-opacity="0.85" filter="url(#nb)"/><ellipse cx="70" cy="30" rx="10.4" ry="11.4" fill="#12104a" fill-opacity="0.85" filter="url(#nb)"/><ellipse cx="100" cy="14" rx="6.2" ry="8.3" fill="#12104a" fill-opacity="0.85" filter="url(#nb)"/><ellipse cx="98" cy="42" rx="8.3" ry="7.3" fill="#12104a" fill-opacity="0.85" filter="url(#nb)"/><ellipse cx="19" cy="80" rx="11.4" ry="10.4" fill="#12104a" fill-opacity="0.85" filter="url(#nb)"/><ellipse cx="53" cy="88" rx="10.4" ry="10.4" fill="#12104a" fill-opacity="0.85" filter="url(#nb)"/><ellipse cx="89" cy="80" rx="9.4" ry="9.4" fill="#12104a" fill-opacity="0.85" filter="url(#nb)"/><ellipse cx="42" cy="34" rx="6.2" ry="6.2" fill="#12104a" fill-opacity="0.85" filter="url(#nb)"/><path d="M24.3,2.6 L20.1,3.7 L15.9,6.3 L12.7,10.0 L10.0,14.3 L7.9,18.0 L5.8,20.6 L3.2,21.7 L0.0,21.5 M24.3,3.2 L28.6,4.8 L31.2,8.5 L31.7,12.7 L30.7,18.0 L29.1,22.2 L27.0,26.4 L24.9,30.7 L23.3,33.9 M37.6,1.6 L39.1,5.3 L40.2,10.6 L41.8,15.9 L44.4,19.6 L46.6,21.2 L47.6,25.4 L49.2,29.6 L50.8,32.8 L52.9,36.0 L55.0,39.1 L56.5,45.0 L57.5,52.0 L58.2,61.3 L62.4,68.8 L65.6,76.2 L66.6,82.5 L67.2,88.9 L67.7,97.3 L67.2,103.7 L66.6,110.0 M44.4,3.7 L49.7,5.3 L52.9,7.4 L55.0,10.0 L57.1,13.8 M22.8,34.9 L26.5,37.0 L29.6,39.7 L31.7,42.3 L34.9,44.4 L38.1,46.6 L42.3,48.7 L46.6,50.3 L50.8,51.9 L55.0,52.9 L58.0,55.5 L61.3,56.1 L70.9,57.1 L76.2,59.2 L82.5,59.2 L86.7,62.4 L91.0,65.6 L97.3,69.8 L102.6,73.0 L107.9,76.2 L110.0,77.2 M0.0,36.0 L2.1,39.1 L4.2,42.3 L6.3,45.5 L8.5,48.7 L11.6,50.3 L15.9,51.9 L20.1,52.4 L23.3,54.0 L25.4,58.2 L31.7,61.3 L37.0,64.5 L42.3,66.6 L46.6,68.8 L50.8,68.8 L55.0,67.7 M0.0,62.6 L3.2,59.7 L7.4,57.1 L12.7,56.1 L19.0,56.6 L25.4,58.2 M55.0,2.0 L58.2,4.2 L65.6,5.3 L73.0,6.3 L78.3,8.5 L82.5,10.6 L84.6,13.8 M92.6,1.6 L89.9,8.5 L87.8,15.9 L86.2,21.2 L86.7,26.5 L87.8,30.7 L85.7,34.9 L82.5,40.2 L79.3,45.5 L76.2,50.8 L74.0,55.0 L72.0,59.0 M55.0,13.8 L57.1,15.9 L58.2,21.2 L58.7,29.6 L57.6,37.0 L56.6,44.4 L55.5,50.8 M87.0,29.5 L89.9,28.6 L97.3,28.0 L102.6,28.6 L110.0,29.1 M72.0,59.7 L80.0,57.5 L88.0,55.5 L95.2,54.0 L102.6,52.4 L110.0,50.8 M46.0,68.8 L45.5,70.9 L44.4,76.2 L42.3,81.5 L41.3,86.7 L40.2,92.0 L38.1,97.3 L36.0,101.6 L32.8,105.8 L30.7,110.0 M40.2,95.2 L43.4,102.6 L44.4,110.0 M0.0,88.9 L6.3,89.9 L9.5,91.0 M2.1,88.9 L5.3,92.0 L3.2,97.3 L4.2,102.6 L8.5,105.8 L12.7,110.0 M0.0,21.5 L2.5,25.0 L1.5,30.0 L0.5,36.0 M81.5,110.0 L83.6,104.7 L85.7,102.6 L91.0,99.4 L97.3,95.2 L102.6,92.0 L107.9,88.9 L110.0,87.8 M73.0,99.4 L71.9,104.7 L70.9,110.0 M102.0,0.5 L104.0,5.0 L106.0,8.0 L110.0,10.0" fill="none" stroke="#700a0a" stroke-width="10" stroke-opacity="0.5" stroke-linejoin="round" filter="url(#hz)"/><path d="M4.8,100.6 Q2.2,96.5 5.0,92.4 M3.9,86.8 Q-2.3,79.3 -11.8,81.0 M28.9,12.6 Q26.9,2.9 35.4,-2.2 M32.2,13.3 Q31.8,20.0 25.1,20.6 M96.9,24.7 Q104.8,29.3 113.7,31.5 M101.8,8.5 Q98.6,-3.7 86.9,-8.3 M87.6,35.5 Q91.9,29.6 98.7,26.7 M107.4,54.3 Q99.1,59.0 91.9,52.7 M9.2,11.8 Q5.9,1.7 9.4,-8.3 M53.9,31.0 Q45.8,24.5 38.3,17.2 M9.6,60.4 Q17.3,54.6 26.8,56.6 M88.5,105.1 Q77.6,102.5 68.9,109.5 M92.0,32.3 Q80.3,34.0 76.0,45.0 M-0.8,22.2 Q10.5,28.1 17.4,38.8 M-2.1,32.3 Q-1.7,18.3 6.3,6.8 M55.2,43.3 Q53.9,52.6 57.6,61.4 M10.2,57.0 Q9.0,62.0 4.0,62.9 M46.8,52.3 Q39.3,44.2 28.5,46.0 M90.9,4.2 Q87.0,15.6 79.9,25.4 M99.9,55.4 Q112.4,49.5 118.2,36.9 M44.1,100.4 Q44.6,91.3 36.2,87.6 M94.4,96.1 Q97.4,85.1 105.6,77.1 M45.2,104.8 Q48.0,100.1 46.1,95.0 M47.1,103.4 Q50.2,111.8 55.3,119.1 M5.7,88.7 Q-8.5,89.1 -20.1,97.5 M46.3,103.9 Q42.7,114.3 38.4,124.4 M108.2,12.1 Q95.3,13.2 83.4,8.0 M108.5,92.9 Q117.4,86.9 125.4,80.0 M57.5,27.7 Q68.4,35.7 73.0,48.5 M4.6,96.6 Q3.0,88.4 3.6,80.1 M107.3,4.5 Q106.6,11.9 109.3,18.8 M105.6,5.7 Q100.9,-1.0 98.7,-8.9 M43.9,77.0 Q38.8,63.2 44.5,49.6 M94.0,56.3 Q82.5,49.2 69.1,50.6 M87.2,104.6 Q80.4,100.5 75.4,106.6 M43.0,68.6 Q45.7,72.8 49.2,76.5 M3.2,90.5 Q11.8,93.1 20.2,96.5 M38.7,102.3 Q36.1,106.9 39.6,110.7 M79.9,58.4 Q71.7,55.8 63.8,59.2 M62.3,52.3 Q59.1,56.7 53.8,55.5 M47.6,4.3 Q57.9,6.5 66.6,12.3 M110.2,91.8 Q99.0,94.8 96.1,106.1 M81.4,53.1 Q92.6,52.8 102.1,58.7 M7.9,104.2 Q8.0,112.8 15.5,116.9 M5.5,97.9 Q7.2,105.5 6.1,113.2 M107.4,6.5 Q117.9,11.2 127.3,17.7 M48.1,5.6 Q40.0,0.6 31.0,-2.7 M39.5,93.6 Q38.5,100.9 36.6,107.9 M28.4,58.4 Q21.4,52.3 13.2,56.8 M57.2,24.1 Q53.3,14.3 59.6,5.9 M3.4,23.6 Q1.0,18.1 -5.0,18.5 M66.5,2.4 Q59.0,3.2 53.9,-2.4 M22.7,53.2 Q13.8,52.4 5.5,49.0 M85.0,22.6 Q84.2,31.7 86.2,40.6 M99.6,26.6 Q88.8,28.0 79.3,33.4 M60.4,31.0 Q63.3,24.4 67.9,18.8 M34.2,8.4 Q34.5,1.5 28.1,-1.0 M33.7,108.8 Q27.1,111.0 27.7,117.9 M74.4,48.5 Q76.0,41.0 83.7,40.6 M65.8,5.5 Q58.1,-1.7 48.4,2.1 M73.3,101.9 Q65.8,96.6 67.8,87.7 M1.6,27.7 Q-7.3,33.2 -9.3,43.3 M102.1,53.5 Q112.8,51.1 115.2,40.4 M68.3,7.9 Q75.4,14.2 84.6,16.7 M53.0,50.1 Q52.8,38.6 61.2,30.7 M32.9,39.6 Q39.6,47.2 49.7,47.8 M86.6,55.5 Q82.3,63.2 74.9,68.1 M47.7,66.4 Q34.9,68.4 28.3,79.4 M105.9,5.3 Q99.1,0.7 91.5,-2.5 M110.4,91.0 Q117.6,89.5 124.3,92.4" fill="none" stroke="#881010" stroke-width="0.6" stroke-opacity="0.55" filter="url(#rb2)"/><path d="M13.0,106.5 Q21.9,114.6 25.0,126.2 M2.6,88.1 Q11.4,91.3 15.8,99.5 M109.3,10.6 Q101.7,13.1 94.4,9.7 M40.7,14.4 Q42.9,28.2 53.8,37.0 M14.5,3.5 Q7.8,15.5 -3.3,23.7 M44.1,96.1 Q47.5,105.8 53.6,114.2 M80.5,11.4 Q76.8,5.5 69.9,4.6 M88.7,28.9 Q80.1,30.9 71.6,33.2 M7.1,51.9 Q17.2,55.6 25.9,62.1 M37.5,105.0 Q29.1,114.4 22.1,125.0 M41.3,108.6 Q35.3,101.2 31.0,92.6 M43.3,94.2 Q39.4,105.3 36.4,116.7 M85.0,31.2 Q78.9,38.8 82.8,47.8 M89.9,31.9 Q100.7,33.6 111.2,36.6 M105.3,7.4 Q97.3,-2.0 90.2,-12.0 M87.8,102.6 Q81.4,103.5 75.0,104.2 M97.6,29.2 Q88.0,31.5 78.6,28.4 M46.2,31.3 Q54.5,40.2 55.2,52.3 M17.5,53.1 Q5.0,48.2 -7.2,53.9 M22.8,53.9 Q27.4,51.8 32.3,51.9 M45.0,5.3 Q40.4,-3.3 30.6,-2.9 M55.8,7.1 Q57.3,0.0 51.8,-4.7 M60.6,60.3 Q62.3,71.8 72.7,77.1 M37.5,97.9 Q42.4,102.8 47.1,108.0 M-1.9,39.6 Q1.0,47.0 5.1,53.9 M55.0,8.3 Q62.9,18.6 60.6,31.4 M51.3,40.5 Q57.2,50.7 67.8,56.0 M6.9,59.5 Q3.5,70.4 -7.5,73.4 M18.8,59.7 Q8.0,58.7 0.4,51.1 M54.9,40.0 Q58.1,26.2 51.5,13.6 M54.6,23.4 Q60.3,32.7 64.8,42.6 M109.1,87.4 Q98.8,92.5 96.9,103.7 M8.2,91.6 Q-4.1,89.7 -14.3,96.9 M99.9,55.8 Q108.6,49.3 119.4,50.9 M96.2,57.5 Q104.1,57.5 104.1,49.6" fill="none" stroke="#881010" stroke-width="1.2" stroke-opacity="0.33" filter="url(#rb)"/><ellipse cx="8" cy="38" rx="7.5" ry="4.5" fill="#901010" fill-opacity="0.4" filter="url(#nb)"/><ellipse cx="32" cy="2" rx="6.0" ry="2.2" fill="#901010" fill-opacity="0.4" filter="url(#nb)"/><ellipse cx="63" cy="64" rx="6.0" ry="3.0" fill="#901010" fill-opacity="0.4" filter="url(#nb)"/><ellipse cx="12" cy="30" rx="4.5" ry="3.0" fill="#901010" fill-opacity="0.4" filter="url(#nb)"/><ellipse cx="90" cy="40" rx="4.5" ry="3.0" fill="#901010" fill-opacity="0.4" filter="url(#nb)"/><path d="M24.3,2.6 L20.1,3.7 L15.9,6.3 L12.7,10.0 L10.0,14.3 L7.9,18.0 L5.8,20.6 L3.2,21.7 L0.0,21.5 M24.3,3.2 L28.6,4.8 L31.2,8.5 L31.7,12.7 L30.7,18.0 L29.1,22.2 L27.0,26.4 L24.9,30.7 L23.3,33.9 M37.6,1.6 L39.1,5.3 L40.2,10.6 L41.8,15.9 L44.4,19.6 L46.6,21.2 L47.6,25.4 L49.2,29.6 L50.8,32.8 L52.9,36.0 L55.0,39.1 L56.5,45.0 L57.5,52.0 L58.2,61.3 L62.4,68.8 L65.6,76.2 L66.6,82.5 L67.2,88.9 L67.7,97.3 L67.2,103.7 L66.6,110.0 M44.4,3.7 L49.7,5.3 L52.9,7.4 L55.0,10.0 L57.1,13.8 M22.8,34.9 L26.5,37.0 L29.6,39.7 L31.7,42.3 L34.9,44.4 L38.1,46.6 L42.3,48.7 L46.6,50.3 L50.8,51.9 L55.0,52.9 L58.0,55.5 L61.3,56.1 L70.9,57.1 L76.2,59.2 L82.5,59.2 L86.7,62.4 L91.0,65.6 L97.3,69.8 L102.6,73.0 L107.9,76.2 L110.0,77.2 M0.0,36.0 L2.1,39.1 L4.2,42.3 L6.3,45.5 L8.5,48.7 L11.6,50.3 L15.9,51.9 L20.1,52.4 L23.3,54.0 L25.4,58.2 L31.7,61.3 L37.0,64.5 L42.3,66.6 L46.6,68.8 L50.8,68.8 L55.0,67.7 M0.0,62.6 L3.2,59.7 L7.4,57.1 L12.7,56.1 L19.0,56.6 L25.4,58.2 M55.0,2.0 L58.2,4.2 L65.6,5.3 L73.0,6.3 L78.3,8.5 L82.5,10.6 L84.6,13.8 M92.6,1.6 L89.9,8.5 L87.8,15.9 L86.2,21.2 L86.7,26.5 L87.8,30.7 L85.7,34.9 L82.5,40.2 L79.3,45.5 L76.2,50.8 L74.0,55.0 L72.0,59.0 M55.0,13.8 L57.1,15.9 L58.2,21.2 L58.7,29.6 L57.6,37.0 L56.6,44.4 L55.5,50.8 M87.0,29.5 L89.9,28.6 L97.3,28.0 L102.6,28.6 L110.0,29.1 M72.0,59.7 L80.0,57.5 L88.0,55.5 L95.2,54.0 L102.6,52.4 L110.0,50.8 M46.0,68.8 L45.5,70.9 L44.4,76.2 L42.3,81.5 L41.3,86.7 L40.2,92.0 L38.1,97.3 L36.0,101.6 L32.8,105.8 L30.7,110.0 M40.2,95.2 L43.4,102.6 L44.4,110.0 M0.0,88.9 L6.3,89.9 L9.5,91.0 M2.1,88.9 L5.3,92.0 L3.2,97.3 L4.2,102.6 L8.5,105.8 L12.7,110.0 M0.0,21.5 L2.5,25.0 L1.5,30.0 L0.5,36.0 M81.5,110.0 L83.6,104.7 L85.7,102.6 L91.0,99.4 L97.3,95.2 L102.6,92.0 L107.9,88.9 L110.0,87.8 M73.0,99.4 L71.9,104.7 L70.9,110.0 M102.0,0.5 L104.0,5.0 L106.0,8.0 L110.0,10.0" fill="none" stroke="#901010" stroke-width="2.0" stroke-opacity="0.7" stroke-linejoin="round" filter="url(#rjag)"/><path d="M5.0,40.0 L12.0,47.0 L20.0,50.0 M55.0,55.0 L60.0,60.0 L64.0,66.0 M80.0,5.0 L85.0,12.0 L86.0,20.0" fill="none" stroke="#48e048" stroke-width="5" stroke-opacity="0.45" stroke-linecap="round" stroke-linejoin="round" filter="url(#gt2)"/><path d="M24.3,2.6 L20.1,3.7 L15.9,6.3 L12.7,10.0 L10.0,14.3 L7.9,18.0 L5.8,20.6 L3.2,21.7 L0.0,21.5 M24.3,3.2 L28.6,4.8 L31.2,8.5 L31.7,12.7 L30.7,18.0 L29.1,22.2 L27.0,26.4 L24.9,30.7 L23.3,33.9 M37.6,1.6 L39.1,5.3 L40.2,10.6 L41.8,15.9 L44.4,19.6 L46.6,21.2 L47.6,25.4 L49.2,29.6 L50.8,32.8 L52.9,36.0 L55.0,39.1 L56.5,45.0 L57.5,52.0 L58.2,61.3 L62.4,68.8 L65.6,76.2 L66.6,82.5 L67.2,88.9 L67.7,97.3 L67.2,103.7 L66.6,110.0 M44.4,3.7 L49.7,5.3 L52.9,7.4 L55.0,10.0 L57.1,13.8 M22.8,34.9 L26.5,37.0 L29.6,39.7 L31.7,42.3 L34.9,44.4 L38.1,46.6 L42.3,48.7 L46.6,50.3 L50.8,51.9 L55.0,52.9 L58.0,55.5 L61.3,56.1 L70.9,57.1 L76.2,59.2 L82.5,59.2 L86.7,62.4 L91.0,65.6 L97.3,69.8 L102.6,73.0 L107.9,76.2 L110.0,77.2 M0.0,36.0 L2.1,39.1 L4.2,42.3 L6.3,45.5 L8.5,48.7 L11.6,50.3 L15.9,51.9 L20.1,52.4 L23.3,54.0 L25.4,58.2 L31.7,61.3 L37.0,64.5 L42.3,66.6 L46.6,68.8 L50.8,68.8 L55.0,67.7 M0.0,62.6 L3.2,59.7 L7.4,57.1 L12.7,56.1 L19.0,56.6 L25.4,58.2 M55.0,2.0 L58.2,4.2 L65.6,5.3 L73.0,6.3 L78.3,8.5 L82.5,10.6 L84.6,13.8 M92.6,1.6 L89.9,8.5 L87.8,15.9 L86.2,21.2 L86.7,26.5 L87.8,30.7 L85.7,34.9 L82.5,40.2 L79.3,45.5 L76.2,50.8 L74.0,55.0 L72.0,59.0 M55.0,13.8 L57.1,15.9 L58.2,21.2 L58.7,29.6 L57.6,37.0 L56.6,44.4 L55.5,50.8 M87.0,29.5 L89.9,28.6 L97.3,28.0 L102.6,28.6 L110.0,29.1 M72.0,59.7 L80.0,57.5 L88.0,55.5 L95.2,54.0 L102.6,52.4 L110.0,50.8 M46.0,68.8 L45.5,70.9 L44.4,76.2 L42.3,81.5 L41.3,86.7 L40.2,92.0 L38.1,97.3 L36.0,101.6 L32.8,105.8 L30.7,110.0 M40.2,95.2 L43.4,102.6 L44.4,110.0 M0.0,88.9 L6.3,89.9 L9.5,91.0 M2.1,88.9 L5.3,92.0 L3.2,97.3 L4.2,102.6 L8.5,105.8 L12.7,110.0 M0.0,21.5 L2.5,25.0 L1.5,30.0 L0.5,36.0 M81.5,110.0 L83.6,104.7 L85.7,102.6 L91.0,99.4 L97.3,95.2 L102.6,92.0 L107.9,88.9 L110.0,87.8 M73.0,99.4 L71.9,104.7 L70.9,110.0 M102.0,0.5 L104.0,5.0 L106.0,8.0 L110.0,10.0" fill="none" stroke="#22a022" stroke-width="2.6" stroke-opacity="0.28" stroke-linejoin="round" filter="url(#jb)"/><path d="M25.6,3.6 L21.4,4.7 L17.2,7.3 L14.0,11.0 L11.3,15.3 L9.2,19.0 L7.1,21.6 L4.5,22.7 L1.3,22.5 M25.6,4.2 L29.9,5.8 L32.5,9.5 L33.0,13.7 L32.0,19.0 L30.4,23.2 L28.3,27.4 L26.2,31.7 L24.6,34.9 M38.9,2.6 L40.4,6.3 L41.5,11.6 L43.1,16.9 L45.7,20.6 L47.9,22.2 L48.9,26.4 L50.5,30.6 L52.1,33.8 L54.2,37.0 L56.3,40.1 L57.8,46.0 L58.8,53.0 L59.5,62.3 L63.7,69.8 L66.9,77.2 L67.9,83.5 L68.5,89.9 L69.0,98.3 L68.5,104.7 L67.9,111.0 M45.7,4.7 L51.0,6.3 L54.2,8.4 L56.3,11.0 L58.4,14.8 M24.1,35.9 L27.8,38.0 L30.9,40.7 L33.0,43.3 L36.2,45.4 L39.4,47.6 L43.6,49.7 L47.9,51.3 L52.1,52.9 L56.3,53.9 L59.3,56.5 L62.6,57.1 L72.2,58.1 L77.5,60.2 L83.8,60.2 L88.0,63.4 L92.3,66.6 L98.6,70.8 L103.9,74.0 L109.2,77.2 L111.3,78.2 M1.3,37.0 L3.4,40.1 L5.5,43.3 L7.6,46.5 L9.8,49.7 L12.9,51.3 L17.2,52.9 L21.4,53.4 L24.6,55.0 L26.7,59.2 L33.0,62.3 L38.3,65.5 L43.6,67.6 L47.9,69.8 L52.1,69.8 L56.3,68.7 M1.3,63.6 L4.5,60.7 L8.7,58.1 L14.0,57.1 L20.3,57.6 L26.7,59.2 M56.3,3.0 L59.5,5.2 L66.9,6.3 L74.3,7.3 L79.6,9.5 L83.8,11.6 L85.9,14.8 M93.9,2.6 L91.2,9.5 L89.1,16.9 L87.5,22.2 L88.0,27.5 L89.1,31.7 L87.0,35.9 L83.8,41.2 L80.6,46.5 L77.5,51.8 L75.3,56.0 L73.3,60.0 M56.3,14.8 L58.4,16.9 L59.5,22.2 L60.0,30.6 L58.9,38.0 L57.9,45.4 L56.8,51.8 M88.3,30.5 L91.2,29.6 L98.6,29.0 L103.9,29.6 L111.3,30.1 M73.3,60.7 L81.3,58.5 L89.3,56.5 L96.5,55.0 L103.9,53.4 L111.3,51.8 M47.3,69.8 L46.8,71.9 L45.7,77.2 L43.6,82.5 L42.6,87.7 L41.5,93.0 L39.4,98.3 L37.3,102.6 L34.1,106.8 L32.0,111.0 M41.5,96.2 L44.7,103.6 L45.7,111.0 M1.3,89.9 L7.6,90.9 L10.8,92.0 M3.4,89.9 L6.6,93.0 L4.5,98.3 L5.5,103.6 L9.8,106.8 L14.0,111.0 M1.3,22.5 L3.8,26.0 L2.8,31.0 L1.8,37.0 M82.8,111.0 L84.9,105.7 L87.0,103.6 L92.3,100.4 L98.6,96.2 L103.9,93.0 L109.2,89.9 L111.3,88.8 M74.3,100.4 L73.2,105.7 L72.2,111.0 M103.3,1.5 L105.3,6.0 L107.3,9.0 L111.3,11.0" fill="none" stroke="#48e048" stroke-width="0.85" stroke-opacity="0.45" stroke-linejoin="round" filter="url(#gt)"/><path d="M24.3,2.6 L20.1,3.7 L15.9,6.3 L12.7,10.0 L10.0,14.3 L7.9,18.0 L5.8,20.6 L3.2,21.7 L0.0,21.5 M24.3,3.2 L28.6,4.8 L31.2,8.5 L31.7,12.7 L30.7,18.0 L29.1,22.2 L27.0,26.4 L24.9,30.7 L23.3,33.9 M37.6,1.6 L39.1,5.3 L40.2,10.6 L41.8,15.9 L44.4,19.6 L46.6,21.2 L47.6,25.4 L49.2,29.6 L50.8,32.8 L52.9,36.0 L55.0,39.1 L56.5,45.0 L57.5,52.0 L58.2,61.3 L62.4,68.8 L65.6,76.2 L66.6,82.5 L67.2,88.9 L67.7,97.3 L67.2,103.7 L66.6,110.0 M44.4,3.7 L49.7,5.3 L52.9,7.4 L55.0,10.0 L57.1,13.8 M22.8,34.9 L26.5,37.0 L29.6,39.7 L31.7,42.3 L34.9,44.4 L38.1,46.6 L42.3,48.7 L46.6,50.3 L50.8,51.9 L55.0,52.9 L58.0,55.5 L61.3,56.1 L70.9,57.1 L76.2,59.2 L82.5,59.2 L86.7,62.4 L91.0,65.6 L97.3,69.8 L102.6,73.0 L107.9,76.2 L110.0,77.2 M0.0,36.0 L2.1,39.1 L4.2,42.3 L6.3,45.5 L8.5,48.7 L11.6,50.3 L15.9,51.9 L20.1,52.4 L23.3,54.0 L25.4,58.2 L31.7,61.3 L37.0,64.5 L42.3,66.6 L46.6,68.8 L50.8,68.8 L55.0,67.7 M0.0,62.6 L3.2,59.7 L7.4,57.1 L12.7,56.1 L19.0,56.6 L25.4,58.2 M55.0,2.0 L58.2,4.2 L65.6,5.3 L73.0,6.3 L78.3,8.5 L82.5,10.6 L84.6,13.8 M92.6,1.6 L89.9,8.5 L87.8,15.9 L86.2,21.2 L86.7,26.5 L87.8,30.7 L85.7,34.9 L82.5,40.2 L79.3,45.5 L76.2,50.8 L74.0,55.0 L72.0,59.0 M55.0,13.8 L57.1,15.9 L58.2,21.2 L58.7,29.6 L57.6,37.0 L56.6,44.4 L55.5,50.8 M87.0,29.5 L89.9,28.6 L97.3,28.0 L102.6,28.6 L110.0,29.1 M72.0,59.7 L80.0,57.5 L88.0,55.5 L95.2,54.0 L102.6,52.4 L110.0,50.8 M46.0,68.8 L45.5,70.9 L44.4,76.2 L42.3,81.5 L41.3,86.7 L40.2,92.0 L38.1,97.3 L36.0,101.6 L32.8,105.8 L30.7,110.0 M40.2,95.2 L43.4,102.6 L44.4,110.0 M0.0,88.9 L6.3,89.9 L9.5,91.0 M2.1,88.9 L5.3,92.0 L3.2,97.3 L4.2,102.6 L8.5,105.8 L12.7,110.0 M0.0,21.5 L2.5,25.0 L1.5,30.0 L0.5,36.0 M81.5,110.0 L83.6,104.7 L85.7,102.6 L91.0,99.4 L97.3,95.2 L102.6,92.0 L107.9,88.9 L110.0,87.8 M73.0,99.4 L71.9,104.7 L70.9,110.0 M102.0,0.5 L104.0,5.0 L106.0,8.0 L110.0,10.0" fill="none" stroke="#48e048" stroke-width="1.52" stroke-linejoin="round" filter="url(#gt)"/><path d="M24.3,2.6 L20.1,3.7 L15.9,6.3 L12.7,10.0 L10.0,14.3 L7.9,18.0 L5.8,20.6 L3.2,21.7 L0.0,21.5 M24.3,3.2 L28.6,4.8 L31.2,8.5 L31.7,12.7 L30.7,18.0 L29.1,22.2 L27.0,26.4 L24.9,30.7 L23.3,33.9 M37.6,1.6 L39.1,5.3 L40.2,10.6 L41.8,15.9 L44.4,19.6 L46.6,21.2 L47.6,25.4 L49.2,29.6 L50.8,32.8 L52.9,36.0 L55.0,39.1 L56.5,45.0 L57.5,52.0 L58.2,61.3 L62.4,68.8 L65.6,76.2 L66.6,82.5 L67.2,88.9 L67.7,97.3 L67.2,103.7 L66.6,110.0 M44.4,3.7 L49.7,5.3 L52.9,7.4 L55.0,10.0 L57.1,13.8 M22.8,34.9 L26.5,37.0 L29.6,39.7 L31.7,42.3 L34.9,44.4 L38.1,46.6 L42.3,48.7 L46.6,50.3 L50.8,51.9 L55.0,52.9 L58.0,55.5 L61.3,56.1 L70.9,57.1 L76.2,59.2 L82.5,59.2 L86.7,62.4 L91.0,65.6 L97.3,69.8 L102.6,73.0 L107.9,76.2 L110.0,77.2 M0.0,36.0 L2.1,39.1 L4.2,42.3 L6.3,45.5 L8.5,48.7 L11.6,50.3 L15.9,51.9 L20.1,52.4 L23.3,54.0 L25.4,58.2 L31.7,61.3 L37.0,64.5 L42.3,66.6 L46.6,68.8 L50.8,68.8 L55.0,67.7 M0.0,62.6 L3.2,59.7 L7.4,57.1 L12.7,56.1 L19.0,56.6 L25.4,58.2 M55.0,2.0 L58.2,4.2 L65.6,5.3 L73.0,6.3 L78.3,8.5 L82.5,10.6 L84.6,13.8 M92.6,1.6 L89.9,8.5 L87.8,15.9 L86.2,21.2 L86.7,26.5 L87.8,30.7 L85.7,34.9 L82.5,40.2 L79.3,45.5 L76.2,50.8 L74.0,55.0 L72.0,59.0 M55.0,13.8 L57.1,15.9 L58.2,21.2 L58.7,29.6 L57.6,37.0 L56.6,44.4 L55.5,50.8 M87.0,29.5 L89.9,28.6 L97.3,28.0 L102.6,28.6 L110.0,29.1 M72.0,59.7 L80.0,57.5 L88.0,55.5 L95.2,54.0 L102.6,52.4 L110.0,50.8 M46.0,68.8 L45.5,70.9 L44.4,76.2 L42.3,81.5 L41.3,86.7 L40.2,92.0 L38.1,97.3 L36.0,101.6 L32.8,105.8 L30.7,110.0 M40.2,95.2 L43.4,102.6 L44.4,110.0 M0.0,88.9 L6.3,89.9 L9.5,91.0 M2.1,88.9 L5.3,92.0 L3.2,97.3 L4.2,102.6 L8.5,105.8 L12.7,110.0 M0.0,21.5 L2.5,25.0 L1.5,30.0 L0.5,36.0 M81.5,110.0 L83.6,104.7 L85.7,102.6 L91.0,99.4 L97.3,95.2 L102.6,92.0 L107.9,88.9 L110.0,87.8 M73.0,99.4 L71.9,104.7 L70.9,110.0 M102.0,0.5 L104.0,5.0 L106.0,8.0 L110.0,10.0" fill="none" stroke="#48e048" stroke-width="0.76" stroke-opacity="0.75" stroke-linejoin="round" filter="url(#jag)"/><ellipse cx="14" cy="46" rx="7" ry="5" fill="#22a022" fill-opacity="0.45" filter="url(#bl)"/><ellipse cx="8" cy="44" rx="4" ry="6" fill="#22a022" fill-opacity="0.45" filter="url(#bl)"/><ellipse cx="20" cy="47" rx="4" ry="3" fill="#22a022" fill-opacity="0.45" filter="url(#bl)"/><ellipse cx="58" cy="58" rx="6" ry="5" fill="#22a022" fill-opacity="0.45" filter="url(#bl)"/><ellipse cx="62" cy="63" rx="4" ry="4" fill="#22a022" fill-opacity="0.45" filter="url(#bl)"/><ellipse cx="84" cy="12" rx="4" ry="5" fill="#22a022" fill-opacity="0.45" filter="url(#bl)"/><ellipse cx="86" cy="20" rx="3" ry="4" fill="#22a022" fill-opacity="0.45" filter="url(#bl)"/><ellipse cx="30" cy="42" rx="3" ry="3" fill="#22a022" fill-opacity="0.45" filter="url(#bl)"/><ellipse cx="95" cy="28" rx="3" ry="2" fill="#22a022" fill-opacity="0.45" filter="url(#bl)"/><ellipse cx="2" cy="40" rx="2" ry="5" fill="#22a022" fill-opacity="0.45" filter="url(#bl)"/><g filter="url(#gt2)"><ellipse cx="14" cy="46" rx="5.6" ry="4.0" fill="#48e048" fill-opacity="0.9"/><ellipse cx="8" cy="44" rx="3.2" ry="4.8" fill="#48e048" fill-opacity="0.9"/><ellipse cx="20" cy="47" rx="3.2" ry="2.4" fill="#48e048" fill-opacity="0.9"/><ellipse cx="58" cy="58" rx="4.8" ry="4.0" fill="#48e048" fill-opacity="0.9"/><ellipse cx="62" cy="63" rx="3.2" ry="3.2" fill="#48e048" fill-opacity="0.9"/><ellipse cx="84" cy="12" rx="3.2" ry="4.0" fill="#48e048" fill-opacity="0.9"/><ellipse cx="86" cy="20" rx="2.4" ry="3.2" fill="#48e048" fill-opacity="0.9"/><ellipse cx="30" cy="42" rx="2.4" ry="2.4" fill="#48e048" fill-opacity="0.9"/><ellipse cx="95" cy="28" rx="2.4" ry="1.6" fill="#48e048" fill-opacity="0.9"/><ellipse cx="2" cy="40" rx="1.6" ry="4.0" fill="#48e048" fill-opacity="0.9"/></g><line x1="86" y1="104.2" x2="102" y2="104.2" stroke="#d8d8d8" stroke-width="0.9"/></svg></g>
<g transform="translate(98,488)"><svg width="110" height="109.5" viewBox="0 0 110 110" preserveAspectRatio="none" overflow="hidden"><rect width="110" height="110" fill="#020602"/><path d="M61.3,19.0 L65.6,25.4 L68.8,31.7 L73.0,37.0 L77.2,42.3 L81.5,46.6 L85.7,49.7 L88.9,52.9 M30.7,57.1 L34.9,63.5 L40.2,67.7 L43.4,74.0 L45.5,80.4 L47.6,85.7 L51.9,87.8 M79.3,61.3 L74.0,66.6 L69.8,73.0 L66.6,79.3 L63.5,84.6 L61.3,88.9 M0.0,10.6 L15.9,10.6 L29.6,10.6" fill="none" stroke="#3cc83c" stroke-width="5" stroke-opacity="0.5" stroke-linecap="round" stroke-linejoin="round" filter="url(#gt2)"/><path d="M6.3,4.8 L14.0,4.5 L21.2,4.8 M0.0,10.6 L2.1,10.6 L8.5,10.0 L15.9,10.6 L23.3,11.1 L29.6,10.6 L33.9,9.5 M33.9,9.5 L34.9,4.2 L36.0,1.0 L44.4,0.5 L55.0,0.8 L63.5,3.2 L70.9,1.6 L76.2,1.1 L82.5,2.1 L88.9,3.2 L97.3,2.1 L110.0,1.1 M33.9,9.5 L36.0,14.8 L38.1,19.0 L40.2,22.2 L42.3,26.5 L41.3,30.7 L38.1,32.8 L33.9,34.9 L31.7,38.1 L29.6,42.3 L26.5,46.6 L23.3,48.7 L19.0,48.7 M0.0,39.1 L4.2,42.3 L10.6,44.4 L16.9,45.5 L21.2,46.6 L25.4,47.6 L29.6,49.7 M40.2,22.2 L45.5,24.3 L50.8,25.4 L55.0,23.0 L58.2,20.1 L61.3,19.0 L68.8,15.9 L73.0,11.6 L76.2,6.3 L80.4,1.1 M42.3,26.5 L47.6,29.6 L55.0,31.7 M15.9,45.5 L18.0,50.8 L19.0,55.0 L16.9,55.0 L14.8,61.3 L15.9,67.7 L14.8,73.0 M61.3,19.0 L65.6,25.4 L68.8,31.7 L73.0,37.0 L77.2,42.3 L81.5,46.6 L85.7,49.7 L88.9,52.9 M68.8,15.9 L74.0,21.2 L78.3,27.5 L81.5,33.9 L84.6,40.2 L88.9,45.5 L93.1,46.6 M95.2,40.2 L101.6,40.2 L110.0,40.7 M95.2,40.2 L96.3,45.5 L94.2,49.7 L92.0,55.0 L99.4,59.2 L101.6,57.1 M14.8,73.0 L10.6,75.1 L6.3,78.3 L2.1,81.5 L0.0,83.6 M14.8,73.0 L21.2,76.2 L26.5,80.4 L30.7,84.6 L34.9,89.9 L36.0,95.2 L37.0,100.5 L39.2,104.7 L41.3,110.0 M25.5,47.0 L28.0,51.0 L30.7,57.1 L34.9,63.5 L40.2,67.7 L43.4,74.0 L45.5,80.4 L47.6,85.7 L51.9,87.8 L55.0,88.9 L56.1,85.7 L60.3,82.5 L63.5,76.2 L66.6,68.8 L70.9,63.5 L76.2,59.2 L81.5,56.1 M36.0,95.2 L42.3,94.2 L48.7,94.2 L55.0,95.2 L59.2,93.1 M0.0,104.7 L6.3,105.8 L12.7,104.7 L18.0,102.6 L24.3,100.5 L31.7,100.5 L36.0,101.6 M0.0,97.3 L4.2,98.4 L3.2,102.6 M79.3,61.3 L74.0,66.6 L69.8,73.0 L66.6,79.3 L63.5,84.6 L61.3,88.9 L59.2,93.1 L61.3,96.3 L67.7,97.3 L74.0,98.4 L78.3,98.9 L81.5,97.3 L83.6,92.0 L85.7,86.7 L88.9,80.4 L92.0,75.1 L95.2,68.8 L97.3,63.5 L99.4,59.2 L101.6,57.1 M101.6,57.1 L104.7,61.3 L106.8,65.6 L107.9,70.9 L109.0,76.2 L110.0,79.3 M107.9,83.6 L104.7,89.9 L101.6,95.2 L98.4,101.6 L95.2,106.8 L94.2,110.0 M77.2,99.4 L78.3,104.7 L79.3,110.0 M79.3,56.1 L86.7,57.1 L95.2,56.1 L101.6,57.1 M88.9,52.9 L86.0,55.0 L81.5,56.1" fill="none" stroke="#22a022" stroke-width="2.6" stroke-opacity="0.28" stroke-linejoin="round" filter="url(#jb)"/><path d="M7.6,5.8 L15.3,5.5 L22.5,5.8 M1.3,11.6 L3.4,11.6 L9.8,11.0 L17.2,11.6 L24.6,12.1 L30.9,11.6 L35.2,10.5 M35.2,10.5 L36.2,5.2 L37.3,2.0 L45.7,1.5 L56.3,1.8 L64.8,4.2 L72.2,2.6 L77.5,2.1 L83.8,3.1 L90.2,4.2 L98.6,3.1 L111.3,2.1 M35.2,10.5 L37.3,15.8 L39.4,20.0 L41.5,23.2 L43.6,27.5 L42.6,31.7 L39.4,33.8 L35.2,35.9 L33.0,39.1 L30.9,43.3 L27.8,47.6 L24.6,49.7 L20.3,49.7 M1.3,40.1 L5.5,43.3 L11.9,45.4 L18.2,46.5 L22.5,47.6 L26.7,48.6 L30.9,50.7 M41.5,23.2 L46.8,25.3 L52.1,26.4 L56.3,24.0 L59.5,21.1 L62.6,20.0 L70.1,16.9 L74.3,12.6 L77.5,7.3 L81.7,2.1 M43.6,27.5 L48.9,30.6 L56.3,32.7 M17.2,46.5 L19.3,51.8 L20.3,56.0 L18.2,56.0 L16.1,62.3 L17.2,68.7 L16.1,74.0 M62.6,20.0 L66.9,26.4 L70.1,32.7 L74.3,38.0 L78.5,43.3 L82.8,47.6 L87.0,50.7 L90.2,53.9 M70.1,16.9 L75.3,22.2 L79.6,28.5 L82.8,34.9 L85.9,41.2 L90.2,46.5 L94.4,47.6 M96.5,41.2 L102.9,41.2 L111.3,41.7 M96.5,41.2 L97.6,46.5 L95.5,50.7 L93.3,56.0 L100.7,60.2 L102.9,58.1 M16.1,74.0 L11.9,76.1 L7.6,79.3 L3.4,82.5 L1.3,84.6 M16.1,74.0 L22.5,77.2 L27.8,81.4 L32.0,85.6 L36.2,90.9 L37.3,96.2 L38.3,101.5 L40.5,105.7 L42.6,111.0 M26.8,48.0 L29.3,52.0 L32.0,58.1 L36.2,64.5 L41.5,68.7 L44.7,75.0 L46.8,81.4 L48.9,86.7 L53.2,88.8 L56.3,89.9 L57.4,86.7 L61.6,83.5 L64.8,77.2 L67.9,69.8 L72.2,64.5 L77.5,60.2 L82.8,57.1 M37.3,96.2 L43.6,95.2 L50.0,95.2 L56.3,96.2 L60.5,94.1 M1.3,105.7 L7.6,106.8 L14.0,105.7 L19.3,103.6 L25.6,101.5 L33.0,101.5 L37.3,102.6 M1.3,98.3 L5.5,99.4 L4.5,103.6 M80.6,62.3 L75.3,67.6 L71.1,74.0 L67.9,80.3 L64.8,85.6 L62.6,89.9 L60.5,94.1 L62.6,97.3 L69.0,98.3 L75.3,99.4 L79.6,99.9 L82.8,98.3 L84.9,93.0 L87.0,87.7 L90.2,81.4 L93.3,76.1 L96.5,69.8 L98.6,64.5 L100.7,60.2 L102.9,58.1 M102.9,58.1 L106.0,62.3 L108.1,66.6 L109.2,71.9 L110.3,77.2 L111.3,80.3 M109.2,84.6 L106.0,90.9 L102.9,96.2 L99.7,102.6 L96.5,107.8 L95.5,111.0 M78.5,100.4 L79.6,105.7 L80.6,111.0 M80.6,57.1 L88.0,58.1 L96.5,57.1 L102.9,58.1 M90.2,53.9 L87.3,56.0 L82.8,57.1" fill="none" stroke="#40e040" stroke-width="0.72" stroke-opacity="0.45" stroke-linejoin="round" filter="url(#gt)"/><path d="M6.3,4.8 L14.0,4.5 L21.2,4.8 M0.0,10.6 L2.1,10.6 L8.5,10.0 L15.9,10.6 L23.3,11.1 L29.6,10.6 L33.9,9.5 M33.9,9.5 L34.9,4.2 L36.0,1.0 L44.4,0.5 L55.0,0.8 L63.5,3.2 L70.9,1.6 L76.2,1.1 L82.5,2.1 L88.9,3.2 L97.3,2.1 L110.0,1.1 M33.9,9.5 L36.0,14.8 L38.1,19.0 L40.2,22.2 L42.3,26.5 L41.3,30.7 L38.1,32.8 L33.9,34.9 L31.7,38.1 L29.6,42.3 L26.5,46.6 L23.3,48.7 L19.0,48.7 M0.0,39.1 L4.2,42.3 L10.6,44.4 L16.9,45.5 L21.2,46.6 L25.4,47.6 L29.6,49.7 M40.2,22.2 L45.5,24.3 L50.8,25.4 L55.0,23.0 L58.2,20.1 L61.3,19.0 L68.8,15.9 L73.0,11.6 L76.2,6.3 L80.4,1.1 M42.3,26.5 L47.6,29.6 L55.0,31.7 M15.9,45.5 L18.0,50.8 L19.0,55.0 L16.9,55.0 L14.8,61.3 L15.9,67.7 L14.8,73.0 M61.3,19.0 L65.6,25.4 L68.8,31.7 L73.0,37.0 L77.2,42.3 L81.5,46.6 L85.7,49.7 L88.9,52.9 M68.8,15.9 L74.0,21.2 L78.3,27.5 L81.5,33.9 L84.6,40.2 L88.9,45.5 L93.1,46.6 M95.2,40.2 L101.6,40.2 L110.0,40.7 M95.2,40.2 L96.3,45.5 L94.2,49.7 L92.0,55.0 L99.4,59.2 L101.6,57.1 M14.8,73.0 L10.6,75.1 L6.3,78.3 L2.1,81.5 L0.0,83.6 M14.8,73.0 L21.2,76.2 L26.5,80.4 L30.7,84.6 L34.9,89.9 L36.0,95.2 L37.0,100.5 L39.2,104.7 L41.3,110.0 M25.5,47.0 L28.0,51.0 L30.7,57.1 L34.9,63.5 L40.2,67.7 L43.4,74.0 L45.5,80.4 L47.6,85.7 L51.9,87.8 L55.0,88.9 L56.1,85.7 L60.3,82.5 L63.5,76.2 L66.6,68.8 L70.9,63.5 L76.2,59.2 L81.5,56.1 M36.0,95.2 L42.3,94.2 L48.7,94.2 L55.0,95.2 L59.2,93.1 M0.0,104.7 L6.3,105.8 L12.7,104.7 L18.0,102.6 L24.3,100.5 L31.7,100.5 L36.0,101.6 M0.0,97.3 L4.2,98.4 L3.2,102.6 M79.3,61.3 L74.0,66.6 L69.8,73.0 L66.6,79.3 L63.5,84.6 L61.3,88.9 L59.2,93.1 L61.3,96.3 L67.7,97.3 L74.0,98.4 L78.3,98.9 L81.5,97.3 L83.6,92.0 L85.7,86.7 L88.9,80.4 L92.0,75.1 L95.2,68.8 L97.3,63.5 L99.4,59.2 L101.6,57.1 M101.6,57.1 L104.7,61.3 L106.8,65.6 L107.9,70.9 L109.0,76.2 L110.0,79.3 M107.9,83.6 L104.7,89.9 L101.6,95.2 L98.4,101.6 L95.2,106.8 L94.2,110.0 M77.2,99.4 L78.3,104.7 L79.3,110.0 M79.3,56.1 L86.7,57.1 L95.2,56.1 L101.6,57.1 M88.9,52.9 L86.0,55.0 L81.5,56.1" fill="none" stroke="#40e040" stroke-width="1.28" stroke-linejoin="round" filter="url(#gt)"/><path d="M6.3,4.8 L14.0,4.5 L21.2,4.8 M0.0,10.6 L2.1,10.6 L8.5,10.0 L15.9,10.6 L23.3,11.1 L29.6,10.6 L33.9,9.5 M33.9,9.5 L34.9,4.2 L36.0,1.0 L44.4,0.5 L55.0,0.8 L63.5,3.2 L70.9,1.6 L76.2,1.1 L82.5,2.1 L88.9,3.2 L97.3,2.1 L110.0,1.1 M33.9,9.5 L36.0,14.8 L38.1,19.0 L40.2,22.2 L42.3,26.5 L41.3,30.7 L38.1,32.8 L33.9,34.9 L31.7,38.1 L29.6,42.3 L26.5,46.6 L23.3,48.7 L19.0,48.7 M0.0,39.1 L4.2,42.3 L10.6,44.4 L16.9,45.5 L21.2,46.6 L25.4,47.6 L29.6,49.7 M40.2,22.2 L45.5,24.3 L50.8,25.4 L55.0,23.0 L58.2,20.1 L61.3,19.0 L68.8,15.9 L73.0,11.6 L76.2,6.3 L80.4,1.1 M42.3,26.5 L47.6,29.6 L55.0,31.7 M15.9,45.5 L18.0,50.8 L19.0,55.0 L16.9,55.0 L14.8,61.3 L15.9,67.7 L14.8,73.0 M61.3,19.0 L65.6,25.4 L68.8,31.7 L73.0,37.0 L77.2,42.3 L81.5,46.6 L85.7,49.7 L88.9,52.9 M68.8,15.9 L74.0,21.2 L78.3,27.5 L81.5,33.9 L84.6,40.2 L88.9,45.5 L93.1,46.6 M95.2,40.2 L101.6,40.2 L110.0,40.7 M95.2,40.2 L96.3,45.5 L94.2,49.7 L92.0,55.0 L99.4,59.2 L101.6,57.1 M14.8,73.0 L10.6,75.1 L6.3,78.3 L2.1,81.5 L0.0,83.6 M14.8,73.0 L21.2,76.2 L26.5,80.4 L30.7,84.6 L34.9,89.9 L36.0,95.2 L37.0,100.5 L39.2,104.7 L41.3,110.0 M25.5,47.0 L28.0,51.0 L30.7,57.1 L34.9,63.5 L40.2,67.7 L43.4,74.0 L45.5,80.4 L47.6,85.7 L51.9,87.8 L55.0,88.9 L56.1,85.7 L60.3,82.5 L63.5,76.2 L66.6,68.8 L70.9,63.5 L76.2,59.2 L81.5,56.1 M36.0,95.2 L42.3,94.2 L48.7,94.2 L55.0,95.2 L59.2,93.1 M0.0,104.7 L6.3,105.8 L12.7,104.7 L18.0,102.6 L24.3,100.5 L31.7,100.5 L36.0,101.6 M0.0,97.3 L4.2,98.4 L3.2,102.6 M79.3,61.3 L74.0,66.6 L69.8,73.0 L66.6,79.3 L63.5,84.6 L61.3,88.9 L59.2,93.1 L61.3,96.3 L67.7,97.3 L74.0,98.4 L78.3,98.9 L81.5,97.3 L83.6,92.0 L85.7,86.7 L88.9,80.4 L92.0,75.1 L95.2,68.8 L97.3,63.5 L99.4,59.2 L101.6,57.1 M101.6,57.1 L104.7,61.3 L106.8,65.6 L107.9,70.9 L109.0,76.2 L110.0,79.3 M107.9,83.6 L104.7,89.9 L101.6,95.2 L98.4,101.6 L95.2,106.8 L94.2,110.0 M77.2,99.4 L78.3,104.7 L79.3,110.0 M79.3,56.1 L86.7,57.1 L95.2,56.1 L101.6,57.1 M88.9,52.9 L86.0,55.0 L81.5,56.1" fill="none" stroke="#40e040" stroke-width="0.64" stroke-opacity="0.75" stroke-linejoin="round" filter="url(#jag)"/><ellipse cx="25.4" cy="47.6" rx="3" ry="3" fill="#22a022" fill-opacity="0.45" filter="url(#bl)"/><ellipse cx="58.2" cy="20.1" rx="3" ry="3" fill="#22a022" fill-opacity="0.45" filter="url(#bl)"/><ellipse cx="76.2" cy="98.4" rx="4" ry="3" fill="#22a022" fill-opacity="0.45" filter="url(#bl)"/><ellipse cx="15" cy="73" rx="3" ry="3" fill="#22a022" fill-opacity="0.45" filter="url(#bl)"/><ellipse cx="36" cy="95" rx="3" ry="3" fill="#22a022" fill-opacity="0.45" filter="url(#bl)"/><g filter="url(#gt2)"><ellipse cx="25.4" cy="47.6" rx="2.4" ry="2.4" fill="#40e040" fill-opacity="0.9"/><ellipse cx="58.2" cy="20.1" rx="2.4" ry="2.4" fill="#40e040" fill-opacity="0.9"/><ellipse cx="76.2" cy="98.4" rx="3.2" ry="2.4" fill="#40e040" fill-opacity="0.9"/><ellipse cx="15" cy="73" rx="2.4" ry="2.4" fill="#40e040" fill-opacity="0.9"/><ellipse cx="36" cy="95" rx="2.4" ry="2.4" fill="#40e040" fill-opacity="0.9"/></g><line x1="86" y1="104.2" x2="102" y2="104.2" stroke="#d8d8d8" stroke-width="0.9"/></svg></g>
<g transform="translate(212,488)"><svg width="109.5" height="109.5" viewBox="0 0 110 110" preserveAspectRatio="none" overflow="hidden"><rect width="110" height="110" fill="#140202"/><path d="M6.3,4.8 L14.0,4.5 L21.2,4.8 M0.0,10.6 L2.1,10.6 L8.5,10.0 L15.9,10.6 L23.3,11.1 L29.6,10.6 L33.9,9.5 M33.9,9.5 L34.9,4.2 L36.0,1.0 L44.4,0.5 L55.0,0.8 L63.5,3.2 L70.9,1.6 L76.2,1.1 L82.5,2.1 L88.9,3.2 L97.3,2.1 L110.0,1.1 M33.9,9.5 L36.0,14.8 L38.1,19.0 L40.2,22.2 L42.3,26.5 L41.3,30.7 L38.1,32.8 L33.9,34.9 L31.7,38.1 L29.6,42.3 L26.5,46.6 L23.3,48.7 L19.0,48.7 M0.0,39.1 L4.2,42.3 L10.6,44.4 L16.9,45.5 L21.2,46.6 L25.4,47.6 L29.6,49.7 M40.2,22.2 L45.5,24.3 L50.8,25.4 L55.0,23.0 L58.2,20.1 L61.3,19.0 L68.8,15.9 L73.0,11.6 L76.2,6.3 L80.4,1.1 M42.3,26.5 L47.6,29.6 L55.0,31.7 M15.9,45.5 L18.0,50.8 L19.0,55.0 L16.9,55.0 L14.8,61.3 L15.9,67.7 L14.8,73.0 M61.3,19.0 L65.6,25.4 L68.8,31.7 L73.0,37.0 L77.2,42.3 L81.5,46.6 L85.7,49.7 L88.9,52.9 M68.8,15.9 L74.0,21.2 L78.3,27.5 L81.5,33.9 L84.6,40.2 L88.9,45.5 L93.1,46.6 M95.2,40.2 L101.6,40.2 L110.0,40.7 M95.2,40.2 L96.3,45.5 L94.2,49.7 L92.0,55.0 L99.4,59.2 L101.6,57.1 M14.8,73.0 L10.6,75.1 L6.3,78.3 L2.1,81.5 L0.0,83.6 M14.8,73.0 L21.2,76.2 L26.5,80.4 L30.7,84.6 L34.9,89.9 L36.0,95.2 L37.0,100.5 L39.2,104.7 L41.3,110.0 M25.5,47.0 L28.0,51.0 L30.7,57.1 L34.9,63.5 L40.2,67.7 L43.4,74.0 L45.5,80.4 L47.6,85.7 L51.9,87.8 L55.0,88.9 L56.1,85.7 L60.3,82.5 L63.5,76.2 L66.6,68.8 L70.9,63.5 L76.2,59.2 L81.5,56.1 M36.0,95.2 L42.3,94.2 L48.7,94.2 L55.0,95.2 L59.2,93.1 M0.0,104.7 L6.3,105.8 L12.7,104.7 L18.0,102.6 L24.3,100.5 L31.7,100.5 L36.0,101.6 M0.0,97.3 L4.2,98.4 L3.2,102.6 M79.3,61.3 L74.0,66.6 L69.8,73.0 L66.6,79.3 L63.5,84.6 L61.3,88.9 L59.2,93.1 L61.3,96.3 L67.7,97.3 L74.0,98.4 L78.3,98.9 L81.5,97.3 L83.6,92.0 L85.7,86.7 L88.9,80.4 L92.0,75.1 L95.2,68.8 L97.3,63.5 L99.4,59.2 L101.6,57.1 M101.6,57.1 L104.7,61.3 L106.8,65.6 L107.9,70.9 L109.0,76.2 L110.0,79.3 M107.9,83.6 L104.7,89.9 L101.6,95.2 L98.4,101.6 L95.2,106.8 L94.2,110.0 M77.2,99.4 L78.3,104.7 L79.3,110.0 M79.3,56.1 L86.7,57.1 L95.2,56.1 L101.6,57.1 M88.9,52.9 L86.0,55.0 L81.5,56.1" fill="none" stroke="#8a0c0c" stroke-width="12" stroke-opacity="0.55" stroke-linejoin="round" filter="url(#hz)"/><path d="M73.4,14.6 Q66.2,15.3 63.5,21.9 M9.6,105.9 Q5.3,114.1 -4.0,113.1 M19.4,53.5 Q23.7,64.5 26.6,75.8 M107.3,42.5 Q112.6,38.7 115.5,44.5 M15.1,5.9 Q9.8,4.5 4.6,2.4 M15.6,50.4 Q21.9,62.2 32.8,69.7 M66.4,72.2 Q59.6,75.7 61.3,83.1 M36.2,91.7 Q27.1,79.7 28.9,64.7 M42.1,1.0 Q35.9,-6.0 26.7,-8.0 M18.1,64.7 Q20.5,70.3 19.3,76.3 M107.8,44.0 Q100.9,44.1 98.3,37.8 M38.2,95.7 Q41.7,106.8 52.5,111.3 M43.8,26.9 Q36.3,28.3 31.7,22.2 M81.8,-1.6 Q69.5,-4.8 60.0,-13.2 M68.7,20.4 Q64.2,12.1 55.1,14.6 M85.8,55.2 Q72.2,59.1 65.3,71.6 M91.9,48.0 Q95.4,38.5 102.8,31.6 M2.4,98.6 Q2.4,92.6 7.4,89.3 M100.7,43.9 Q93.1,38.2 84.6,42.2 M5.7,39.8 Q-3.4,36.9 -11.0,42.6 M103.2,97.0 Q104.1,87.3 111.9,81.4 M69.7,15.1 Q79.9,12.8 87.3,5.4 M0.8,13.4 Q-9.3,12.2 -16.7,5.2 M96.7,59.6 Q91.1,64.6 83.6,65.0 M27.9,101.3 Q32.7,99.6 37.1,102.1 M14.6,105.0 Q19.9,101.6 26.1,102.3 M47.8,30.9 Q37.1,23.9 25.1,19.5 M24.7,51.3 Q16.9,44.2 19.0,33.9 M11.4,3.8 Q3.6,10.1 -5.1,14.8 M19.2,58.5 Q15.4,71.5 11.0,84.5 M52.9,97.0 Q60.0,104.6 69.5,109.0 M104.5,67.4 Q112.8,59.3 110.4,48.0 M8.7,5.1 Q4.8,11.4 -1.8,8.0 M85.8,47.5 Q86.2,41.9 82.0,38.1 M51.4,26.8 Q47.0,24.8 42.4,23.2 M28.8,46.2 Q40.0,46.6 50.8,49.5 M0.4,81.8 Q-5.8,91.7 -17.3,93.6 M45.9,24.7 Q51.2,30.2 57.8,34.4 M2.9,85.3 Q5.2,75.8 11.5,68.5 M65.5,78.0 Q61.4,89.3 58.1,100.7 M9.7,12.5 Q16.1,16.4 22.2,12.1 M23.8,51.7 Q13.9,44.1 2.2,39.9 M1.2,41.8 Q6.8,49.1 15.0,53.1 M11.1,47.0 Q15.4,48.7 19.3,46.3 M74.5,4.1 Q67.4,6.8 61.3,11.3 M85.5,48.1 Q78.5,47.6 74.5,41.9 M47.3,26.8 Q34.0,24.9 26.5,13.8 M100.5,58.0 Q93.7,67.7 82.3,70.7 M25.0,52.3 Q21.4,41.1 17.1,30.2 M45.7,29.0 Q38.7,38.9 29.2,46.3 M104.1,69.5 Q103.1,75.1 102.9,80.7 M30.0,87.1 Q29.2,77.1 19.7,73.6 M48.7,-0.5 Q58.6,-8.9 71.5,-9.0 M20.8,6.7 Q32.7,7.4 42.2,14.5 M3.9,102.3 Q7.1,96.5 7.1,89.9 M46.5,94.1 Q39.8,99.1 31.6,98.7 M5.5,99.6 Q6.5,90.2 14.8,85.6 M17.7,52.5 Q14.8,42.3 10.2,32.6 M45.2,83.5 Q50.1,95.5 43.7,106.7 M17.9,47.6 Q26.7,43.1 34.8,48.8 M88.2,47.9 Q89.1,57.7 97.8,62.1 M110.6,69.7 Q106.8,59.3 97.0,54.1 M64.3,23.4 Q61.5,17.4 55.2,15.2 M47.2,26.5 Q55.8,24.9 61.7,31.5 M13.6,11.7 Q0.9,17.7 -12.1,12.2 M87.8,55.0 Q76.3,62.4 66.8,72.4 M99.6,95.3 Q104.1,85.8 106.7,75.6 M47.4,86.4 Q42.9,81.9 37.3,79.1 M66.8,1.1 Q70.8,-5.9 78.7,-7.3 M17.4,8.5 Q27.5,-0.2 40.9,-0.1 M3.2,95.7 Q-6.4,103.6 -18.4,100.0 M16.1,53.9 Q9.9,46.4 3.3,39.2 M74.6,102.1 Q71.9,112.7 67.2,122.6 M88.9,73.1 Q93.5,65.4 95.0,56.6 M87.9,50.5 Q94.0,53.7 100.0,57.1 M76.9,41.8 Q71.4,32.8 61.3,29.8 M26.2,47.5 Q15.2,48.2 5.6,42.6 M94.3,59.8 Q100.3,62.8 106.6,60.4 M20.8,7.1 Q9.3,4.7 -2.2,2.5 M40.5,24.7 Q44.8,28.8 48.8,24.5 M50.4,87.9 Q46.3,81.2 38.4,81.5 M90.4,53.8 Q103.0,51.9 114.1,45.9 M100.1,55.3 Q89.4,58.5 79.1,63.0 M71.7,18.5 Q78.4,17.0 81.0,10.6 M17.7,50.1 Q14.0,63.6 15.1,77.6 M12.2,103.1 Q1.5,107.4 -9.1,102.8 M13.3,71.4 Q12.7,61.3 21.7,56.5 M99.7,95.2 Q102.7,87.2 107.5,80.1 M12.3,70.9 Q17.7,60.3 24.0,50.1 M108.8,39.4 Q95.8,42.9 83.9,49.3 M61.1,4.9 Q65.8,6.7 69.9,3.8 M0.6,102.6 Q-7.7,110.9 -19.4,110.9 M99.1,39.5 Q89.2,45.5 77.9,47.5 M85.1,59.0 Q98.6,58.1 111.5,62.0 M17.3,54.1 Q28.6,62.9 43.0,62.7 M74.4,60.1 Q64.2,67.2 52.3,63.7 M3.8,83.6 Q15.4,77.5 26.4,70.4 M29.4,47.4 Q36.0,44.2 40.5,38.5 M105.8,89.4 Q98.6,86.8 97.3,94.3 M-1.6,79.9 Q-4.5,90.1 -11.6,98.1 M10.3,43.4 Q19.2,51.6 30.8,54.7 M100.3,57.9 Q112.6,54.2 125.1,51.1 M10.3,103.6 Q21.2,102.8 31.5,99.3 M84.0,57.4 Q70.9,54.5 57.5,55.7 M0.6,96.8 Q-9.2,90.7 -19.4,85.3 M18.1,62.4 Q17.8,73.0 12.7,82.3 M54.9,0.8 Q42.7,1.7 33.1,9.2 M103.4,93.7 Q93.8,101.7 86.1,111.7 M71.8,17.3 Q79.8,14.6 85.8,8.8 M82.3,51.1 Q72.9,45.0 72.7,33.8 M92.1,51.1 Q98.3,47.8 93.9,42.2 M17.5,51.4 Q20.0,57.0 18.0,62.8 M35.3,102.9 Q32.5,97.6 26.9,99.5 M64.2,91.2 Q65.1,100.7 58.5,107.5 M70.6,12.3 Q60.1,21.2 52.8,32.9 M41.6,28.9 Q33.7,17.5 29.4,4.5 M0.0,80.6 Q-6.1,77.8 -8.3,84.2 M68.7,97.1 Q56.3,95.8 44.3,92.4 M80.8,57.8 Q88.5,51.9 97.0,56.7 M85.4,57.3 Q74.5,57.6 68.8,66.9 M84.9,57.8 Q73.7,64.8 61.2,68.7 M83.6,30.3 Q97.8,33.5 107.3,44.5 M56.4,94.7 Q48.8,100.2 40.7,95.5 M7.6,43.7 Q4.8,32.3 -6.2,28.5 M21.9,103.9 Q27.4,103.6 32.6,105.6 M87.9,53.1 Q76.5,48.5 64.2,47.3 M45.6,24.8 Q51.6,26.1 56.6,29.6 M96.9,4.2 Q99.7,9.6 105.1,7.0 M56.0,92.7 Q57.4,80.0 68.5,73.6 M3.1,43.5 Q6.8,50.1 13.9,52.9 M95.9,0.8 Q103.2,-1.2 108.7,4.1 M8.2,10.1 Q21.2,10.9 31.0,19.3 M108.2,77.2 Q98.6,75.8 95.3,66.7 M16.1,107.4 Q21.6,108.2 24.7,103.7 M98.6,41.9 Q86.5,42.6 75.1,46.5 M12.6,77.9 Q11.7,91.8 3.5,103.0 M6.3,11.3 Q-7.2,13.6 -20.0,8.8 M94.6,55.8 Q94.8,46.5 86.0,43.6 M77.0,31.2 Q82.6,33.8 85.5,39.2 M3.5,98.9 Q13.9,97.5 24.2,98.4" fill="none" stroke="#c81a1a" stroke-width="0.6" stroke-opacity="0.5" filter="url(#rb2)"/><path d="M50.6,0.9 Q61.2,5.1 70.8,-1.1 M75.6,27.9 Q83.4,39.3 93.1,49.0 M1.5,41.2 Q8.1,46.6 6.7,55.0 M72.0,12.5 Q66.1,18.5 63.3,26.5 M37.6,32.1 Q45.4,33.4 53.1,32.0 M4.6,94.8 Q13.7,96.3 17.9,104.5 M79.3,56.7 Q71.7,51.7 62.7,49.9 M8.2,7.7 Q12.2,11.1 16.6,8.2 M-1.3,81.5 Q-9.8,86.8 -19.7,88.2 M108.6,68.9 Q115.1,58.7 116.6,46.7 M63.5,93.5 Q56.1,83.6 44.0,81.0 M1.4,9.1 Q9.4,5.8 16.8,10.3 M64.0,28.7 Q57.1,25.2 59.7,17.9 M83.7,53.7 Q90.9,52.1 98.2,53.8 M48.7,27.0 Q37.8,29.6 27.2,33.6 M65.8,98.3 Q68.9,101.1 72.8,102.3 M49.5,91.8 Q58.6,89.8 67.7,88.2 M71.6,16.8 Q67.0,21.6 61.5,25.4 M100.6,58.7 Q106.4,66.7 116.1,65.1 M100.8,59.6 Q93.0,56.9 88.4,63.7 M73.9,-0.6 Q62.6,-2.5 51.2,-3.2 M70.7,1.9 Q79.7,5.9 86.8,-1.0 M18.0,7.8 Q24.0,10.7 29.4,6.8 M41.2,104.1 Q35.4,91.2 37.1,77.1 M83.5,50.2 Q93.0,60.0 106.3,63.1 M62.4,20.1 Q54.8,22.4 52.4,14.9 M57.1,98.3 Q45.3,102.7 33.6,107.4 M108.8,90.5 Q111.4,96.5 105.9,100.0 M22.1,10.4 Q14.6,12.6 9.5,6.7 M13.4,101.6 Q16.3,90.1 26.0,83.1 M18.8,5.1 Q25.7,3.8 32.4,6.0 M44.3,95.5 Q37.1,97.8 35.0,90.6 M93.1,109.4 Q85.7,121.7 72.1,126.0 M36.1,0.7 Q45.6,9.9 58.8,11.5 M55.1,81.7 Q65.4,80.1 75.5,78.1 M43.0,28.2 Q39.2,21.0 32.2,17.0 M13.4,8.4 Q20.9,13.6 28.3,8.3 M25.9,50.1 Q30.7,46.8 35.7,49.6 M57.9,97.2 Q63.8,95.6 62.1,89.6 M0.5,99.9 Q-3.2,105.4 -9.6,103.5 M28.5,9.6 Q19.5,10.9 15.4,2.8 M11.2,79.3 Q4.0,83.6 -0.8,90.6 M47.3,30.8 Q43.9,24.9 37.5,22.4 M12.2,58.2 Q10.9,46.5 7.9,35.2 M103.4,43.2 Q112.3,41.3 116.6,49.3 M23.2,48.2 Q28.7,44.5 31.2,50.6 M5.2,45.6 Q0.6,34.5 -10.1,29.0 M65.4,74.7 Q71.2,66.7 71.5,56.8 M82.4,3.4 Q76.5,4.3 75.1,-1.5 M2.0,108.5 Q-11.2,107.0 -21.0,116.0 M47.0,33.1 Q59.8,33.2 72.0,37.2 M42.5,22.0 Q35.6,16.3 30.9,8.7 M94.2,55.8 Q83.2,58.8 76.9,68.4 M84.0,84.6 Q91.8,81.7 96.4,74.8 M38.8,19.2 Q36.9,8.1 35.8,-3.0 M100.6,61.6 Q102.0,57.0 100.8,52.3 M101.3,42.7 Q87.4,44.4 76.1,36.3 M18.0,45.0 Q13.7,39.8 9.0,44.6 M44.3,93.5 Q50.9,89.9 52.8,97.2 M101.1,43.9 Q90.4,46.8 80.2,42.7 M76.5,98.9 Q82.8,96.7 87.8,101.2 M16.9,55.5 Q9.4,53.1 2.8,57.4 M62.5,79.7 Q72.4,69.8 83.0,60.7 M91.6,46.4 Q100.8,45.7 107.6,51.8 M42.2,-0.1 Q33.2,3.0 23.8,3.5 M86.2,47.4 Q77.2,43.2 72.9,34.3 M110.1,78.8 Q106.0,72.2 100.0,67.3 M71.5,7.8 Q64.8,18.8 52.9,23.7 M19.3,45.0 Q31.7,44.6 40.5,35.8 M46.3,28.9 Q38.9,20.0 29.6,12.9" fill="none" stroke="#c81a1a" stroke-width="1.2" stroke-opacity="0.30" filter="url(#rb)"/><ellipse cx="52" cy="20" rx="6.0" ry="3.0" fill="#d41c1c" fill-opacity="0.4" filter="url(#nb)"/><ellipse cx="10" cy="60" rx="3.0" ry="6.0" fill="#d41c1c" fill-opacity="0.4" filter="url(#nb)"/><ellipse cx="50" cy="80" rx="4.5" ry="3.0" fill="#d41c1c" fill-opacity="0.4" filter="url(#nb)"/><ellipse cx="85" cy="30" rx="6.0" ry="3.0" fill="#d41c1c" fill-opacity="0.4" filter="url(#nb)"/><ellipse cx="30" cy="20" rx="4.5" ry="3.0" fill="#d41c1c" fill-opacity="0.4" filter="url(#nb)"/><path d="M6.3,4.8 L14.0,4.5 L21.2,4.8 M0.0,10.6 L2.1,10.6 L8.5,10.0 L15.9,10.6 L23.3,11.1 L29.6,10.6 L33.9,9.5 M33.9,9.5 L34.9,4.2 L36.0,1.0 L44.4,0.5 L55.0,0.8 L63.5,3.2 L70.9,1.6 L76.2,1.1 L82.5,2.1 L88.9,3.2 L97.3,2.1 L110.0,1.1 M33.9,9.5 L36.0,14.8 L38.1,19.0 L40.2,22.2 L42.3,26.5 L41.3,30.7 L38.1,32.8 L33.9,34.9 L31.7,38.1 L29.6,42.3 L26.5,46.6 L23.3,48.7 L19.0,48.7 M0.0,39.1 L4.2,42.3 L10.6,44.4 L16.9,45.5 L21.2,46.6 L25.4,47.6 L29.6,49.7 M40.2,22.2 L45.5,24.3 L50.8,25.4 L55.0,23.0 L58.2,20.1 L61.3,19.0 L68.8,15.9 L73.0,11.6 L76.2,6.3 L80.4,1.1 M42.3,26.5 L47.6,29.6 L55.0,31.7 M15.9,45.5 L18.0,50.8 L19.0,55.0 L16.9,55.0 L14.8,61.3 L15.9,67.7 L14.8,73.0 M61.3,19.0 L65.6,25.4 L68.8,31.7 L73.0,37.0 L77.2,42.3 L81.5,46.6 L85.7,49.7 L88.9,52.9 M68.8,15.9 L74.0,21.2 L78.3,27.5 L81.5,33.9 L84.6,40.2 L88.9,45.5 L93.1,46.6 M95.2,40.2 L101.6,40.2 L110.0,40.7 M95.2,40.2 L96.3,45.5 L94.2,49.7 L92.0,55.0 L99.4,59.2 L101.6,57.1 M14.8,73.0 L10.6,75.1 L6.3,78.3 L2.1,81.5 L0.0,83.6 M14.8,73.0 L21.2,76.2 L26.5,80.4 L30.7,84.6 L34.9,89.9 L36.0,95.2 L37.0,100.5 L39.2,104.7 L41.3,110.0 M25.5,47.0 L28.0,51.0 L30.7,57.1 L34.9,63.5 L40.2,67.7 L43.4,74.0 L45.5,80.4 L47.6,85.7 L51.9,87.8 L55.0,88.9 L56.1,85.7 L60.3,82.5 L63.5,76.2 L66.6,68.8 L70.9,63.5 L76.2,59.2 L81.5,56.1 M36.0,95.2 L42.3,94.2 L48.7,94.2 L55.0,95.2 L59.2,93.1 M0.0,104.7 L6.3,105.8 L12.7,104.7 L18.0,102.6 L24.3,100.5 L31.7,100.5 L36.0,101.6 M0.0,97.3 L4.2,98.4 L3.2,102.6 M79.3,61.3 L74.0,66.6 L69.8,73.0 L66.6,79.3 L63.5,84.6 L61.3,88.9 L59.2,93.1 L61.3,96.3 L67.7,97.3 L74.0,98.4 L78.3,98.9 L81.5,97.3 L83.6,92.0 L85.7,86.7 L88.9,80.4 L92.0,75.1 L95.2,68.8 L97.3,63.5 L99.4,59.2 L101.6,57.1 M101.6,57.1 L104.7,61.3 L106.8,65.6 L107.9,70.9 L109.0,76.2 L110.0,79.3 M107.9,83.6 L104.7,89.9 L101.6,95.2 L98.4,101.6 L95.2,106.8 L94.2,110.0 M77.2,99.4 L78.3,104.7 L79.3,110.0 M79.3,56.1 L86.7,57.1 L95.2,56.1 L101.6,57.1 M88.9,52.9 L86.0,55.0 L81.5,56.1" fill="none" stroke="#d41c1c" stroke-width="2.4" stroke-opacity="0.7" stroke-linejoin="round" filter="url(#rjag2)"/><ellipse cx="17" cy="27" rx="9.8" ry="8.8" fill="#040000" fill-opacity="0.8" filter="url(#nb)"/><ellipse cx="53" cy="8" rx="8.8" ry="4.9" fill="#040000" fill-opacity="0.8" filter="url(#nb)"/><ellipse cx="95" cy="22" rx="8.8" ry="8.8" fill="#040000" fill-opacity="0.8" filter="url(#nb)"/><ellipse cx="53" cy="55" rx="11.7" ry="13.7" fill="#040000" fill-opacity="0.8" filter="url(#nb)"/><ellipse cx="89" cy="70" rx="7.8" ry="8.8" fill="#040000" fill-opacity="0.8" filter="url(#nb)"/><ellipse cx="13" cy="89" rx="8.8" ry="9.8" fill="#040000" fill-opacity="0.8" filter="url(#nb)"/><ellipse cx="60" cy="103" rx="9.8" ry="4.9" fill="#040000" fill-opacity="0.8" filter="url(#nb)"/><ellipse cx="100" cy="85" rx="5.9" ry="8.8" fill="#040000" fill-opacity="0.8" filter="url(#nb)"/><ellipse cx="40" cy="75" rx="5.9" ry="7.8" fill="#040000" fill-opacity="0.8" filter="url(#nb)"/><line x1="86" y1="104.2" x2="102" y2="104.2" stroke="#d8d8d8" stroke-width="0.9"/></svg></g>
<g transform="translate(325,488)"><svg width="110" height="109.5" viewBox="0 0 110 110" preserveAspectRatio="none" overflow="hidden"><rect width="110" height="110" fill="#0a0820"/><ellipse cx="17" cy="27" rx="9.6" ry="8.6" fill="#0e0c44" fill-opacity="0.8" filter="url(#nb)"/><ellipse cx="53" cy="8" rx="8.6" ry="4.8" fill="#0e0c44" fill-opacity="0.8" filter="url(#nb)"/><ellipse cx="95" cy="22" rx="8.6" ry="8.6" fill="#0e0c44" fill-opacity="0.8" filter="url(#nb)"/><ellipse cx="53" cy="55" rx="11.5" ry="13.4" fill="#0e0c44" fill-opacity="0.8" filter="url(#nb)"/><ellipse cx="89" cy="70" rx="7.7" ry="8.6" fill="#0e0c44" fill-opacity="0.8" filter="url(#nb)"/><ellipse cx="13" cy="89" rx="8.6" ry="9.6" fill="#0e0c44" fill-opacity="0.8" filter="url(#nb)"/><ellipse cx="60" cy="103" rx="9.6" ry="4.8" fill="#0e0c44" fill-opacity="0.8" filter="url(#nb)"/><ellipse cx="100" cy="85" rx="5.8" ry="8.6" fill="#0e0c44" fill-opacity="0.8" filter="url(#nb)"/><ellipse cx="40" cy="75" rx="5.8" ry="7.7" fill="#0e0c44" fill-opacity="0.8" filter="url(#nb)"/><path d="M6.3,4.8 L14.0,4.5 L21.2,4.8 M0.0,10.6 L2.1,10.6 L8.5,10.0 L15.9,10.6 L23.3,11.1 L29.6,10.6 L33.9,9.5 M33.9,9.5 L34.9,4.2 L36.0,1.0 L44.4,0.5 L55.0,0.8 L63.5,3.2 L70.9,1.6 L76.2,1.1 L82.5,2.1 L88.9,3.2 L97.3,2.1 L110.0,1.1 M33.9,9.5 L36.0,14.8 L38.1,19.0 L40.2,22.2 L42.3,26.5 L41.3,30.7 L38.1,32.8 L33.9,34.9 L31.7,38.1 L29.6,42.3 L26.5,46.6 L23.3,48.7 L19.0,48.7 M0.0,39.1 L4.2,42.3 L10.6,44.4 L16.9,45.5 L21.2,46.6 L25.4,47.6 L29.6,49.7 M40.2,22.2 L45.5,24.3 L50.8,25.4 L55.0,23.0 L58.2,20.1 L61.3,19.0 L68.8,15.9 L73.0,11.6 L76.2,6.3 L80.4,1.1 M42.3,26.5 L47.6,29.6 L55.0,31.7 M15.9,45.5 L18.0,50.8 L19.0,55.0 L16.9,55.0 L14.8,61.3 L15.9,67.7 L14.8,73.0 M61.3,19.0 L65.6,25.4 L68.8,31.7 L73.0,37.0 L77.2,42.3 L81.5,46.6 L85.7,49.7 L88.9,52.9 M68.8,15.9 L74.0,21.2 L78.3,27.5 L81.5,33.9 L84.6,40.2 L88.9,45.5 L93.1,46.6 M95.2,40.2 L101.6,40.2 L110.0,40.7 M95.2,40.2 L96.3,45.5 L94.2,49.7 L92.0,55.0 L99.4,59.2 L101.6,57.1 M14.8,73.0 L10.6,75.1 L6.3,78.3 L2.1,81.5 L0.0,83.6 M14.8,73.0 L21.2,76.2 L26.5,80.4 L30.7,84.6 L34.9,89.9 L36.0,95.2 L37.0,100.5 L39.2,104.7 L41.3,110.0 M25.5,47.0 L28.0,51.0 L30.7,57.1 L34.9,63.5 L40.2,67.7 L43.4,74.0 L45.5,80.4 L47.6,85.7 L51.9,87.8 L55.0,88.9 L56.1,85.7 L60.3,82.5 L63.5,76.2 L66.6,68.8 L70.9,63.5 L76.2,59.2 L81.5,56.1 M36.0,95.2 L42.3,94.2 L48.7,94.2 L55.0,95.2 L59.2,93.1 M0.0,104.7 L6.3,105.8 L12.7,104.7 L18.0,102.6 L24.3,100.5 L31.7,100.5 L36.0,101.6 M0.0,97.3 L4.2,98.4 L3.2,102.6 M79.3,61.3 L74.0,66.6 L69.8,73.0 L66.6,79.3 L63.5,84.6 L61.3,88.9 L59.2,93.1 L61.3,96.3 L67.7,97.3 L74.0,98.4 L78.3,98.9 L81.5,97.3 L83.6,92.0 L85.7,86.7 L88.9,80.4 L92.0,75.1 L95.2,68.8 L97.3,63.5 L99.4,59.2 L101.6,57.1 M101.6,57.1 L104.7,61.3 L106.8,65.6 L107.9,70.9 L109.0,76.2 L110.0,79.3 M107.9,83.6 L104.7,89.9 L101.6,95.2 L98.4,101.6 L95.2,106.8 L94.2,110.0 M77.2,99.4 L78.3,104.7 L79.3,110.0 M79.3,56.1 L86.7,57.1 L95.2,56.1 L101.6,57.1 M88.9,52.9 L86.0,55.0 L81.5,56.1" fill="none" stroke="#900c0c" stroke-width="11" stroke-opacity="0.55" stroke-linejoin="round" filter="url(#hz)"/><path d="M4.0,43.5 Q-0.7,40.5 -2.4,35.2 M47.2,1.0 Q53.7,0.6 57.3,-4.7 M19.6,72.6 Q12.0,78.1 3.3,74.4 M34.8,102.2 Q44.5,108.1 50.0,118.0 M3.6,82.6 Q-4.8,87.2 -14.3,86.3 M82.8,54.6 Q90.8,51.5 99.1,53.7 M37.9,103.6 Q35.6,95.8 38.1,88.1 M112.7,76.9 Q110.7,87.7 119.8,94.0 M95.6,42.5 Q101.0,55.0 104.1,68.2 M33.1,38.5 Q33.2,46.2 30.0,53.2 M48.5,27.4 Q57.7,32.9 68.4,33.9 M5.0,13.1 Q13.2,15.6 21.4,18.2 M10.3,106.9 Q17.6,112.1 26.3,114.1 M96.1,44.5 Q94.8,48.8 96.7,52.9 M96.3,36.5 Q91.1,29.5 83.3,33.5 M100.0,44.7 Q102.3,39.6 98.5,35.5 M94.2,71.3 Q93.2,84.9 85.1,95.8 M14.1,60.0 Q14.5,47.2 24.6,39.4 M97.4,59.9 Q103.2,64.3 107.5,58.4 M63.4,90.9 Q65.6,86.4 70.7,86.4 M37.7,94.6 Q26.1,90.7 13.8,90.6 M64.2,65.6 Q68.6,54.2 75.7,44.1 M108.3,85.2 Q98.5,88.5 94.2,98.0 M13.7,104.4 Q2.4,109.9 -6.1,119.3 M22.2,45.9 Q33.5,49.2 45.3,48.7 M42.7,26.9 Q43.9,20.9 38.0,19.1 M55.0,27.7 Q63.8,37.2 76.6,36.7 M80.6,103.2 Q81.5,98.6 82.3,94.0 M106.3,41.9 Q113.2,46.0 120.7,43.2 M7.0,8.0 Q-0.2,12.7 -6.5,6.8 M108.9,43.2 Q100.8,31.8 87.1,28.8 M72.1,9.0 Q71.8,17.7 65.6,23.7 M111.0,69.7 Q112.4,59.6 106.4,51.4 M87.6,39.0 Q99.1,42.9 110.5,47.3 M78.8,5.2 Q71.7,4.9 70.6,11.9 M18.4,72.2 Q25.2,77.6 33.8,78.9 M34.9,3.6 Q38.1,-1.9 38.2,-8.2 M106.4,91.1 Q99.2,92.7 94.4,98.3 M105.4,40.0 Q114.4,46.8 125.7,46.7 M37.6,93.6 Q29.9,86.1 26.6,75.9 M29.3,13.1 Q21.1,6.8 12.2,12.2 M29.6,47.2 Q36.0,35.1 41.3,22.5 M17.4,106.4 Q22.5,98.8 29.4,92.8 M37.5,28.4 Q42.4,24.9 48.3,25.2 M45.6,94.0 Q40.0,100.6 31.4,100.1 M86.4,5.1 Q93.9,5.9 99.8,10.6 M42.1,26.9 Q32.8,26.0 23.9,23.0 M108.2,38.7 Q121.0,33.8 133.1,27.3 M112.3,76.1 Q106.4,68.3 111.7,60.1 M100.4,60.0 Q102.5,56.3 106.0,53.9 M99.8,59.5 Q92.8,59.7 92.6,66.7 M90.0,43.2 Q81.5,44.5 74.3,39.8 M34.8,4.2 Q39.3,14.0 38.6,24.8 M109.8,69.0 Q103.2,62.2 103.6,52.8 M9.1,73.8 Q21.0,65.9 34.8,69.6 M75.3,55.4 Q78.1,51.9 81.0,48.5 M6.5,99.9 Q3.9,113.6 -4.1,125.1 M17.2,64.1 Q23.5,70.1 21.0,78.5 M77.2,27.5 Q73.9,13.8 66.8,1.6 M80.3,107.4 Q86.7,109.8 85.6,116.6 M99.9,-1.2 Q92.5,5.3 83.9,10.2 M11.6,4.7 Q2.0,6.3 -4.9,-0.4 M7.8,107.6 Q3.7,110.4 -1.0,111.9 M2.5,99.0 Q4.7,109.6 7.1,120.1 M80.0,62.3 Q72.3,64.1 64.7,66.2 M2.7,102.8 Q7.7,108.7 14.2,112.7 M4.7,41.5 Q16.4,46.7 29.0,44.4 M93.7,45.8 Q99.1,51.9 99.7,59.9 M90.7,53.2 Q87.4,64.3 84.0,75.4 M15.8,52.4 Q13.2,45.1 10.9,37.7" fill="none" stroke="#b01414" stroke-width="0.6" stroke-opacity="0.55" filter="url(#rb2)"/><path d="M10.5,107.2 Q20.6,102.3 31.2,98.2 M78.3,99.8 Q79.3,109.4 83.3,118.3 M12.9,41.7 Q3.4,34.1 -7.8,29.3 M100.4,61.3 Q107.0,68.2 102.6,76.6 M105.5,37.1 Q99.1,33.5 96.6,40.4 M7.8,5.6 Q15.1,-0.8 23.1,4.6 M18.3,63.1 Q26.8,69.2 30.4,79.1 M37.8,68.3 Q45.0,78.9 46.6,91.6 M100.7,57.7 Q106.8,63.1 114.2,66.4 M47.3,26.4 Q43.3,18.1 34.8,14.2 M101.0,42.6 Q92.4,38.0 85.0,31.7 M88.1,57.0 Q93.6,54.6 97.4,50.0 M64.1,2.3 Q53.2,8.3 46.6,18.9 M98.7,41.1 Q101.0,52.9 112.1,57.1 M19.7,52.9 Q16.5,42.6 24.6,35.4 M93.2,59.8 Q99.2,61.8 103.2,57.0 M56.6,89.3 Q54.8,77.2 59.8,66.2 M102.9,88.3 Q99.1,81.0 102.6,73.6 M4.6,78.3 Q9.3,72.0 9.3,64.1 M77.8,101.0 Q79.7,87.7 87.6,76.9 M92.2,43.9 Q91.0,36.7 84.6,33.0 M93.8,53.9 Q99.9,45.8 94.7,37.0 M40.0,14.1 Q37.2,4.0 29.1,-2.7 M1.9,84.2 Q-3.9,90.9 -12.6,92.3 M62.8,99.3 Q58.7,96.5 53.8,96.5 M6.4,103.1 Q10.2,89.8 14.4,76.7 M109.3,63.1 Q97.3,55.3 94.3,41.2 M20.2,4.7 Q14.8,4.5 10.8,8.2 M104.2,40.4 Q117.6,38.8 128.0,47.4 M37.5,97.6 Q27.1,97.7 17.8,102.1 M61.0,90.7 Q65.1,79.5 58.5,69.6 M94.3,102.3 Q99.3,95.5 94.2,88.8 M53.7,90.8 Q61.1,101.7 73.8,105.4 M103.4,63.2 Q108.7,66.5 112.5,71.4 M76.3,22.3 Q83.5,22.9 83.5,30.2" fill="none" stroke="#b01414" stroke-width="1.2" stroke-opacity="0.33" filter="url(#rb)"/><ellipse cx="52" cy="20" rx="6.0" ry="3.0" fill="#c01818" fill-opacity="0.4" filter="url(#nb)"/><ellipse cx="10" cy="60" rx="3.0" ry="6.0" fill="#c01818" fill-opacity="0.4" filter="url(#nb)"/><ellipse cx="50" cy="80" rx="4.5" ry="3.0" fill="#c01818" fill-opacity="0.4" filter="url(#nb)"/><ellipse cx="85" cy="30" rx="6.0" ry="3.0" fill="#c01818" fill-opacity="0.4" filter="url(#nb)"/><ellipse cx="30" cy="20" rx="4.5" ry="3.0" fill="#c01818" fill-opacity="0.4" filter="url(#nb)"/><path d="M6.3,4.8 L14.0,4.5 L21.2,4.8 M0.0,10.6 L2.1,10.6 L8.5,10.0 L15.9,10.6 L23.3,11.1 L29.6,10.6 L33.9,9.5 M33.9,9.5 L34.9,4.2 L36.0,1.0 L44.4,0.5 L55.0,0.8 L63.5,3.2 L70.9,1.6 L76.2,1.1 L82.5,2.1 L88.9,3.2 L97.3,2.1 L110.0,1.1 M33.9,9.5 L36.0,14.8 L38.1,19.0 L40.2,22.2 L42.3,26.5 L41.3,30.7 L38.1,32.8 L33.9,34.9 L31.7,38.1 L29.6,42.3 L26.5,46.6 L23.3,48.7 L19.0,48.7 M0.0,39.1 L4.2,42.3 L10.6,44.4 L16.9,45.5 L21.2,46.6 L25.4,47.6 L29.6,49.7 M40.2,22.2 L45.5,24.3 L50.8,25.4 L55.0,23.0 L58.2,20.1 L61.3,19.0 L68.8,15.9 L73.0,11.6 L76.2,6.3 L80.4,1.1 M42.3,26.5 L47.6,29.6 L55.0,31.7 M15.9,45.5 L18.0,50.8 L19.0,55.0 L16.9,55.0 L14.8,61.3 L15.9,67.7 L14.8,73.0 M61.3,19.0 L65.6,25.4 L68.8,31.7 L73.0,37.0 L77.2,42.3 L81.5,46.6 L85.7,49.7 L88.9,52.9 M68.8,15.9 L74.0,21.2 L78.3,27.5 L81.5,33.9 L84.6,40.2 L88.9,45.5 L93.1,46.6 M95.2,40.2 L101.6,40.2 L110.0,40.7 M95.2,40.2 L96.3,45.5 L94.2,49.7 L92.0,55.0 L99.4,59.2 L101.6,57.1 M14.8,73.0 L10.6,75.1 L6.3,78.3 L2.1,81.5 L0.0,83.6 M14.8,73.0 L21.2,76.2 L26.5,80.4 L30.7,84.6 L34.9,89.9 L36.0,95.2 L37.0,100.5 L39.2,104.7 L41.3,110.0 M25.5,47.0 L28.0,51.0 L30.7,57.1 L34.9,63.5 L40.2,67.7 L43.4,74.0 L45.5,80.4 L47.6,85.7 L51.9,87.8 L55.0,88.9 L56.1,85.7 L60.3,82.5 L63.5,76.2 L66.6,68.8 L70.9,63.5 L76.2,59.2 L81.5,56.1 M36.0,95.2 L42.3,94.2 L48.7,94.2 L55.0,95.2 L59.2,93.1 M0.0,104.7 L6.3,105.8 L12.7,104.7 L18.0,102.6 L24.3,100.5 L31.7,100.5 L36.0,101.6 M0.0,97.3 L4.2,98.4 L3.2,102.6 M79.3,61.3 L74.0,66.6 L69.8,73.0 L66.6,79.3 L63.5,84.6 L61.3,88.9 L59.2,93.1 L61.3,96.3 L67.7,97.3 L74.0,98.4 L78.3,98.9 L81.5,97.3 L83.6,92.0 L85.7,86.7 L88.9,80.4 L92.0,75.1 L95.2,68.8 L97.3,63.5 L99.4,59.2 L101.6,57.1 M101.6,57.1 L104.7,61.3 L106.8,65.6 L107.9,70.9 L109.0,76.2 L110.0,79.3 M107.9,83.6 L104.7,89.9 L101.6,95.2 L98.4,101.6 L95.2,106.8 L94.2,110.0 M77.2,99.4 L78.3,104.7 L79.3,110.0 M79.3,56.1 L86.7,57.1 L95.2,56.1 L101.6,57.1 M88.9,52.9 L86.0,55.0 L81.5,56.1" fill="none" stroke="#c01818" stroke-width="2.6" stroke-opacity="0.8" stroke-linejoin="round" filter="url(#rjag)"/><path d="M61.3,19.0 L65.6,25.4 L68.8,31.7 L73.0,37.0 L77.2,42.3 L81.5,46.6 L85.7,49.7 L88.9,52.9 M30.7,57.1 L34.9,63.5 L40.2,67.7 L43.4,74.0 L45.5,80.4 L47.6,85.7 L51.9,87.8 M79.3,61.3 L74.0,66.6 L69.8,73.0 L66.6,79.3 L63.5,84.6 L61.3,88.9 M0.0,10.6 L15.9,10.6 L29.6,10.6" fill="none" stroke="#70e040" stroke-width="5" stroke-opacity="0.45" stroke-linecap="round" stroke-linejoin="round" filter="url(#gt2)"/><path d="M6.3,4.8 L14.0,4.5 L21.2,4.8 M0.0,10.6 L2.1,10.6 L8.5,10.0 L15.9,10.6 L23.3,11.1 L29.6,10.6 L33.9,9.5 M33.9,9.5 L34.9,4.2 L36.0,1.0 L44.4,0.5 L55.0,0.8 L63.5,3.2 L70.9,1.6 L76.2,1.1 L82.5,2.1 L88.9,3.2 L97.3,2.1 L110.0,1.1 M33.9,9.5 L36.0,14.8 L38.1,19.0 L40.2,22.2 L42.3,26.5 L41.3,30.7 L38.1,32.8 L33.9,34.9 L31.7,38.1 L29.6,42.3 L26.5,46.6 L23.3,48.7 L19.0,48.7 M0.0,39.1 L4.2,42.3 L10.6,44.4 L16.9,45.5 L21.2,46.6 L25.4,47.6 L29.6,49.7 M40.2,22.2 L45.5,24.3 L50.8,25.4 L55.0,23.0 L58.2,20.1 L61.3,19.0 L68.8,15.9 L73.0,11.6 L76.2,6.3 L80.4,1.1 M42.3,26.5 L47.6,29.6 L55.0,31.7 M15.9,45.5 L18.0,50.8 L19.0,55.0 L16.9,55.0 L14.8,61.3 L15.9,67.7 L14.8,73.0 M61.3,19.0 L65.6,25.4 L68.8,31.7 L73.0,37.0 L77.2,42.3 L81.5,46.6 L85.7,49.7 L88.9,52.9 M68.8,15.9 L74.0,21.2 L78.3,27.5 L81.5,33.9 L84.6,40.2 L88.9,45.5 L93.1,46.6 M95.2,40.2 L101.6,40.2 L110.0,40.7 M95.2,40.2 L96.3,45.5 L94.2,49.7 L92.0,55.0 L99.4,59.2 L101.6,57.1 M14.8,73.0 L10.6,75.1 L6.3,78.3 L2.1,81.5 L0.0,83.6 M14.8,73.0 L21.2,76.2 L26.5,80.4 L30.7,84.6 L34.9,89.9 L36.0,95.2 L37.0,100.5 L39.2,104.7 L41.3,110.0 M25.5,47.0 L28.0,51.0 L30.7,57.1 L34.9,63.5 L40.2,67.7 L43.4,74.0 L45.5,80.4 L47.6,85.7 L51.9,87.8 L55.0,88.9 L56.1,85.7 L60.3,82.5 L63.5,76.2 L66.6,68.8 L70.9,63.5 L76.2,59.2 L81.5,56.1 M36.0,95.2 L42.3,94.2 L48.7,94.2 L55.0,95.2 L59.2,93.1 M0.0,104.7 L6.3,105.8 L12.7,104.7 L18.0,102.6 L24.3,100.5 L31.7,100.5 L36.0,101.6 M0.0,97.3 L4.2,98.4 L3.2,102.6 M79.3,61.3 L74.0,66.6 L69.8,73.0 L66.6,79.3 L63.5,84.6 L61.3,88.9 L59.2,93.1 L61.3,96.3 L67.7,97.3 L74.0,98.4 L78.3,98.9 L81.5,97.3 L83.6,92.0 L85.7,86.7 L88.9,80.4 L92.0,75.1 L95.2,68.8 L97.3,63.5 L99.4,59.2 L101.6,57.1 M101.6,57.1 L104.7,61.3 L106.8,65.6 L107.9,70.9 L109.0,76.2 L110.0,79.3 M107.9,83.6 L104.7,89.9 L101.6,95.2 L98.4,101.6 L95.2,106.8 L94.2,110.0 M77.2,99.4 L78.3,104.7 L79.3,110.0 M79.3,56.1 L86.7,57.1 L95.2,56.1 L101.6,57.1 M88.9,52.9 L86.0,55.0 L81.5,56.1" fill="none" stroke="#309a20" stroke-width="2.6" stroke-opacity="0.28" stroke-linejoin="round" filter="url(#jb)"/><path d="M7.6,5.8 L15.3,5.5 L22.5,5.8 M1.3,11.6 L3.4,11.6 L9.8,11.0 L17.2,11.6 L24.6,12.1 L30.9,11.6 L35.2,10.5 M35.2,10.5 L36.2,5.2 L37.3,2.0 L45.7,1.5 L56.3,1.8 L64.8,4.2 L72.2,2.6 L77.5,2.1 L83.8,3.1 L90.2,4.2 L98.6,3.1 L111.3,2.1 M35.2,10.5 L37.3,15.8 L39.4,20.0 L41.5,23.2 L43.6,27.5 L42.6,31.7 L39.4,33.8 L35.2,35.9 L33.0,39.1 L30.9,43.3 L27.8,47.6 L24.6,49.7 L20.3,49.7 M1.3,40.1 L5.5,43.3 L11.9,45.4 L18.2,46.5 L22.5,47.6 L26.7,48.6 L30.9,50.7 M41.5,23.2 L46.8,25.3 L52.1,26.4 L56.3,24.0 L59.5,21.1 L62.6,20.0 L70.1,16.9 L74.3,12.6 L77.5,7.3 L81.7,2.1 M43.6,27.5 L48.9,30.6 L56.3,32.7 M17.2,46.5 L19.3,51.8 L20.3,56.0 L18.2,56.0 L16.1,62.3 L17.2,68.7 L16.1,74.0 M62.6,20.0 L66.9,26.4 L70.1,32.7 L74.3,38.0 L78.5,43.3 L82.8,47.6 L87.0,50.7 L90.2,53.9 M70.1,16.9 L75.3,22.2 L79.6,28.5 L82.8,34.9 L85.9,41.2 L90.2,46.5 L94.4,47.6 M96.5,41.2 L102.9,41.2 L111.3,41.7 M96.5,41.2 L97.6,46.5 L95.5,50.7 L93.3,56.0 L100.7,60.2 L102.9,58.1 M16.1,74.0 L11.9,76.1 L7.6,79.3 L3.4,82.5 L1.3,84.6 M16.1,74.0 L22.5,77.2 L27.8,81.4 L32.0,85.6 L36.2,90.9 L37.3,96.2 L38.3,101.5 L40.5,105.7 L42.6,111.0 M26.8,48.0 L29.3,52.0 L32.0,58.1 L36.2,64.5 L41.5,68.7 L44.7,75.0 L46.8,81.4 L48.9,86.7 L53.2,88.8 L56.3,89.9 L57.4,86.7 L61.6,83.5 L64.8,77.2 L67.9,69.8 L72.2,64.5 L77.5,60.2 L82.8,57.1 M37.3,96.2 L43.6,95.2 L50.0,95.2 L56.3,96.2 L60.5,94.1 M1.3,105.7 L7.6,106.8 L14.0,105.7 L19.3,103.6 L25.6,101.5 L33.0,101.5 L37.3,102.6 M1.3,98.3 L5.5,99.4 L4.5,103.6 M80.6,62.3 L75.3,67.6 L71.1,74.0 L67.9,80.3 L64.8,85.6 L62.6,89.9 L60.5,94.1 L62.6,97.3 L69.0,98.3 L75.3,99.4 L79.6,99.9 L82.8,98.3 L84.9,93.0 L87.0,87.7 L90.2,81.4 L93.3,76.1 L96.5,69.8 L98.6,64.5 L100.7,60.2 L102.9,58.1 M102.9,58.1 L106.0,62.3 L108.1,66.6 L109.2,71.9 L110.3,77.2 L111.3,80.3 M109.2,84.6 L106.0,90.9 L102.9,96.2 L99.7,102.6 L96.5,107.8 L95.5,111.0 M78.5,100.4 L79.6,105.7 L80.6,111.0 M80.6,57.1 L88.0,58.1 L96.5,57.1 L102.9,58.1 M90.2,53.9 L87.3,56.0 L82.8,57.1" fill="none" stroke="#70e040" stroke-width="0.72" stroke-opacity="0.45" stroke-linejoin="round" filter="url(#gt)"/><path d="M6.3,4.8 L14.0,4.5 L21.2,4.8 M0.0,10.6 L2.1,10.6 L8.5,10.0 L15.9,10.6 L23.3,11.1 L29.6,10.6 L33.9,9.5 M33.9,9.5 L34.9,4.2 L36.0,1.0 L44.4,0.5 L55.0,0.8 L63.5,3.2 L70.9,1.6 L76.2,1.1 L82.5,2.1 L88.9,3.2 L97.3,2.1 L110.0,1.1 M33.9,9.5 L36.0,14.8 L38.1,19.0 L40.2,22.2 L42.3,26.5 L41.3,30.7 L38.1,32.8 L33.9,34.9 L31.7,38.1 L29.6,42.3 L26.5,46.6 L23.3,48.7 L19.0,48.7 M0.0,39.1 L4.2,42.3 L10.6,44.4 L16.9,45.5 L21.2,46.6 L25.4,47.6 L29.6,49.7 M40.2,22.2 L45.5,24.3 L50.8,25.4 L55.0,23.0 L58.2,20.1 L61.3,19.0 L68.8,15.9 L73.0,11.6 L76.2,6.3 L80.4,1.1 M42.3,26.5 L47.6,29.6 L55.0,31.7 M15.9,45.5 L18.0,50.8 L19.0,55.0 L16.9,55.0 L14.8,61.3 L15.9,67.7 L14.8,73.0 M61.3,19.0 L65.6,25.4 L68.8,31.7 L73.0,37.0 L77.2,42.3 L81.5,46.6 L85.7,49.7 L88.9,52.9 M68.8,15.9 L74.0,21.2 L78.3,27.5 L81.5,33.9 L84.6,40.2 L88.9,45.5 L93.1,46.6 M95.2,40.2 L101.6,40.2 L110.0,40.7 M95.2,40.2 L96.3,45.5 L94.2,49.7 L92.0,55.0 L99.4,59.2 L101.6,57.1 M14.8,73.0 L10.6,75.1 L6.3,78.3 L2.1,81.5 L0.0,83.6 M14.8,73.0 L21.2,76.2 L26.5,80.4 L30.7,84.6 L34.9,89.9 L36.0,95.2 L37.0,100.5 L39.2,104.7 L41.3,110.0 M25.5,47.0 L28.0,51.0 L30.7,57.1 L34.9,63.5 L40.2,67.7 L43.4,74.0 L45.5,80.4 L47.6,85.7 L51.9,87.8 L55.0,88.9 L56.1,85.7 L60.3,82.5 L63.5,76.2 L66.6,68.8 L70.9,63.5 L76.2,59.2 L81.5,56.1 M36.0,95.2 L42.3,94.2 L48.7,94.2 L55.0,95.2 L59.2,93.1 M0.0,104.7 L6.3,105.8 L12.7,104.7 L18.0,102.6 L24.3,100.5 L31.7,100.5 L36.0,101.6 M0.0,97.3 L4.2,98.4 L3.2,102.6 M79.3,61.3 L74.0,66.6 L69.8,73.0 L66.6,79.3 L63.5,84.6 L61.3,88.9 L59.2,93.1 L61.3,96.3 L67.7,97.3 L74.0,98.4 L78.3,98.9 L81.5,97.3 L83.6,92.0 L85.7,86.7 L88.9,80.4 L92.0,75.1 L95.2,68.8 L97.3,63.5 L99.4,59.2 L101.6,57.1 M101.6,57.1 L104.7,61.3 L106.8,65.6 L107.9,70.9 L109.0,76.2 L110.0,79.3 M107.9,83.6 L104.7,89.9 L101.6,95.2 L98.4,101.6 L95.2,106.8 L94.2,110.0 M77.2,99.4 L78.3,104.7 L79.3,110.0 M79.3,56.1 L86.7,57.1 L95.2,56.1 L101.6,57.1 M88.9,52.9 L86.0,55.0 L81.5,56.1" fill="none" stroke="#70e040" stroke-width="1.28" stroke-linejoin="round" filter="url(#gt)"/><path d="M6.3,4.8 L14.0,4.5 L21.2,4.8 M0.0,10.6 L2.1,10.6 L8.5,10.0 L15.9,10.6 L23.3,11.1 L29.6,10.6 L33.9,9.5 M33.9,9.5 L34.9,4.2 L36.0,1.0 L44.4,0.5 L55.0,0.8 L63.5,3.2 L70.9,1.6 L76.2,1.1 L82.5,2.1 L88.9,3.2 L97.3,2.1 L110.0,1.1 M33.9,9.5 L36.0,14.8 L38.1,19.0 L40.2,22.2 L42.3,26.5 L41.3,30.7 L38.1,32.8 L33.9,34.9 L31.7,38.1 L29.6,42.3 L26.5,46.6 L23.3,48.7 L19.0,48.7 M0.0,39.1 L4.2,42.3 L10.6,44.4 L16.9,45.5 L21.2,46.6 L25.4,47.6 L29.6,49.7 M40.2,22.2 L45.5,24.3 L50.8,25.4 L55.0,23.0 L58.2,20.1 L61.3,19.0 L68.8,15.9 L73.0,11.6 L76.2,6.3 L80.4,1.1 M42.3,26.5 L47.6,29.6 L55.0,31.7 M15.9,45.5 L18.0,50.8 L19.0,55.0 L16.9,55.0 L14.8,61.3 L15.9,67.7 L14.8,73.0 M61.3,19.0 L65.6,25.4 L68.8,31.7 L73.0,37.0 L77.2,42.3 L81.5,46.6 L85.7,49.7 L88.9,52.9 M68.8,15.9 L74.0,21.2 L78.3,27.5 L81.5,33.9 L84.6,40.2 L88.9,45.5 L93.1,46.6 M95.2,40.2 L101.6,40.2 L110.0,40.7 M95.2,40.2 L96.3,45.5 L94.2,49.7 L92.0,55.0 L99.4,59.2 L101.6,57.1 M14.8,73.0 L10.6,75.1 L6.3,78.3 L2.1,81.5 L0.0,83.6 M14.8,73.0 L21.2,76.2 L26.5,80.4 L30.7,84.6 L34.9,89.9 L36.0,95.2 L37.0,100.5 L39.2,104.7 L41.3,110.0 M25.5,47.0 L28.0,51.0 L30.7,57.1 L34.9,63.5 L40.2,67.7 L43.4,74.0 L45.5,80.4 L47.6,85.7 L51.9,87.8 L55.0,88.9 L56.1,85.7 L60.3,82.5 L63.5,76.2 L66.6,68.8 L70.9,63.5 L76.2,59.2 L81.5,56.1 M36.0,95.2 L42.3,94.2 L48.7,94.2 L55.0,95.2 L59.2,93.1 M0.0,104.7 L6.3,105.8 L12.7,104.7 L18.0,102.6 L24.3,100.5 L31.7,100.5 L36.0,101.6 M0.0,97.3 L4.2,98.4 L3.2,102.6 M79.3,61.3 L74.0,66.6 L69.8,73.0 L66.6,79.3 L63.5,84.6 L61.3,88.9 L59.2,93.1 L61.3,96.3 L67.7,97.3 L74.0,98.4 L78.3,98.9 L81.5,97.3 L83.6,92.0 L85.7,86.7 L88.9,80.4 L92.0,75.1 L95.2,68.8 L97.3,63.5 L99.4,59.2 L101.6,57.1 M101.6,57.1 L104.7,61.3 L106.8,65.6 L107.9,70.9 L109.0,76.2 L110.0,79.3 M107.9,83.6 L104.7,89.9 L101.6,95.2 L98.4,101.6 L95.2,106.8 L94.2,110.0 M77.2,99.4 L78.3,104.7 L79.3,110.0 M79.3,56.1 L86.7,57.1 L95.2,56.1 L101.6,57.1 M88.9,52.9 L86.0,55.0 L81.5,56.1" fill="none" stroke="#70e040" stroke-width="0.64" stroke-opacity="0.75" stroke-linejoin="round" filter="url(#jag)"/><ellipse cx="25.4" cy="47.6" rx="3" ry="3" fill="#309a20" fill-opacity="0.45" filter="url(#bl)"/><ellipse cx="58.2" cy="20.1" rx="3" ry="3" fill="#309a20" fill-opacity="0.45" filter="url(#bl)"/><ellipse cx="76.2" cy="98.4" rx="4" ry="3" fill="#309a20" fill-opacity="0.45" filter="url(#bl)"/><ellipse cx="15" cy="73" rx="3" ry="3" fill="#309a20" fill-opacity="0.45" filter="url(#bl)"/><ellipse cx="36" cy="95" rx="3" ry="3" fill="#309a20" fill-opacity="0.45" filter="url(#bl)"/><g filter="url(#gt2)"><ellipse cx="25.4" cy="47.6" rx="2.4" ry="2.4" fill="#70e040" fill-opacity="0.9"/><ellipse cx="58.2" cy="20.1" rx="2.4" ry="2.4" fill="#70e040" fill-opacity="0.9"/><ellipse cx="76.2" cy="98.4" rx="3.2" ry="2.4" fill="#70e040" fill-opacity="0.9"/><ellipse cx="15" cy="73" rx="2.4" ry="2.4" fill="#70e040" fill-opacity="0.9"/><ellipse cx="36" cy="95" rx="2.4" ry="2.4" fill="#70e040" fill-opacity="0.9"/></g><line x1="86" y1="104.2" x2="102" y2="104.2" stroke="#d8d8d8" stroke-width="0.9"/></svg></g>
</svg>
</body></html>
